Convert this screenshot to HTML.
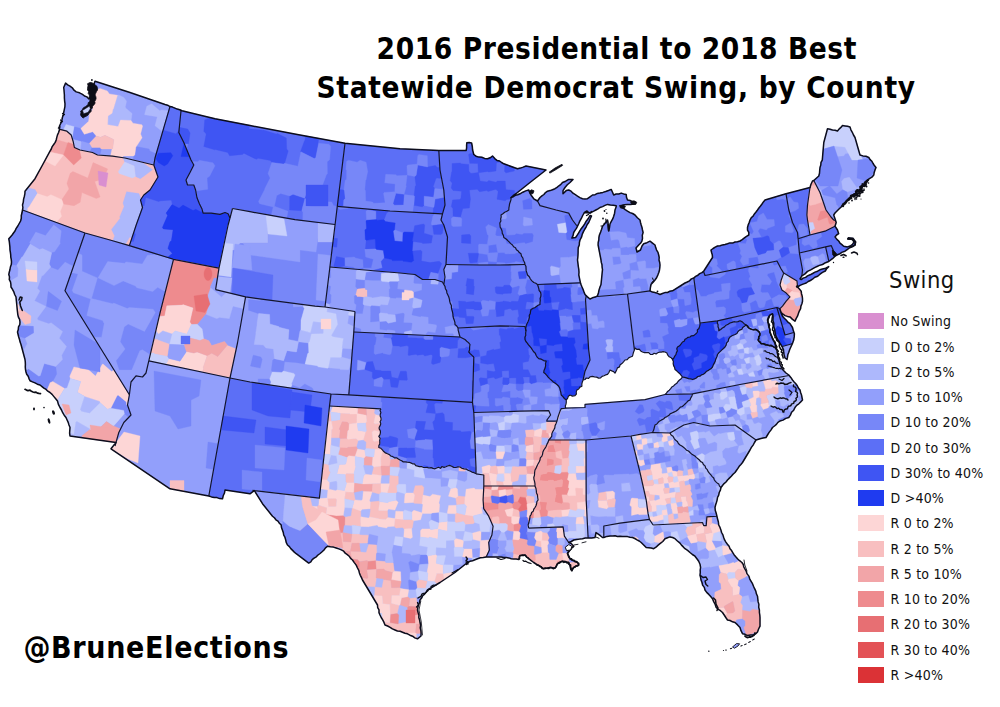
<!DOCTYPE html>
<html><head><meta charset="utf-8"><title>2016 Presidential to 2018 Best Statewide Democrat Swing, by County</title>
<style>
html,body{margin:0;padding:0;background:#fff}
#page{position:relative;width:1000px;height:707px;overflow:hidden;background:#fff;font-family:"DejaVu Sans Condensed","DejaVu Sans","Liberation Sans",sans-serif;color:#000}
.t{position:absolute;white-space:nowrap;font-weight:bold;font-size:29.5px;letter-spacing:0.67px;line-height:1}
.sw{position:absolute;left:857.5px;width:26.7px;height:16px}
.lb{position:absolute;left:890.6px;font-size:14px;line-height:19px;white-space:nowrap;letter-spacing:0.2px;color:#111}
</style></head><body><div id="page">
<svg width="1000" height="707" viewBox="0 0 1000 707" style="position:absolute;left:0;top:0">
<defs><clipPath id="us"><path d="M65.6,83.1 67.7,84.8 70,86.2 72.3,87.8 74,90.2 76.2,91.9 79.5,92.8 82.5,94.4 84.5,96 86.9,96.9 89,99 90.3,96.8 91.2,94.4 92,92 92.5,89.3 93.7,86.8 94,84 95,81.2 130,92.5 165,104.5 167.6,105.2 170,106.6 172.5,107.1 174.9,108.1 177.2,109.1 179.7,109.7 182,110.8 215,118.8 250,125.5 300,135 345,143.3 400,148.8 438.8,150.5 466.2,150.5 466.6,147.9 466.6,145.4 466.8,142.8 469.2,142.5 471.6,143 472.3,146.5 472.6,150 473.8,154.5 476,156.2 478.8,157.1 481.8,157.2 484.6,158.4 487.5,158.8 490.2,157.8 492.5,156 495,158.8 497,160.4 499.6,161 501.6,162.5 503.8,163.8 517.5,168.8 520.4,168.1 523.2,167.1 526,166 546,170 530,182.5 517.5,192.5 515.3,194.1 513.1,195.7 511,197.5 513.3,196.7 515.4,195.4 517.7,194.7 520,193.8 522.8,192.2 525.7,190.9 528.8,190 529.7,192.6 531,195 533.8,198.8 537.5,201 540,197.5 541.9,195.9 543.9,194.5 545.5,192.6 547.5,191.2 550.1,190.6 552.5,189.7 555,188.7 557,187.4 558.9,185.8 560.9,184.3 562.5,182.5 565.7,181.2 568.7,179.4 573,179.4 570,182.5 567.3,184.8 565,187.5 563,190.6 563,193.7 566.2,190.6 568.7,190 571.1,191.2 573,193.2 575.3,194.7 577.5,196.2 579.9,197.6 582.5,198.7 585,199 587.5,198.7 590,196.8 592.5,195 595.1,194.7 597.4,193.4 600,193.1 602.9,192.4 605.7,191.5 608.5,190.5 611.2,189.4 612.5,192.2 613.7,195 616.1,194 618.8,194 621.2,193.1 623.6,193.9 626.2,194.4 626.5,197.3 627.5,200 630.1,200.4 632.4,201.6 635,201.9 635.6,203.7 632.9,204.3 630.2,204.6 627.5,204.4 624.2,204.8 621,206 623,207.9 625.2,209.7 627.5,211.2 630,212.6 632.6,213.5 635,215 637.4,217.7 640,220 640.5,222.5 641.2,225 642,227.5 642.5,230 643.1,232.5 642.3,235.3 642.5,238.3 641.9,241.2 640.5,243.3 638.7,245 636,248 637,252 640.5,250 642,246 643.7,243.7 647,242.7 650,241.2 652.5,243.1 655,245 655.7,247.6 656.6,250.1 658,252.4 658.7,255 659.2,257.5 659,260 659.7,262.5 660,265 659.8,267.5 659.5,270 658.8,272.5 657.8,275.1 656.6,277.7 655,280 653.1,282.3 651,284.5 650.4,287.6 650,290.8 652.4,292.1 655,292.6 657.6,293.3 660,294.5 662.4,293.5 664.9,292.6 667.6,292.5 669.9,291.2 672.5,290.8 685,283 687.3,282 689.5,280.8 691.4,278.9 693.8,278 695.6,276.4 697.9,275.3 699.6,273.6 702,272.6 703.8,271 712.5,257.5 712.3,254.9 711.6,252.5 711,250 713.1,248.5 715.2,247.2 717.5,246 720.1,245.8 722.5,244.9 725,244.4 727.5,243.8 729.9,242.9 732.6,243.1 735,242 737.5,241.8 740,241 742.2,239.6 744.4,237.9 746.5,236.4 748.8,235 748.8,232.4 747.5,230.1 747.5,227.5 748.2,224.9 749.2,222.5 750,220 751.2,217.8 753.1,216.1 754.4,213.9 756,212 757.5,210 758.9,208 760.5,206 762,204 763.4,201.9 765,200 786,193.8 810,187.5 811,184.2 812.5,181 813.8,180.5 816.3,178.2 818.8,176 819.5,173.2 819.7,170.3 820,167.5 820.8,165 821,162.4 822.3,160.1 822.5,157.5 823.8,142.5 827.5,128.8 830,129.2 832.5,130 835.1,130.2 837.5,131 839,129.1 840.9,127.4 842.5,125.5 845,125.9 847.5,126.3 850,127 850.9,129.8 852.3,132.3 853.5,135 855,137.5 860,155 862.9,155.9 866,156.3 868.8,157.5 870.1,159.6 871.9,161.3 873.1,163.5 874.4,165.6 876,167.5 875,169.9 874.2,172.4 873.8,175 871.9,177.2 869.4,178.7 867.1,180.5 865,182.5 863.6,185.2 862,187.7 860,190 857.5,191.7 855.2,193.7 852.5,195 850.5,196.8 848.5,198.5 847,200.8 845,202.5 842.8,204.4 841.2,207 839,209 837,211 835,213 833.7,215 835,218.7 836.2,222.5 835,226.2 837.5,230 838.7,233.7 836.6,235 835,236.9 836.9,239.4 838.7,241 840,243.1 841.9,244.6 843.7,246.2 847.5,246.9 850.2,246 852.5,244.4 854,242 852.5,239.6 848.1,238.9 848.3,237.8 853,238.2 855.6,241.9 855,245 852.7,246.6 850,247.5 847.5,249.3 845,251.2 842.3,252.1 840,253.7 837.4,254.8 835,256.2 832.5,258.7 828.7,261.5 825.5,262.7 822.5,264.5 819.4,265.4 816.5,266.7 813.7,268.2 810.7,269.9 807.5,271.4 805,273.9 801.9,275.8 800,278.8 801.2,279.6 803.1,278.1 805.6,277.4 807.5,275.9 810.1,274.8 812.6,273.5 815,272.1 817.6,271.2 819.9,269.8 822.5,269 825.7,268.2 828.7,266.6 826.7,268.6 825.3,271 822.5,272.4 820,274.2 817.7,276.2 814.8,277.2 812.5,279.2 810.4,280.5 808.2,281.5 806.2,283 803,284.1 800,285.4 797.5,287 799.4,289.1 801.2,291.2 801.5,293.7 802.2,296.1 802.5,298.7 802.5,301.2 801.9,303.7 800.9,306.1 800.6,308.7 799.3,311.1 798.4,313.6 797.5,316.2 796.1,318.6 795,321.2 792.5,319.4 790,316.9 787.5,316.4 785,315.6 783,314.2 781.2,312.5 780,309.5 781.1,312.9 782.5,316.2 784.3,318.2 786.2,320 787.9,322.1 790,323.7 792.5,327.5 793.3,330.6 794.4,333.7 794.2,336.9 793.7,340 792.6,343.1 791.2,346.2 789.8,349.3 788.7,352.5 787.8,354.8 787.5,357.2 787,359.5 785,358 784.2,355.3 783.7,352.5 783.5,349.9 782.5,347.5 781.3,345.3 779.9,343.3 778.7,341.2 776.9,338.2 775.6,335 775.1,332.1 774.6,329.1 773.7,326.2 773.8,323.3 772.9,320.4 773.1,317.5 772.5,313.7 770,315 768.4,317.3 767.5,320 768.2,323.1 768.7,326.2 769.7,329.3 770,332.5 771.4,335.6 772.5,338.7 774,341.1 775,343.7 775.9,346.9 776.9,350 777.3,352.7 777.9,355.3 778.1,358 779.3,361.2 780,364.5 781.2,366.6 782.2,368.9 783.8,370.8 786,373 788.8,375 790.8,377.4 792.5,380 794.1,381.9 795.8,383.8 797.3,385.8 798.4,388.1 800,390 800.6,392.5 801.5,394.9 802,397.5 802.5,400 800.7,401.9 798.8,403.8 796.6,405.4 795,407.5 793.7,410.2 791.6,412.3 790.4,415.1 788.8,417.5 785.8,418.4 783,420.1 780,421 777.9,422.4 776.4,424.4 774.5,426 772.5,427.5 770.9,430.1 769.1,432.4 767.5,435 766,437.5 763,438.1 760,438.8 756,440 754.5,442.5 753.1,445.1 751.4,447.4 750,450 742.5,462.5 740.9,464.4 739.2,466.3 737.9,468.4 736.4,470.5 735,472.5 733,474.3 731.3,476.3 729.4,478.1 727.5,480 726,482 724.1,483.6 722.5,485.5 721,487.5 720.4,490.1 719.2,492.5 718.7,495.1 717.5,497.5 717.1,500.1 716.4,502.5 715.6,505 715,507.5 715.3,510.5 716.2,513.3 716.9,516.2 717.6,519.1 718.4,522 718.7,525 720,527.4 720.9,529.9 721.6,532.5 722.9,534.9 723.7,537.5 724.6,539.9 725.9,542.1 727.4,544.2 729.1,546.3 730,548.7 731.6,550.6 732.9,552.8 734.2,554.9 735.8,556.8 737.5,558.7 739.6,560.7 741.9,562.5 743.3,564.5 743.8,567 745,569.1 746.2,571.2 747.1,573.9 748.9,576.1 749.7,578.8 751.1,581.3 752.5,583.7 753.5,586.2 754.6,588.7 755.8,591.1 756.4,593.8 757.5,596.2 757.8,599 758.1,601.7 758.9,604.4 758.7,607.3 759.4,610 759.4,612.5 759.8,615 760,617.5 760,620 760,623.1 760,626.2 758.6,629 757.5,631.9 755.8,633.7 753.7,635 750.6,635.1 747.5,635.6 745.1,634.3 742.5,633.7 741,630.7 740,627.5 737.6,624.9 735,622.5 732.5,621.8 730.1,620.5 727.5,620 725.8,617.5 724.2,615 722.5,612.5 720.5,610.7 718.2,609.3 716.2,607.5 715.2,604.5 713.7,601.6 712.5,598.7 710.7,596.5 708.8,594.4 706.7,592.4 705,590 704.3,587.4 702.6,585.1 702,582.5 701,580 700.6,577.5 700,575 700.3,572.5 700.2,570 700.6,567.5 700,564.2 698.7,561.2 696.9,558.7 695,556.2 692.4,554.5 690,552.5 687.6,550.4 685,548.7 683.3,546.9 681.5,545.1 680,543.1 677.4,541 675,538.7 672.6,537.5 670,536.9 667.5,537.7 665,538.7 662.8,541.5 660,543.7 657.9,545.4 656,547.2 653.7,548.7 651.2,548.1 648.7,547.7 646.2,547.5 643.7,545 641.2,542.5 639.2,541 637,539.8 634.8,538.5 632.5,537.5 630,537.3 627.5,536.6 625,536.4 622.5,536.6 620,536.2 617.5,536.5 615,535.8 612.5,535.9 610,536 606.8,536.4 603.8,537.5 602.5,537.5 600.4,535.7 598.2,534.1 596,532.5 595.6,535 595,537.5 591.6,538 588.1,538 585.2,538 582.5,538.7 579.6,539.1 576.6,539.4 573.7,540 571.3,541.5 568.7,542.5 571.2,543.5 573.7,546.2 571.7,548 570,550 567.5,553.7 568.9,556.1 570,558.7 572.3,560.3 575,561.3 577.5,562.5 578.7,565 576.1,566 573.7,567.5 571.9,570.6 570.6,568.5 570,566 568.7,562.5 565.6,561.6 562.5,561.2 559.8,562.1 557.5,563.7 556.4,566 555,568.1 552.5,568.1 550,567.5 546.9,568.3 543.7,568.7 541.6,567.5 539.8,565.9 537.5,565 533.7,562.5 531.2,560.6 528.7,558.7 526.7,557 525,555 522.5,555.1 520,555.6 518.7,559.4 516.2,559 513.7,559 511.2,558.7 508.8,557.9 506.3,557.5 503.7,557.4 501.2,556.9 486.2,556.9 483.3,557.5 480.3,557.8 477.5,558.8 475,559.7 472.5,560.7 469.9,561.3 467.5,562.5 455,572.5 440,582.5 427.5,590 426.1,592.1 424.6,594.1 422.7,595.8 421.6,598.1 420,600 419.5,602.5 418.5,604.9 417.9,607.4 417.5,610 418.1,612.5 418.9,614.9 418.8,617.5 419.6,620 420,622.5 420.6,625.2 420.2,627.9 420.9,630.6 421.1,633.3 421,636 417.5,638.8 414.8,637.9 412.6,636.2 409.9,635.2 407.5,633.8 405,633.2 402.5,632.2 400.1,631.2 397.4,631 395,630 392.4,628.9 390.1,627.3 387.6,626 385,625 384,622.4 382.7,619.9 381.2,617.5 380,615 379,612.6 379,609.9 377.7,607.6 377.5,605 370,592.5 362.5,580 361.5,577.6 360.3,575.3 359.4,572.9 358.8,570.3 357.5,568 356.2,565.1 354.3,562.6 352.5,560 350.6,558.4 349.2,556.2 347.3,554.6 345.2,553.2 343.7,551.2 341.3,549.9 338.8,548.9 336.2,548 333.4,547.1 330.4,546.8 327.5,546.2 325.5,547.9 324,550 322.1,551.8 320.1,553.5 318,555 316.3,556.8 314.1,558.1 312.2,559.6 310.8,561.8 308.7,563.1 296.2,553.7 294.3,552.1 292.6,550.4 290.8,548.6 289.4,546.6 287.5,545 286.3,542.6 285.7,540 285,537.4 283.7,535 283.3,532.5 282.4,530 281.5,527.6 281.2,525 279.4,523.3 278,521.2 275.9,519.8 274.4,517.8 272.5,516.2 262.5,503.7 254.4,490.6 252.2,492.2 250,493.8 225,490 224.5,493 223.2,495.8 222.5,498.8 219.7,498.6 217,497.6 214.2,497.4 211.5,496.9 208.8,496 170,488.8 111,448.8 112.6,446.7 114.4,444.6 116,442.5 70,436 69.6,433.2 69.8,430.3 70,427.5 69,425 68.2,422.4 67.1,420 66,417.5 64.2,415.2 62.7,412.7 61.5,410 60,407.5 58.4,404.4 57.5,401 55.7,398.8 53.9,396.6 52.1,394.4 50,392.5 47.8,391.2 46.1,389.4 43.9,388.1 42,386.6 40,385 37.4,384.2 35,382.9 32.5,381.9 30,380.8 29,378.6 28.2,376.3 26.7,374.3 26,372 25.5,369.5 25.3,367 25.4,364.5 25.3,362 25,359.5 21,344.5 20.1,342.1 19.5,339.5 18.7,337 18.1,334.5 17.5,332 18.3,329.5 18.5,326.9 19.8,324.6 20,322 19.6,319.4 18.4,317.1 17.8,314.6 17.5,312 16,297 14.7,294.5 13.8,291.8 12.5,289.4 11,287 10.9,284.4 10.5,281.9 9.3,279.6 9.5,276.9 8.8,274.5 9.3,272 10,269.5 10.4,267 11.3,264.6 11.5,262 11.3,259.6 10.8,257.2 10.7,254.8 10.4,252.4 10,250 9.9,247.2 9.6,244.3 9.3,241.5 8.8,238.8 10.4,236.9 12.1,235 13.5,233 15,231 16.2,228.4 17.8,226 19.2,223.5 20.6,221 21.3,218.3 21.3,215.5 22,212.8 22.5,210 22.9,207.5 22.5,205 23.3,202.1 23.6,199.1 24.4,196.2 24.9,193.7 25,191.2 35,178.7 42.5,165 50,151.2 51.3,149 52.2,146.6 53.7,144.5 55.2,142.4 56.2,140 56.8,137.4 57.5,134.9 58.6,132.5 59.4,130 59.4,126.2 60.8,123.2 61.9,120 62.4,117.5 63.2,115 63.7,112.5 64.3,109.6 64.9,106.7 65,103.7 64.6,100.8 64.4,97.9 64.4,95 64.2,92.5 64,90 63.7,87.5ZM616.2,205.8 613.3,205.3 610.4,205.1 607.5,204.4 605,205.4 602.6,206.6 600,207.5 598,208.9 595.9,210 593.7,211.2 590,213.1 587.2,212.8 584.4,212.5 582.7,215.5 581.2,218.7 579.8,221.1 578.7,223.7 577.5,226.2 576.4,228.4 575,230.4 573.7,232.5 573.1,235.4 571.9,238.1 575.6,237.5 577.1,235.3 578.5,233.2 579.8,230.9 581.2,228.7 583.1,226.3 584.7,223.8 586.2,221.2 588.3,218.5 590,215.5 591.5,216 590.1,219.2 588.7,222.5 587.2,224.5 586.2,226.8 584.9,229 583.7,231.2 582.3,234.1 581.5,237.2 580,240 579.4,242.5 579.3,245 578.3,247.4 578.1,250 578.1,252.5 578,255 577.8,257.5 577.5,260 577.9,263.2 578.3,266.3 578.8,269.5 579,272.2 578.8,275 579.3,277.4 579.8,279.8 580.3,282.2 581,284.5 582,287 583.1,289.5 584,292 585,294.5 587.4,296.9 590,299 592.4,297.8 595.1,297.1 597.5,295.8 598.4,293 599,290.1 599.9,287.2 601,284.5 602.5,269.5 602.1,267.1 602,264.7 601.3,262.4 601,260 598.1,245 598.2,242.5 598.8,240 598.9,237.5 599.4,235 600.6,232.1 601.6,229.2 602.5,226.2 604.3,224.2 605.9,222.1 607.5,220 608,222.5 608.1,225 608.4,228 608.7,231 609.5,227.5 610,224 611.3,221.4 612.7,218.9 613.7,216.2 614.6,213.2 615,210 616.2,206.8Z"/></clipPath></defs>
<g stroke-width="0.35" stroke-linejoin="round">
<path d="M170,106.6 167.6,105.2 165,104.5 130,92.5 95,81.2 94,84 93.7,86.8 92.5,89.3 92,92 91.2,94.4 90.3,96.8 89,99 86.9,96.9 84.5,96 82.5,94.4 79.5,92.8 76.2,91.9 74,90.2 72.3,87.8 70,86.2 67.7,84.8 65.6,83.1 63.7,87.5 64,90 64.2,92.5 64.4,95 64.4,97.9 64.6,100.8 65,103.7 64.9,106.7 64.3,109.6 63.7,112.5 63.2,115 62.4,117.5 61.9,120 60.8,123.2 59.4,126.2 59.4,129.3 60,129.4 66.9,131.2 71.2,135 73.1,141.2 74.4,147.5 80,150 92.5,152.5 97.5,155 112.5,156.2 125,158 153.8,165 155,158 165,123.7Z" fill="#929FFB" stroke="#929FFB"/>
<path d="M63.2,130.2 66.9,131.2 71.2,135 72.4,139 74.5,126.8 66.1,124.4Z" fill="#C8D0FC" stroke="#C8D0FC"/>
<path d="M96.3,136 92.7,131.7 84.3,134.2 80.9,128.5 74.4,126.8 72.4,138.9 72.5,139.3 81.2,141.7 82.1,141.1 89.5,143.2ZM101.4,149 100,147.4 92.1,147.4 89.9,152 92.5,152.5 97.5,155 99.9,155.2ZM135.8,146.7 134.7,154.9 133.6,155.9 133.3,160 145.6,163 145.9,162.6 154,163.8 155,158 156.2,153.8 149.8,151 149.1,149 136.3,146.5Z" fill="#7787F8" stroke="#7787F8"/>
<path d="M118.8,94.9 117.5,95.2 113.4,108.9 112.9,109.2 112.1,113.1 108,115.8 107.6,124.8 118.2,126.7 120.5,120.1 131.1,120.5 132.1,113.4 125.9,108.3 125.3,106.9 126.6,101.3 123.9,97.5ZM157,116.7 157.2,117.2 155,125.8 162.6,131.8 165,123.7 168.8,110.7 161.6,109.9 159.8,110.8 151.6,103.7 146.8,106.2 144.6,114.3 144.8,114.7ZM80.3,150.1 80.4,150.1 81.2,141.6 72.5,139.3 73.1,141.2 74.4,147.5 76.4,148.4Z" fill="#ADB8FC" stroke="#ADB8FC"/>
<path d="M107.3,90.9 100.1,88.4 94.8,90.5 93.8,97.2 90.8,100.2 92.6,109.8 89.6,112 88.6,121.3 80.8,128.5 84.3,134.3 92.7,131.8 96.3,136 100.6,137.3 104.9,135.3 113.7,139.6 112.7,148.3 112,148.9 110.5,156 112.5,156.2 122.5,157.6 123.2,156 133.6,155.9 134.8,154.9 135.9,146.8 136.3,146.6 142.1,137.8 140.6,133.9 142.6,126 141.8,124.7 132.9,123.2 131.1,120.5 120.5,120.1 118.1,126.6 107.7,124.7 108,115.9 112.1,113.2 113,109.3 113.4,108.9 117.5,95.2 109.4,93.9Z" fill="#FDD6D6" stroke="#FDD6D6"/>
<path d="M101.3,149 112,149 112.8,148.4 113.8,139.6 104.9,135.3 100.6,137.2 96.3,136 89.5,143.2 92.1,147.5 100,147.4Z" fill="#F8BFC0" stroke="#F8BFC0"/>
<path d="M59.4,129.3 59.4,130 58.6,132.5 57.5,134.9 56.8,137.4 56.2,140 55.2,142.4 53.7,144.5 52.2,146.6 51.3,149 50,151.2 42.5,165 35,178.7 25,191.2 24.9,193.7 24.4,196.2 23.6,199.1 23.3,202.1 22.5,205 22.9,207.5 22.5,210 85,233 110,240 129.4,245.6 136.2,225 142.5,207.5 140.5,200 143.8,195 150,190 158,177 153.8,165 125,158 112.5,156.2 97.5,155 92.5,152.5 80,150 74.4,147.5 73.1,141.2 71.2,135 66.9,131.2 60,129.4Z" fill="#F8BFC0" stroke="#F8BFC0"/>
<path d="M124.7,162.2 134,166 135.4,176.4 140.4,178.7 152.5,169.8 152.4,169.5 142.1,162.2 125,158 123.2,157.7ZM27.7,187.8 25,191.2 24.9,193.7 24.4,196.2 23.6,199.1 23.3,202.1 22.5,205 22.9,207.5 22.5,210 27.7,211.9 27.9,207.9 28.8,207.4 37.4,193.6 35,189.5ZM114.6,235.7 112.9,240.8 125.4,244.4 129.8,236.9 131.9,238.2 136.2,225 142.5,207.5 140.5,200 141.1,199.1 138.9,193.6 126.6,191.7 123,203.1 124.1,206.4 119.7,216.9 120.2,218.2 111.5,229.4Z" fill="#ADB8FC" stroke="#ADB8FC"/>
<path d="M56.3,139.6 56.2,140 55.2,142.4 53.7,144.5 52.2,146.6 51.3,149 50,151.2 49.6,151.9 63.5,154.9 63.7,154.8 67.8,142.9ZM107.6,169.2 107.4,168.8 93.1,162.6 87.8,178 72.9,171.5 70.2,173.3 66.9,183.4 69,189.1 61.8,199.7 63.3,204 74.1,205.7 80.2,202.2 81.9,192.5 96.3,198.6 100.1,197 94.7,181.4 103.3,179Z" fill="#F2A5A8" stroke="#F2A5A8"/>
<path d="M49.6,151.9 46,158.5 46.2,161.4 55,166 63.5,154.9ZM28.8,207.4 27.8,207.8 27.6,211.9 56.2,222.4 61.6,216.3 60.2,211.6 63.3,204 61.9,199.7 50.9,194.7 47.2,196.8 37.4,193.6Z" fill="#FDD6D6" stroke="#FDD6D6"/>
<path d="M81.3,158.1 79.4,149.7 74.4,147.5 73.8,144.4 68.4,142.5 67.7,142.9 63.6,154.8 73.7,165Z" fill="#EE8B8E" stroke="#EE8B8E"/>
<path d="M118.4,171.6 119.1,173.4 132.3,178 135.4,176.4 134.1,166 124.7,162.1Z" fill="#C8D0FC" stroke="#C8D0FC"/>
<path d="M22.5,210 22,212.8 21.3,215.5 21.3,218.3 20.6,221 19.2,223.5 17.8,226 16.2,228.4 15,231 13.5,233 12.1,235 10.4,236.9 8.8,238.8 9.3,241.5 9.6,244.3 9.9,247.2 10,250 10.4,252.4 10.7,254.8 10.8,257.2 11.3,259.6 11.5,262 11.3,264.6 10.4,267 10,269.5 9.3,272 8.8,274.5 9.5,276.9 9.3,279.6 10.5,281.9 10.9,284.4 11,287 12.5,289.4 13.8,291.8 14.7,294.5 16,297 17.5,312 17.8,314.6 18.4,317.1 19.6,319.4 20,322 19.8,324.6 18.5,326.9 18.3,329.5 17.5,332 18.1,334.5 18.7,337 19.5,339.5 20.1,342.1 21,344.5 25,359.5 25.3,362 25.4,364.5 25.3,367 25.5,369.5 26,372 26.7,374.3 28.2,376.3 29,378.6 30,380.8 32.5,381.9 35,382.9 37.4,384.2 40,385 42,386.6 43.9,388.1 46.1,389.4 47.8,391.2 50,392.5 52.1,394.4 53.9,396.6 55.7,398.8 57.5,401 58.4,404.4 60,407.5 61.5,410 62.7,412.7 64.2,415.2 66,417.5 67.1,420 68.2,422.4 69,425 70,427.5 69.8,430.3 69.6,433.2 70,436 116,442.5 118.8,432.5 123.8,422.5 131,415 127.5,405 129.4,394.8 65,290.8 85,233Z" fill="#929FFB" stroke="#929FFB"/>
<path d="M13.1,233.6 12.1,235 10.4,236.9 8.8,238.8 9.3,241.5 9.6,244.3 9.9,247.2 10,250 10.4,252.4 10.7,254.8 10.8,257.2 11.3,259.6 11.5,262 11.3,264.2 16.8,265.4 21.9,256.9 22.7,256.7 30.2,244.1 29.3,242.4 35.6,231.7 45.5,235.2 53.7,224.4 61.6,230.7 60.2,242.2 60.6,243.4 54.7,252 51.7,252.8 49.2,264 50.7,267 57.9,269.8 65.1,261.8 73.5,266.2 85,233 22.5,210 22,212.8 21.3,215.5 21.3,218.3 20.6,221 19.2,223.5 17.8,226 16.2,228.4 15,231 13.9,232.4ZM18.2,334.9 18.5,336 25.2,338.3 34,332.9 33.8,325.8 20.3,325.2 17.7,332.7 18,334.1ZM33.7,382.4 35,382.9 37.4,384.2 40,385 42,386.6 43.9,388.1 46.1,389.4 47,390.4 50.1,382.7 52.7,381.5 56.7,374 55.7,366.5 44.1,363.4 40.1,375.7 38.7,376.1 28.5,368.6 25.7,370.6 25.8,371.1 26.5,373.6 26.7,374.3 28.2,376.3 29,378.6 30,380.8 31.3,381.4ZM68.6,277.4 68.9,279.5 70,276.5ZM61.5,301.3 48.5,291.6 48.2,291.8 46.4,306.3 57.4,310.5ZM126.7,404.7 126.5,401.8 118.3,395.1 117.2,395.3 110.8,408.2 123.6,410.4 124.3,413.7 128.8,417.3 131,415 127.5,405 127.5,404.9Z" fill="#7787F8" stroke="#7787F8"/>
<path d="M16.7,265.3 18.3,268.4 17.9,276.4 11.2,280.6 11,287 12.5,289.4 13.8,291.8 14.7,294.5 16,297 17.5,312 17.8,314.6 18.4,317.1 19.6,319.4 20,322 19.8,323.9 20.3,325.3 33.8,325.9 34,332.9 25.2,338.3 27.3,343.8 22.9,351.5 25,359.5 25.3,362 25.4,364.5 25.3,367 25.4,367.7 25.7,370.4 25.7,370.7 28.5,368.7 38.6,376.1 40.2,375.7 44.2,363.5 55.7,366.5 62.5,359.6 61.7,355.3 66.5,346.5 59.3,338.3 62.6,331.5 51.1,322.8 48.8,323.8 37.8,319.9 37.3,318.3 46,306.4 34.5,300.8 39.9,291.1 37.3,288.2 41.9,275.7 43.1,275.6 50.8,267 49.2,264 51.7,252.8 42.6,248.6 39.5,249.6 30.2,244.1 22.7,256.7 21.9,256.9ZM80.2,409.5 81.4,411.7 89.7,413.3 100.3,402.8 99.9,401.2 84.5,396.3ZM75.6,422.1 73.9,434 73.3,434.1 69.7,432.4 69.6,433.2 70,436 78.4,437.2 78.5,436.5 81.6,436.1 89.8,429.7 89.5,428.5 76.9,421.2Z" fill="#ADB8FC" stroke="#ADB8FC"/>
<path d="M73.9,366.9 69.8,376.2 70.4,378.5 80.7,381.5 77.3,392.3 84.5,396.3 99.9,401.3 100.2,402.8 107.4,409.2 110.8,408.2 117.2,395.4 118.3,395.2 126.4,401.9 126.6,404.8 127.5,405 129.4,394.8 114,369.9 111.6,371.6 103,364 102.3,364.2 95.5,376.1 86.3,367.7 83.3,368.9ZM57.3,400.4 64.6,388.5 52.7,381.4 50.1,382.7 47,390.3 47.8,391.2 50,392.5 52.1,394.4 53.9,396.6 55.7,398.8 57.1,400.4Z" fill="#FDD6D6" stroke="#FDD6D6"/>
<path d="M64.6,388.5 57.2,400.4 57,400.4 57.5,401 58.4,404.4 60,407.5 61.5,410 62.7,412.7 64.2,415.2 66,417.5 67.1,420 68.2,422.4 69,425 70,427.5 69.8,430.3 69.7,432.5 73.3,434.2 73.9,434 75.7,422.1 76.9,421.3 89.5,428.6 89.8,429.7 95.2,432.6 106.5,421.4 113,426 113.7,425.9 124.4,413.7 123.7,410.4 110.8,408.2 107.4,409.1 100.2,402.8 89.6,413.3 81.5,411.6 80.2,409.5 84.5,396.3 77.4,392.2 80.8,381.5 70.4,378.5 67.1,388Z" fill="#C8D0FC" stroke="#C8D0FC"/>
<path d="M89.8,429.6 81.6,436.1 83.3,437.9 116,442.5 118.8,432.5 120.5,429.1 113.7,425.9 113.1,426 106.5,421.4 95.2,432.5Z" fill="#F2A5A8" stroke="#F2A5A8"/>
<path d="M129.4,245.6 110,240 85,233 65,290.8 129.4,394.8 131,382 136,375.8 142.5,377 146,373 148.8,360.8 160,313 173.5,259.3Z" fill="#7787F8" stroke="#7787F8"/>
<path d="M78,273.9 72.2,290.6 73.5,292.8 90.7,299.1 86.8,315.6 102.7,320.6 104.2,323.7 101.6,337.2 93.7,337.2 128.2,392.9 129.7,392.3 131,382 136,375.8 142.5,377 146,373 148.8,360.8 150.2,354.8 142.4,349.8 139.8,350.8 131.8,370.1 119,370.1 116,360.7 125.1,349 120.2,341.8 124.2,326.9 128.1,324.1 144.5,331.4 155.3,312.5 153.1,309.2 129.2,307.5 127.4,308.6 113.7,303.1 112.6,303.7 91.5,298.5 97.4,277.9 82.1,271.3 82.1,255.1 78.1,253 71.3,272.5ZM123.2,280.9 135.5,286 136.8,287.7 152.7,291.6 157.7,287.3 165.4,291.7 173.5,259.3 157.9,254.4 147.5,255.2 142.3,264 126,261.9 124.5,263.3 107.7,261.6 98,277.8 114,285.6Z" fill="#929FFB" stroke="#929FFB"/>
<path d="M181.1,110.4 179.7,109.7 177.2,109.1 174.9,108.1 172.5,107.1 170,106.6 170,106.6 165,123.7 155,158 153.8,165 158,177 150,190 143.8,195 140.5,200 142.5,207.5 136.2,225 129.4,245.6 173.5,259.3 219,268.1 228.1,225 230,218 228.1,213.7 225,212.5 220,214.4 211.2,213.1 203.1,213.1 201.9,208.7 199.4,203.7 196.9,197.5 195.6,190 193.8,185 187.5,185 186,180 190,172.5 193.8,165 191,160 183.8,142.5 178.8,132.5 181,111Z" fill="#3F55F3" stroke="#3F55F3"/>
<path d="M144.6,205.5 144.1,205.9 142.1,206.2 142.5,207.5 136.2,225 134.1,231.4 135.8,234.6 133.6,242 130.8,241.4 129.4,245.6 167.5,257.4 172.4,253.4 168,248.4 170,241.7 171.5,240.8 173.1,229.7 163.5,228.8 162.5,227.6 167.7,215.4 166.2,213.1 172.1,204.7 171.1,200.4 159.7,201.3 159,202 146,197.8ZM164.6,130.3 176,133.5 177.7,131.6 178.9,131.5 181,111 181.1,110.4 179.7,109.7 177.2,109.1 175.9,108.5 173.9,107.7 172.5,107.1 170,106.6 170,106.6 165,123.7 163.7,128.1Z" fill="#5C6FF6" stroke="#5C6FF6"/>
<path d="M189.6,156.7 184.5,144.2 183.7,144.4 181,156.6ZM158.3,162.4 164.2,166 167.5,164 172.8,155.7 170.8,152.7 158.1,153.2 156,158.8ZM166.1,213.1 167.6,215.4 162.4,227.6 163.4,228.9 173.1,229.7 171.4,240.7 170,241.7 167.9,248.4 172.4,253.4 167.4,257.4 173.5,259.3 219,268.1 228.1,225 230,218 228.1,213.7 225,212.5 220,214.4 211.2,213.1 203.1,213.1 202.5,210.8 200.9,212 195.8,209.3 193.1,210.5 183,205.1 179.1,208.2 172,204.6Z" fill="#1F3BF0" stroke="#1F3BF0"/>
<path d="M345,143.3 300,135 250,125.5 215,118.8 182,110.8 181.1,110.4 181,111 178.8,132.5 183.8,142.5 191,160 193.8,165 190,172.5 186,180 187.5,185 193.8,185 195.6,190 196.9,197.5 199.4,203.7 201.9,208.7 203.1,213.1 211.2,213.1 220,214.4 225,212.5 228.1,213.7 230,218 232.5,208.5 250,211.7 295,219.7 335.1,224.5 337.3,206.3Z" fill="#5C6FF6" stroke="#5C6FF6"/>
<path d="M208.5,118.3 204.7,119.9 203.8,131.2 206.2,133.9 203.8,146.5 214.6,149.8 215.2,149.5 227.7,152.5 229.6,155.8 242.5,154.4 243.9,153.2 256.3,159.3 258.2,158.3 270.4,160.4 271.9,162.4 283.5,164.1 284.6,163.4 288.2,151 286.7,149 286.3,138 277.5,133.6 276.4,134 263.3,130.1 263,130.3 249,128.8 249.5,125.4 215,118.8 208.9,117.3ZM187.7,144.2 188.5,143.7 190.1,133 187.7,129.1 179.3,127.3 178.8,132.5 183.8,142.5 184.4,144ZM300.6,151.4 300.9,151.9 314.2,158.6 315.8,157.9 318.7,143.4 318.1,142.8 318.8,138.5 305.5,136 305,140.3 304.5,140.7ZM342.8,161.7 343.3,157.2 342.1,160.4ZM305,198.7 318.8,201.7 319.1,201.4 320.7,186.9 309.4,185 304.7,198.1 293,194.2 289.7,196 289.6,210 301.9,210.7Z" fill="#3F55F3" stroke="#3F55F3"/>
<path d="M187.8,144.1 184.4,144 186.7,149.5ZM207.8,189.3 207,178 209.6,176.3 215,165.8 212.9,162.7 199.3,160.3 197.8,161.7 191.9,161.6 193.8,165 190,172.5 186,180 187.5,185 193.8,185 195.6,190 195.8,191ZM283.5,164.1 271.8,162.4 268,173.6 270.1,178.1 264.6,189.1 264.7,189.5 258.5,201.6 259.6,203.7 273.2,207 271.1,215.5 286.7,218.2 288,211.3 274.4,206.2 276.7,195.5 280.7,193.5 289.7,196 293,194.3 304.7,198.2 309.5,185 320.6,186.9 322.2,186 326.4,174.7 327.4,173.9 327.2,161.8 329.6,159.7 330.7,146.2 328.9,144.3 318.6,143.3 315.7,157.8 314.2,158.5 300.9,151.8 297.9,166.2 284.6,163.3ZM333.5,205.5 331.7,202 319,201.4 318.7,201.7 304.9,198.6 301.8,210.6 303.1,212.4 302.8,220.6 335.1,224.5 337.3,206.6Z" fill="#7787F8" stroke="#7787F8"/>
<path d="M232.5,208.5 230,218 228.1,225 219,268.1 215.6,289.7 245.6,296.9 315,306.2 325,307 329.9,267 335.1,224.5 295,219.7 250,211.7Z" fill="#7787F8" stroke="#7787F8"/>
<path d="M219,268.1 173.5,259.3 160,313 148.8,360.8 230,378 237.5,343 245.6,296.9 215.6,289.7Z" fill="#ADB8FC" stroke="#ADB8FC"/>
<path d="M159.6,314.5 159.2,316.4 164.8,316.1 166.9,305.9 182.5,305.1 182.9,304.7 192.9,308.1 189.7,322 191.4,324.5 197.8,324.3 205.7,314.4 209.1,303.6 206,300.1 210.5,287.3 210.3,286.9 214.2,277.9 217.3,278.6 219,268.1 173.5,259.3 166,289.3Z" fill="#EE8B8E" stroke="#EE8B8E"/>
<path d="M182.5,305.1 166.8,305.8 164.7,316 159.2,316.4 155.9,330.5 158.6,333.8 162.8,330.6 172.4,333.7 175.2,331 186.8,334.2 191.5,324.5 189.8,322 193,308 182.9,304.6ZM193.7,353.1 186.4,351.5 180,361.2 168.9,358.4 165.8,364.4 202.6,372.2 203.6,368.3 203.2,367.6 207.2,355.6 197.1,351.9Z" fill="#FDD6D6" stroke="#FDD6D6"/>
<path d="M153.6,353.2 154.7,354.1 167.8,356.5 169.7,344.3 157.8,339.9 157.5,339.4 153.9,339.1 150.6,353ZM211.7,353.1 207.2,355.6 203.1,367.6 203.5,368.3 202.5,372.2 230,378 236.3,348.5 227.3,345 217.8,356.4Z" fill="#F8BFC0" stroke="#F8BFC0"/>
<path d="M191.4,324.5 186.8,334.1 175.2,331 172.4,333.6 169.6,344.3 184.4,345.1 187.6,337.4 199.9,340.6 204.1,338.8 202.7,329.1 197.8,324.3ZM168.9,358.5 167.8,356.5 154.7,354.1 153.7,353.1 150.6,353 148.8,360.8 165.8,364.4Z" fill="#C8D0FC" stroke="#C8D0FC"/>
<path d="M221.5,296.8 226,292.6 227.3,292.5 215.6,289.7 217.4,278.6 214.2,277.9 210.3,286.9 210.5,287.3ZM205.6,314.4 197.7,324.3 202.6,329.1 204,338.8 208.8,340.8 211.7,345.7 224.5,341.4 227.3,345 236.3,348.6 237.5,343 243.5,309 233.1,306.6 229.5,318.9 219.4,317.7 216.9,318.9ZM184.4,345.1 169.6,344.3 167.7,356.5 168.9,358.5 180,361.2 186.5,351.5Z" fill="#929FFB" stroke="#929FFB"/>
<path d="M186.4,351.5 193.8,353.1 197.1,352 207.2,355.7 211.7,353.2 217.8,356.5 227.4,345 224.5,341.4 211.7,345.6 208.9,340.7 204,338.8 199.9,340.5 187.6,337.3 184.3,345.1Z" fill="#F2A5A8" stroke="#F2A5A8"/>
<path d="M116,442.5 114.4,444.6 112.6,446.7 111,448.8 170,488.8 208.8,496 230,378 148.8,360.8 146,373 142.5,377 136,375.8 131,382 129.4,394.8 127.5,405 131,415 123.8,422.5 118.8,432.5Z" fill="#929FFB" stroke="#929FFB"/>
<path d="M230,378 250,382 331,394 348.8,394.8 353.8,332 355,311.5 325,307 315,306.2 245.6,296.9 237.5,343Z" fill="#929FFB" stroke="#929FFB"/>
<path d="M260.3,300.9 248.8,299.4 248.5,299.6 248.6,310.2 258.7,313.7 259,313.4 269.6,314.5 269.8,323.9 278.8,326.6 279.1,327.3 288.9,329.8 288.2,339.5 298.2,341.5 300.1,330.8 301,330.1 301.1,320.3 304.4,308.3 303.2,306.8 293,307.2 292.9,307.1 293.1,303.3 260.8,298.9ZM260.8,357.1 253.4,355.2 253.1,355.4 250.5,366 260.2,368.1 262.2,359.2ZM271.4,370.3 272.3,372 281.9,372.5 283.4,371.1 284.5,361.8 295.5,362.4 305,364 307.8,353.6 308.9,352.9 308.5,342.8 298.4,341.7 296.6,351.7 296.3,351.9 287.4,350.7 286.8,351.1 283.6,360.6 274.4,358.7 272.6,360.4ZM269.7,379 258.1,378.9 258.2,383.2 270.2,385 271.1,382ZM312.3,387.9 304.8,384 299.8,387.9 291.9,384.9 290.6,388 312.9,391.3 313.3,389.9Z" fill="#7787F8" stroke="#7787F8"/>
<path d="M255.9,333.7 254.1,344.5 263.3,345 265.9,347.9 273.4,348.9 274.4,358.7 283.6,360.7 286.8,351.2 287.4,350.7 296.3,352 296.6,351.7 298.5,341.8 308.4,342.9 309.6,341.8 311.5,334.1 322.4,333.9 323.5,333 323.5,323.5 323,322.5 313,321.5 310.4,332.5 300.9,330 300,330.8 298.1,341.4 288.3,339.4 289,329.7 279.1,327.2 278.8,326.6 269.9,323.9 269.6,314.5 259,313.4 258.6,313.6 257,323.5 257.2,323.7 255.7,333.4ZM326.8,312.2 335.8,313.9 337.7,324.6 337.2,324.8 331.3,335.2 332.5,336.9 343.1,338.5 341.8,347.4 342.2,348.2 352.4,349 353.3,338.2 352.9,337.7 353.5,335.5 353.7,333 353.9,330.5 354.1,326.8 347.5,323.6 348.8,315.3 348.3,314.3 349.5,310.7 327.1,307.3ZM348.6,369.8 351.5,361.5 351.5,360.4 350.8,359.5 341.3,357 340.6,357.5 330.4,357.1 328.3,367.7 339.7,368.7 340.4,369.6ZM348.6,382.4 349.8,382.6 350.3,376.1 348.4,382Z" fill="#ADB8FC" stroke="#ADB8FC"/>
<path d="M310.4,332.6 313.1,321.5 322.9,322.6 323.4,323.5 323.4,332.9 322.4,333.8 311.4,334.1 309.6,341.7 308.4,342.8 308.8,352.8 307.7,353.6 305.1,363.9 317.3,365.7 318,366.8 327.6,368.3 328.3,367.7 330.5,357.2 340.6,357.6 341.4,357 342.3,348.2 341.9,347.4 343.2,338.5 332.6,336.8 331.4,335.2 337.3,324.9 337.7,324.6 335.9,313.8 326.8,312.1 327.2,307.3 325,307 315,306.2 303.5,304.7 303.2,306.8 304.4,308.3 301,320.2 300.9,330.1ZM269.7,379 271.1,382 270.2,385 290.6,388 292,385 291.4,383.8 295,374.9 293.9,373.4 283.4,371.1 281.8,372.5 272.3,371.9ZM348.8,315.3 354.7,316 355,311.5 349.5,310.7 348.2,314.3Z" fill="#C8D0FC" stroke="#C8D0FC"/>
<path d="M208.8,496 211.5,496.9 214.2,497.4 217,497.6 219.7,498.6 222.5,498.8 223.2,495.8 224.5,493 225,490 250,493.8 252.2,492.2 254.4,490.6 319.4,498.1 329.5,406 331,394 250,382 230,378Z" fill="#5C6FF6" stroke="#5C6FF6"/>
<path d="M438.8,150.5 400,148.8 345,143.3 337.3,206.3 390,211 442.5,213.8 445,205 443.8,190 440,170Z" fill="#5C6FF6" stroke="#5C6FF6"/>
<path d="M416,185.4 415.2,186.1 414.1,195.8 414.5,196.3 413.8,205.3 422.2,206.8 424.1,205.4 424.3,196.2 433.6,197.3 434.8,188.5 433.2,186.5 436,178.4 437,177.9 441.6,178.5 440,170 439.8,167.5 437.4,167.5 435.3,165.6 427.7,167 417.7,164.9 416.1,175.3 414.8,176.3ZM339.3,189.5 337.3,206.3 343.4,206.8 343.8,200 345.3,198.4 344.5,190.6 343.9,190ZM404.1,194.2 395.9,193.1 392.9,203.5 394.4,205.3 403.3,205.2 403.7,204.9 404.4,194.6ZM435,199 433.9,206.8 433.4,207.3 433.2,213.3 442.5,213.8 445,205 444.4,197.2Z" fill="#3F55F3" stroke="#3F55F3"/>
<path d="M346.6,179.2 345.2,180.2 343.9,190 344.4,190.6 345.2,198.4 343.8,200 343.3,206.8 390,211 412.7,212.2 413.5,205.6 413.9,205.2 414.5,196.3 414.1,195.8 404.3,194.6 403.6,204.8 403.3,205.1 394.4,205.2 393,203.4 395.9,193.2 404.1,194.3 406.3,185.9 405.9,185.4 407.1,175.3 396.8,175.8 396.1,174.8 385.7,174.3 384.7,182.8 395.1,183.9 394.8,191.8 384.3,192.4 383.5,193.3 385.1,202.3 384.6,202.8 373.7,203.3 372.5,202 365.7,201.1 365.4,190.5 364.8,189.9 365.5,180.5 366,180.1 367.8,170.9 367.5,170.6 366.1,162.2 360.1,160.3 357.1,162.2 348.3,160.2 346.5,161.6 345.9,169.4 346.6,170.2ZM407.8,165.1 406.9,165.9 407.4,175.1 414.8,176.4 416.2,175.3 417.8,164.9 427.6,167 427.3,155.7 418.9,154.5 417.8,155.4 417.1,164.1ZM424.2,196.2 424.1,205.4 433.5,207.4 434,206.8 435.1,199.1 444.4,197.2 444.1,193.5 443.7,189.7 443.7,189.4 434.8,188.5 433.6,197.2Z" fill="#7787F8" stroke="#7787F8"/>
<path d="M337.3,206.3 335.1,224.5 329.9,267 400,273 415,274.5 422.5,279.5 435,279.5 442.5,282 443.8,284.5 445,277 443.8,269.5 446,264.5 447.5,237 443.8,225 441,220 442.5,213.8 390,211Z" fill="#5C6FF6" stroke="#5C6FF6"/>
<path d="M339.7,209.4 347.8,208.4 348,207.3 337.3,206.3 337.1,208 338.4,208.1ZM376.4,219.7 376.3,210.8 368.3,209.5 366,211.3 366.6,220.3ZM365.4,248.9 364.8,249.5 365.7,257.1 373.4,259.2 371.3,267.9 363.2,267.9 363.4,269.9 373.5,270.7 373.5,270.4 382.6,267.9 381.3,261.5 384.5,257.8 383.3,250.2 376.6,249.4 375.8,248.4ZM344.8,265.7 353.4,267 355.2,269 363.2,267.8 362.8,259.7 355.4,258 354.5,257 344.8,257.8 344.5,258.2ZM434.4,214.5 432.9,215.9 431.2,224.3 432.6,225.5 442.4,224.3 443.6,225.9 444.1,225.9 443.8,225 441,220 442.5,213.8 434.1,213.4ZM393.1,231 394.6,241 402.4,241.8 402.8,241.3 403.1,232.9 394.5,229.8ZM438.4,273.8 437.9,273.3 430.6,271.8 428.1,279.5 435,279.5 438.1,280.5Z" fill="#7787F8" stroke="#7787F8"/>
<path d="M368.2,209.6 376.2,210.9 376.3,219.7 377,220.3 384,219.8 386.6,212.9 388.2,211.9 388,210.8 368.3,209.1ZM336.4,247.3 336.8,246.9 337.5,238.6 333.4,238.1 332.4,246.5ZM365.4,248.9 375.8,248.5 375.3,239.4 374.9,239.1 366.2,240.2ZM335.3,267.5 337.5,267.7 344.7,265.8 344.5,258.2 336.3,256.6 333.8,265.8ZM373.5,270.7 400,273 415,274.5 422.5,279.5 428.1,279.5 430.6,271.8 437.9,273.3 441.7,263.6 439.2,261.3 430.1,262.6 421.4,260.9 422,251.7 420.9,250.3 412.4,251.1 413.6,260.7 411.3,262.3 403.2,261.3 402.5,260.3 392.5,260.7 391.6,259.4 384.5,257.8 381.2,261.4 382.5,267.9 373.5,270.3ZM442.5,224.2 432.6,225.5 433.9,234.3 440.8,234.5 442.4,233.4 443.7,225.8ZM413.4,232.2 413.6,232.7 412.3,240.7 413,241.6 422.1,242.7 422.7,243.5 431.4,243 432.5,235.7 424,233.2 424.7,224.9 423.4,224 414.7,225.7Z" fill="#3F55F3" stroke="#3F55F3"/>
<path d="M366,221 366.5,228.5 364.9,229.9 365.3,239.4 366.2,240.3 374.9,239.1 375.2,239.4 375.7,248.5 376.6,249.4 383.3,250.3 384.5,257.9 391.6,259.5 392.5,260.8 402.5,260.4 403.2,261.3 411.3,262.3 413.7,260.7 412.5,251.1 412.2,251 413,241.5 412.4,240.7 413.7,232.6 413.4,232.2 404.4,231.9 403,232.9 402.7,241.3 402.4,241.8 394.6,240.9 393.1,231 394.5,229.9 395.2,222.9 385.4,221.5 384,219.8 377,220.2 376.4,219.6 366.6,220.2Z" fill="#1F3BF0" stroke="#1F3BF0"/>
<path d="M325,307 355,311.5 353.8,332 460,337 459.4,334.8 458.8,332.5 458.2,330.3 458,328 456.8,326 455,324.5 454.9,322.4 454.3,320.3 453.5,318.3 453,316.2 452.9,314.1 452.5,312 451.9,309.9 451.4,307.7 451.4,305.5 450.3,303.4 449.7,301.3 449.4,299.1 448.8,297 447.9,295 446.9,292.9 446.6,290.6 445.4,288.7 445,286.4 443.8,284.5 442.5,282 435,279.5 422.5,279.5 415,274.5 400,273 329.9,267Z" fill="#929FFB" stroke="#929FFB"/>
<path d="M381.1,280.3 381.3,273.5 389.6,272.5 389.6,272.1 373.3,270.7 365.8,272.2 364.7,279.8 372.1,280.3ZM330.8,277.4 330.4,269.8 329.6,269.6 328.6,277.8ZM356.1,279.1 355.7,286.7 357.5,289.1 364.7,288.4 364.6,279.8ZM389.4,297.2 389.9,297.8 395.6,298.2 396.4,297.6 403.6,297.7 404.7,289.9 397.2,289 398.2,281.2 389.7,281.3 389.1,282.1 390.3,288.3 389.2,289.5ZM331.1,294.9 329.6,293.6 330.7,286.4 327.6,285.5 325.5,303.3 329.3,304.3 330.9,302.6ZM355.8,295.1 354.3,296.1 354.5,303.2 356.4,304.8 355.3,313.3 362.4,313.6 363.9,304.9 363,304.1 363.8,297ZM370.5,322 379.7,321.1 379.3,313.9 380.2,312.8 379.6,306.1 371.7,305.2 370.6,306.1 370.7,313.8ZM387.6,329.5 394.4,330.3 395.6,331.7 395.3,334 404.3,334.4 404.3,332.1 411.1,330.6 412.1,323.6 411.6,323 403.5,322.8 404.3,314.1 403.3,313.1 395.6,314.4 395.1,315 395.8,321.6 388.2,323.1 386.2,321 380,321.4 380,329.3 386.5,330.3ZM354.8,327.3 354,327.8 353.8,332 360.7,332.3 360.8,329.1ZM407.1,274.5 411.7,274.2 406.3,273.6ZM422.1,300.2 420.8,307.1 413.6,308.3 411.9,314.6 412.1,314.9 420.4,316.7 421.2,316.1 428.5,317 428.6,323.5 436.1,324.5 437.1,325.9 435.3,332.9 427.9,331.8 426.2,333.7 426.4,335.4 453.6,336.7 453.4,334.4 452.9,333.8 445.5,333.8 444.6,326.9 453.7,325 454.8,326.6 457.3,326.9 456.8,326 455,324.5 454.9,322.4 454.6,321.5 454.1,319.7 453.5,318.3 453,316.2 452.9,314.1 452.8,313.4 452.2,311.2 451.9,309.9 451.4,307.7 451.4,305.5 450.3,303.4 449.7,301.3 449.4,299.1 448.8,297 447.9,295 446.9,292.9 446.6,290.6 445.4,288.7 445,286.4 443.8,284.5 442.5,282 438.5,280.7 437.9,284.1 431.1,283.9 430.9,283.7 431.5,279.5 422.5,279.5 415,274.5 414.4,274.4 413.8,282.6 414.3,283.2 422.1,283.7 421.9,290.3 413.4,292.5 413.5,297.4Z" fill="#7787F8" stroke="#7787F8"/>
<path d="M356.1,279.1 364.6,279.9 364.7,279.7 365.8,272.2 373.5,270.8 363.1,269.8 357,269.3 356.9,270.5 356.1,271.3ZM363,304.1 363.9,304.9 370.6,306.2 371.7,305.3 379.5,306.1 381.1,304.6 387.7,304.9 389.9,297.8 389.4,297.2 380.2,296.4 380,296.7 372.3,298 371.7,297.4 364.7,296.2 363.7,297.1ZM325.5,303.2 325,307 329.9,307.7 329.3,304.2ZM430.8,283.7 431,283.9 438,284.2 438.6,280.7 435,279.5 431.5,279.5ZM413.6,297.4 412.4,306.9 413.6,308.3 420.8,307.2 422.2,300.2ZM395.1,315 388.1,314.3 387.4,313.5 380.2,312.8 379.2,313.9 379.7,321.1 380,321.5 386.2,321.1 388.2,323.2 395.9,321.6ZM412,331.5 411,330.5 404.3,332 404.2,334.4 411.9,334.7Z" fill="#ADB8FC" stroke="#ADB8FC"/>
<path d="M363.7,297.1 364.8,296.2 365.2,288.9 364.7,288.3 357.5,289.1 355.8,295.1Z" fill="#F8BFC0" stroke="#F8BFC0"/>
<path d="M399.1,280.4 397.7,272.9 390.7,273.3 389.6,272.4 381.3,273.5 381.1,280.3 381.8,281.3 389.1,282.1 389.7,281.3 398.2,281.3Z" fill="#C8D0FC" stroke="#C8D0FC"/>
<path d="M413.6,297.4 413.5,292.5 412.3,290.9 404.6,289.9 403.6,297.6 405,299.4Z" fill="#FDD6D6" stroke="#FDD6D6"/>
<path d="M348.8,394.8 472.5,402.3 473.8,357 472,355.4 470.4,353.8 468.8,352 469.6,349.6 469.6,347 470,344.5 468.5,342.6 466.7,341.2 465,339.5 462.5,338.2 460,337 353.8,332Z" fill="#5C6FF6" stroke="#5C6FF6"/>
<path d="M357.1,369.7 357.6,370.2 364.9,369.3 366.5,362.7 357.7,360Z" fill="#929FFB" stroke="#929FFB"/>
<path d="M399.2,346 400.1,346.7 407,345.5 408.7,346.8 408.1,354.8 408.6,355.4 416.2,354.3 417.1,355.2 423.1,354.4 424.9,356.1 431.2,354.4 432.6,355.7 431.4,363.3 433,364.4 439.8,362.5 440.2,362.2 441,357.2 440.1,356 440,348.4 441.3,347.4 449.9,349.2 450.5,348.6 457.3,347.9 457.6,340.6 459.4,338.8 458.9,336.9 432.9,335.7 433,339 432.7,339.4 425.1,339.4 423.6,338.2 417.2,338.2 416.9,337.9 407.8,337.7 407.6,337.4 407.8,334.5 391.9,333.8 392.7,336.7 390.9,338.5 392.3,345.7ZM372.3,377.6 374.2,379.7 381.6,377.1 383.3,379.2 389.9,379.1 391.1,387 397.3,387.4 397.6,387.2 399.2,380 406.9,380.3 407.4,379.8 406.5,371.7 405.9,371.2 400.5,371.2 398.1,378.5 391.6,377.3 390.7,371 381.4,371.1 380.8,370.4 375.2,370.1 372.7,361.4 367.2,361.9 366.4,362.7 364.8,369.3 365,369.5 372.4,372ZM466.6,346.9 464.6,348.5 458.5,348.8 457.8,357.3 458.1,357.7 465.9,357.8 473.1,356.4 472,355.4 470.4,353.8 468.8,352 469.6,349.6 469.6,347.7ZM473.5,367.8 473.5,365.7 473.2,366.1ZM472.2,380.4 472.4,390.1 472.9,390.1 473.1,380.3 472.5,380.2Z" fill="#3F55F3" stroke="#3F55F3"/>
<path d="M375.1,336.3 376.6,337.7 375.5,344.6 374.5,345.3 374,353.2 375.1,354.4 382.6,352.7 383.3,353.4 389.6,354.8 391,353.8 392.4,345.8 391,338.5 383.8,337.7 383.4,337.3 384.1,333.4 375.2,333ZM433,335.7 424.5,335.3 423.6,338.2 425.1,339.5 432.7,339.4 433,339.1ZM449.2,355.2 449.9,349.2 441.3,347.3 439.9,348.4 440,356.1 441,357.2 448.3,356.2ZM472.5,380.2 473.1,380.4 473.3,375.1ZM374.1,379.7 374,385.9 381.9,387.1 383.4,379.1 381.6,377.1Z" fill="#7787F8" stroke="#7787F8"/>
<path d="M348.8,394.8 331,394 329.5,406 381,408.8 380,410.6 380.9,412.5 380.3,414.3 380.2,416.1 381,418 381.1,419.9 380.1,421.7 380.8,423.6 380.3,425.4 379.2,427.2 379.2,429 380.4,430.9 380.4,432.8 380,434.6 378.8,436.4 380.2,438.3 379.7,440.2 379.8,442 379.7,443.9 378.9,445.6 378.8,447.5 380.9,448.3 382.4,449.9 383.8,451.6 385.5,452.9 387.5,453.8 389.4,454.6 390.8,456 392.8,456.6 394.4,457.9 396.6,457.8 398.3,458.9 400,460 401.7,460.7 403.3,461.9 405.3,461.8 407.2,462.1 409.1,462.3 410.8,462.9 412.5,463.8 414.4,463.8 415.8,465.7 417.7,466.1 419.4,466.6 421.4,466.5 423.1,467.3 425,467.5 427.1,467.4 429,468 431.1,467.6 433,468.4 435,468.8 436.7,468 438.4,467.3 440.5,468.3 442,466.5 444.1,467.4 445.8,466.8 447.5,466 449.6,465.4 451.7,466.3 453.7,467.4 455.8,467.5 457.9,466.9 460,467 461.8,468.2 463.9,468.9 466.1,469.1 468,470.3 470,471 471.9,472.1 474.1,472.7 476,473.8 476,467.5 473.8,412.5 472.5,402.3Z" fill="#5C6FF6" stroke="#5C6FF6"/>
<path d="M380.5,411.1 381.2,410.4 382,402.8 380.8,401.6 381.2,396.8 348.8,394.8 331,394 329.5,406 381,408.8 380,410.6 380.6,411.8ZM380.6,413.3 380.3,414.3 380.2,416.1 380.8,417.6ZM381.4,420.4 381,420 380.1,421.7 380.6,422.9ZM414.9,439.2 417.7,430.1 415.4,428.1 407.2,429.6 408.3,437.7ZM469.7,440.6 470.5,448.8 475.3,449.4 474.6,432 471.3,432.5 469.9,440.4ZM378.9,445.8 378.9,445.8 379.6,445.9 380,445.5 380.7,438 379.1,436 378.8,436.4 380.2,438.3 379.7,440.2 379.8,442 379.7,443.9 379.3,444.6ZM433.1,449.4 432.7,439.3 425.2,439 424.9,439.3 415.8,440.2 415.3,447.1 423.7,448.8 424,449.2ZM396.5,457.3 396.5,457.8 396.6,457.8 398.3,458.9 400,460 401.7,460.7 403.3,461.9 405.3,461.8 406,461.9 406.7,458 398.4,455.5 398.7,448.1 396.8,446.4 389.6,447.6 388.2,454.1 389.4,454.6 390.8,456 391.3,456.2ZM462.7,468.6 463.9,468.9 466.1,469.1 468,470.3 468.9,470.6 468.6,468Z" fill="#7787F8" stroke="#7787F8"/>
<path d="M426.1,402.6 428,404.6 425.9,412.6 435.5,413.6 434.1,404.5 435.8,402.9 442.1,403.3 442.9,400.5 426.7,399.5ZM434.4,430.3 424,429.7 425.6,421.6 416.2,421.1 415.4,428.1 417.7,430.1 414.8,439.1 415.8,440.2 424.9,439.4 425.3,439.1 432.7,439.5 433.1,449.3 432.9,457.7 433.7,458.4 434.2,466.8 441.2,467.5 442,466.5 444.1,467.4 444.7,467.1 446.8,466.3 447.5,466 449.6,465.4 451.7,466.3 453.7,467.4 455.8,467.5 457.9,466.9 460,467 461.8,468.2 462.9,468.6 468.5,468 468.8,470.6 470,471 471.9,472.1 474.1,472.7 476,473.8 476,467.8 470.5,466.2 469.4,459.8 470.5,458.5 475.6,457.8 475.3,449.4 470.5,448.7 469.7,440.7 470,440.4 471.3,432.5 470.2,431.3 461.5,432.1 460.4,430.7 452.4,430.6 452.6,422.6 444.8,421.7 444.1,414.3 442.4,412.7 435.8,413.8 434.7,420.1 432.7,422.1ZM380.2,429.7 379.2,428.3 379.2,429 380.1,430.4ZM380.7,438 379.9,445.6 388.6,446.7 389.6,447.7 396.9,446.4 397.9,439.1 397.3,438.1 389.9,435.9 388.3,437.4ZM398.3,455.6 406.7,458 407.2,457.6 415.2,457.6 415.7,457 414.4,447.9 407.2,448.3 406.7,447.9 398.6,448.1ZM396.6,457.2 391.1,456.1 391.8,456.3 392.8,456.6 394.4,457.9 396.6,457.8ZM433.1,467.8 424,465.3 422.5,466.5 422.5,467.1 423.1,467.3 425,467.5 427.1,467.4 429,468 431.1,467.6 433,468.4 433,468.4Z" fill="#3F55F3" stroke="#3F55F3"/>
<path d="M254.4,490.6 262.5,503.7 272.5,516.2 274.4,517.8 275.9,519.8 278,521.2 279.4,523.3 281.2,525 281.5,527.6 282.4,530 283.3,532.5 283.7,535 285,537.4 285.7,540 286.3,542.6 287.5,545 289.4,546.6 290.8,548.6 292.6,550.4 294.3,552.1 296.2,553.7 308.7,563.1 310.8,561.8 312.2,559.6 314.1,558.1 316.3,556.8 318,555 320.1,553.5 322.1,551.8 324,550 325.5,547.9 327.5,546.2 330.4,546.8 333.4,547.1 336.2,548 338.8,548.9 341.3,549.9 343.7,551.2 345.2,553.2 347.3,554.6 349.2,556.2 350.6,558.4 352.5,560 354.3,562.6 356.2,565.1 357.5,568 358.8,570.3 359.4,572.9 360.3,575.3 361.5,577.6 362.5,580 370,592.5 377.5,605 377.7,607.6 379,609.9 379,612.6 380,615 381.2,617.5 382.7,619.9 384,622.4 385,625 387.6,626 390.1,627.3 392.4,628.9 395,630 397.4,631 400.1,631.2 402.5,632.2 405,633.2 407.5,633.8 409.9,635.2 412.6,636.2 414.8,637.9 417.5,638.8 421,636 421.1,633.3 420.9,630.6 420.2,627.9 420.6,625.2 420,622.5 419.6,620 418.8,617.5 418.9,614.9 418.1,612.5 417.5,610 417.9,607.4 418.5,604.9 419.5,602.5 420,600 421.6,598.1 422.7,595.8 424.6,594.1 426.1,592.1 427.5,590 440,582.5 455,572.5 467.5,562.5 469.9,561.3 472.5,560.7 475,559.7 477.5,558.8 480.3,557.8 483.3,557.5 486.2,556.9 489.4,550 488.7,542.5 491.9,535 493.1,526.2 488.7,516.2 483.7,508.7 483.1,500 483.8,486 483.8,475 476,473.8 474.1,472.7 471.9,472.1 470,471 468,470.3 466.1,469.1 463.9,468.9 461.8,468.2 460,467 457.9,466.9 455.8,467.5 453.7,467.4 451.7,466.3 449.6,465.4 447.5,466 445.8,466.8 444.1,467.4 442,466.5 440.5,468.3 438.4,467.3 436.7,468 435,468.8 433,468.4 431.1,467.6 429,468 427.1,467.4 425,467.5 423.1,467.3 421.4,466.5 419.4,466.6 417.7,466.1 415.8,465.7 414.4,463.8 412.5,463.8 410.8,462.9 409.1,462.3 407.2,462.1 405.3,461.8 403.3,461.9 401.7,460.7 400,460 398.3,458.9 396.6,457.8 394.4,457.9 392.8,456.6 390.8,456 389.4,454.6 387.5,453.8 385.5,452.9 383.8,451.6 382.4,449.9 380.9,448.3 378.8,447.5 378.9,445.6 379.7,443.9 379.8,442 379.7,440.2 380.2,438.3 378.8,436.4 380,434.6 380.4,432.8 380.4,430.9 379.2,429 379.2,427.2 380.3,425.4 380.8,423.6 380.1,421.7 381.1,419.9 381,418 380.2,416.1 380.3,414.3 380.9,412.5 380,410.6 381,408.8 329.5,406 319.4,498.1Z" fill="#ADB8FC" stroke="#ADB8FC"/>
<path d="M399.2,467.4 399.7,468 406.4,468.6 406.9,468.3 407.4,462.2 407.2,462.1 405.3,461.8 403.3,461.9 401.7,460.7 400,460 399.2,459.5ZM258.6,493.7 259.2,491.1 254.4,490.6 257.1,494.9 257.3,494.9ZM267,496.7 266.9,502.2 265.7,503.2 266.6,508.9 272.5,516.2 274.4,517.8 275.9,519.8 278,521.2 278.3,521.7 282.6,522.4 285,514.3 292.7,515.3 293.6,514.4 291.6,505.6 285.2,504.7 284.6,503.8 274.6,504.4 274.4,504.1 276.5,496.1 274.7,494.1 274.9,493 267.7,492.1 268.3,495.1ZM293.3,495.1 284.6,494.1 284.9,496.2 293.2,495.4ZM302,497.9 302.5,498.3 309.2,498.9 310.5,497.6 310.5,497.1 302.2,496.1ZM376.8,544.8 378,536.3 369.6,534.2 368.4,535.3 367.4,543 368.7,544.6 376.5,545.1ZM393.8,562.3 393.1,563 394.3,571.3 400.5,571.8 400.9,580.9 401.1,581.1 400,587.6 400.6,588.6 408.6,589.7 409,589.4 408.4,580.6 409.4,579.7 409.9,572.9 410.8,572.1 408.7,562.4 410.3,561.1 419.1,564.3 419.3,564.2 420.5,555.1 419.5,554.3 411.4,555.7 410,553.9 401.7,553.2 402.1,546.2 393.7,544.6 391.9,552.8 392.2,553.1ZM376,553.6 375.6,560.7 384.8,561.6 385.5,553.9 376.7,552.8ZM450.3,465.7 449.6,465.4 447.5,466 445.8,466.8 444.1,467.4 442,466.5 441.1,467.6 441,471 433.7,470.5 432.6,468.4 423.7,468.2 422.9,468.9 424.9,477.7 431.6,477.9 440.8,478.7 441,486.4 447.9,485.9 449.3,479.3 448.7,478.5 441.9,477.5 441.7,471.6 450.1,469.8 458.2,471.5 457.4,479.4 464.7,481.6 466.7,480.1 467.2,473 465,471.1 459,470.9 459.1,467 457.9,466.9 455.8,467.5 453.7,467.4 453,467ZM431.2,520 438.6,523.1 439.4,522.3 438.9,512.3 432,512.9 431.5,513.3ZM490.3,533.3 489.3,531.7 481.1,531.6 480.7,540.7 488.6,540ZM472.3,557.8 462.5,556.7 462.8,564.7 453.2,565.2 452.9,571.8 454.1,573.1 454.4,572.9 460.1,568.4 462.8,566.2 463.2,565.2 463.9,565.3 467.5,562.5 469.9,561.3 472,560.8 472.4,557.9 479.9,557.6 480.3,548.6 480,548.3 471.9,549.3ZM417,596.8 416.2,597.8 417.7,606.4 418.1,606.4 418.5,604.9 419.5,602.5 420,600 421.6,598.1 422.2,597Z" fill="#929FFB" stroke="#929FFB"/>
<path d="M258.6,493.7 257.2,494.8 257.4,495.5 262.5,503.7 262.5,503.7 265.7,503.3 266.9,502.2 267.1,496.7 268.4,495.1 267.7,492.1 259.1,491.1ZM276.4,496.2 274.3,504.1 274.6,504.4 284.5,503.8 285.2,504.8 291.6,505.6 293.8,504.1 295.2,497.8 302.1,497.9 302.3,496.1 293.2,495.1 293.1,495.4 284.9,496.1 284.7,494.1 274.8,493 274.6,494.2ZM282.7,522.6 283,530.4 282.6,530.7 283.3,532.5 283.7,535 285,537.4 285.7,540 286.3,542.6 287.5,545 289.4,546.6 290.8,548.6 292.6,550.4 294.3,552.1 295,552.7 304,559.6 308.7,563.1 310.8,561.8 312.2,559.6 314.1,558.1 315.4,557.4 316.6,551.1 315.9,550.3 307.8,548.4 307.4,547.9 300.1,548.6 299.4,539.5 299.5,539.3 299.3,530.8 292.2,530.3 291.7,523 292.8,521.4 301.9,523.5 300.3,514.7 298.9,513.5 293.6,514.4 292.7,515.3 285,514.3 282.5,522.3ZM317.8,497.9 310.4,497.1 310.5,497.6ZM428.6,563.6 427.9,555.7 426.7,554.9 420.4,555.1 419.2,564.2ZM410.3,561.1 408.6,562.4 410.7,572.1 418.2,571 419.2,564.3ZM415.9,589.5 417.4,587.9 416.6,581.9 409.4,579.7 408.3,580.6 409,589.4Z" fill="#7787F8" stroke="#7787F8"/>
<path d="M331.4,430.1 331.1,437.6 331.2,437.8 339.4,437.8 340.2,430.4 339.3,429.1 342.3,421.8 347.1,422.1 349.2,424.3 356.9,423.1 357,413.8 349.9,414 349.4,413.5 340.3,413.1 340.2,413.2 339.8,419.7 331.6,421 330.7,412.2 328.8,412 327.8,421.6 331.3,421.3 332.6,428.4ZM340.3,438.4 339.6,447.4 340,447.9 347.3,448.1 348,447.3 356.4,446.9 358.1,440.4 356,438.4 348,439.1 347.1,438.3ZM330.6,472.2 329.3,470.7 328.9,465.3 328.1,464.5 323.2,463.2 321.4,479.9 327.4,480.1ZM346.5,483 354.1,482.8 354.4,474.1 353.9,473.4 346.6,473.3 345.1,474.6 345.6,481.8ZM344.8,498.9 354.1,501 355.2,499.9 353.8,492.3 353.6,492.2 345.5,491.7 344.4,498.4ZM335.8,506.8 336.2,506.4 336.9,499.8 335.7,498.1 327.5,498.5 328.3,506.8ZM310.4,506.3 309.2,498.8 302.5,498.3 301.6,506.7 308.7,507.9ZM316.4,516.2 309.3,515.4 308.9,514.8 300.3,514.6 301.8,523.5 302,523.7 307,523.2 307.7,523.9 309.9,532.5 315.7,531.9 317.7,533.5 323.7,533.3 324.4,532.5 325.7,524.5 326.3,524 325.7,515.2 326.2,514.7 327.1,507.8 318.8,505 317,506.7 317.9,514.8ZM352.4,525.3 360.9,526.4 360.6,517.1 360.9,516.8 360.7,510.8 352.3,508 351.1,516.1 344.9,517.2 344.6,525.1 352.1,525.5ZM350.2,551.4 351.8,559.2 357.7,559.8 359.3,561.8 367,560.4 368.2,561.5 375.6,560.8 376.1,568.9 367.3,569.4 366.6,570.1 367.9,577.6 367.1,578.6 361.4,577.5 361.5,577.6 362.5,580 365.8,585.5 366.1,585.5 366.5,586.3 375,586.8 376.4,577.9 376.2,577.6 376.5,569.3 383.9,568.9 385,570.5 392.8,572.5 394.3,571.3 393.2,563 385.7,563 384.8,561.6 375.7,560.7 376,553.7 376.7,552.8 376.5,545 368.7,544.5 366.2,552.6 360.9,552.1 360.3,551.5 350.4,551.1 351.9,543.2 367.5,543 368.4,535.2 360.1,534.9 359.3,534 352.5,533.7 351.9,534.3 350.8,541.9 343.4,541.4 342.7,532.5 334.5,533.2 334.3,533.5 333.4,539.7 335.3,542.2 341.4,543.2 342.5,550.6 343.7,551.2 343.9,551.4ZM324.8,548.8 325.3,548.2 324.5,542.7 316.9,541.7 316.7,541.4 308.7,541.1 307.8,539.6 299.5,539.3 299.3,539.4 300,548.7 300.1,548.8 307.4,548 307.7,548.4 315.9,550.4 316.5,551.1 323.6,550.4 323.7,550.2ZM365.7,431.5 363.2,439.8 366.3,442.1 366,448.7 374.4,449.2 374.5,449.4 381.8,449.2 380.9,448.3 378.8,447.5 378.9,445.6 379.7,443.9 379.7,443.4 379.8,440.9 379.7,440.5 374.4,441.3 373.2,440.5 372.2,432.1 374.2,430.7 380.4,432.1 380.4,430.9 379.2,429 379.2,427.2 380.3,425.4 380.8,423.6 380.6,422.9 374.9,423.8 374,422.8 375.5,414.7 374,413 375,408.5 366.1,408 366.6,414.7 366,415.3 366.6,421.5 365.5,423 366.3,431ZM381,466.1 389.7,466.2 390.9,459.8 389.6,458.2 389.7,454.9 389.4,454.6 387.5,453.8 385.5,452.9 383.8,451.6 382.8,450.5 380.6,458 380.9,466 373.9,467 372.1,474.2 381.3,475.7 381.9,475.2ZM372.2,483.7 371.9,491.9 372,492.1 379.4,494 381.2,492.7 381,483.7 380.4,483.2 372.4,483.4ZM370.6,509.4 369.6,517 378.7,518.8 378.9,519.1 385.8,519.5 387.8,517.5 387.4,510.3 379,510.5 378.7,510.2 379.7,501.6 379.4,501.1 370.4,502 369.9,508.7ZM358.8,569.3 358.3,569.3 358.7,570.1ZM382,587.7 375.1,587 374.6,595.6 382.1,596.1 382.8,603.8 389.6,604.6 390.1,613.9 390.7,614.4 397.2,613.6 399.1,605.3 391.6,603.2 391.8,595.7 399.6,595.5 400.7,588.5 400,587.6 391.8,587.7 391.5,587.3 390.9,580.4 383.6,579.6ZM458.9,470.9 465,471.2 465.9,469 463.9,468.9 461.8,468.2 460,467 459,467ZM387.2,493.1 395.9,493.2 397.3,491.6 396.8,485.8 398.3,484.3 398.3,476.6 397.6,475.8 389.9,475.1 389.4,483.8 389.6,483.9ZM423.8,487.4 422.1,485.4 415.2,485.8 413.3,493 414.5,494.9 413.3,502.4 414.1,503.2 422,503.8ZM464.6,504.4 465.1,496.7 457.9,496.1 455.8,498 456.8,505ZM473,515.8 464.9,514.6 464.7,514.8 456.8,512.6 455.3,513.7 455.1,522 456.2,523 463.4,521.7 465.2,524.2 473.1,523.7 474.7,522.4ZM413.5,520.8 411.9,519.4 403.7,519.6 403.6,519.4 394.9,518.7 394,526.2 396.1,528.1 402.6,527.4 404.3,529.2 411.6,528.4 412.4,527.7ZM443.4,573.6 436.8,573.3 434.2,581.7 436.2,583.5 439.5,582.8 440,582.5 444.2,579.7ZM425.8,588.6 427.5,581.2 427.3,580.8 419.1,579.4 416.6,581.9 417.4,587.9ZM417.7,606.3 416.2,597.7 409.8,598.6 408.9,606.4 417.2,606.8ZM416.1,614.6 415.8,614.9 407.7,614.1 406.6,615.4 407.2,622.1 398.2,623.8 390.2,622.6 389.9,622.8 383.8,621.9 384,622.4 385,625 387.6,626 390.1,627.3 392.4,628.9 395,630 397.4,631 400.1,631.2 402.5,632.2 405,633.2 407.5,633.8 407.6,633.8 407.6,633 415.6,632.9 416.4,624.1 420.3,624 420,622.5 419.6,620 418.8,617.5 418.9,614.9 418.9,614.9Z" fill="#F8BFC0" stroke="#F8BFC0"/>
<path d="M357.2,413.7 366,415.4 366.6,414.7 366.1,408 357.8,407.5ZM347.1,438.3 347.9,430.9 349,429.7 349.2,424.2 347.2,422 342.2,421.8 339.2,429.1 340.2,430.4 339.4,437.8 340.3,438.5ZM338,454.6 347,457.7 348.9,455.9 355.1,456.4 357.7,449 356.4,446.8 348,447.2 347.3,448 340,447.8ZM354.1,482.8 353.6,492.2 353.8,492.4 362.5,490.5 363.4,491.4 371.9,491.9 372.2,483.7 362.4,483.8 362.3,483.6ZM301.1,507 298.9,513.5 300.3,514.7 308.9,514.9 308.7,507.8 301.7,506.7ZM309.9,532.5 307.8,523.8 307,523.2 302,523.7 299.4,530.8 308.9,533.5ZM342.8,532.4 343.3,541.5 350.9,542 351.9,534.3ZM360.4,551.5 359.3,543.1 351.9,543.2 350.4,551.2ZM351.8,559.1 350.3,551.3 343.8,551.4 345.2,553.2 347.3,554.6 349.2,556.2 350.6,558.4 351.7,559.3ZM363.8,458.2 363.8,465 372.3,465.3 373,456.9 365.8,456ZM390.8,459.8 389.7,466.2 380.9,466 381.8,475.2 390,475.1 390.3,467 399.2,467.4 399.3,459.5 398.3,458.9 397.8,458.6ZM367,560.4 359.3,561.8 359.2,569 358.7,569.4 358.7,570 358.8,570.3 359.4,572.9 359.7,573.6 361.1,576.9 361.5,577.6 367.2,578.6 368,577.6 366.7,570.1 367.4,569.5 368.2,561.5ZM400,587.6 401.2,581.1 400.9,580.8 391.8,579.5 392.8,572.5 385,570.5 384,568.9 376.5,569.3 376.1,577.7 376.4,577.9 382.9,578.8 383.7,579.6 390.8,580.5 391.5,587.4 391.8,587.8ZM407.6,596.6 401.5,597.7 400,604.8 407.7,607.4 408.9,606.3 409.9,598.6ZM416.4,624.1 415.5,632.9 416.3,633.7 421.1,633.2 420.9,630.6 420.2,627.9 420.6,625.2 420.3,624Z" fill="#F2A5A8" stroke="#F2A5A8"/>
<path d="M357,413.9 356.8,423.1 349.2,424.2 348.9,429.7 347.8,430.9 347,438.3 348,439.2 356,438.4 358.1,440.4 363.3,439.8 365.7,431.5 358.1,430.5 357.4,423.6 365.5,423.1 366.7,421.6 366,415.3 357.3,413.6 357.8,407.5 332.8,406.2 330.9,412 340.2,413.3 340.3,413.1 349.4,413.6 349.9,414.1ZM330.5,454.5 331.4,430.1 332.6,428.4 331.4,421.3 327.8,421.5 324.2,454.1ZM345.9,463.5 345.1,464.3 339.3,464.6 336.9,473.9 345.1,474.7 346.6,473.3 353.9,473.5 356,466.6 355.5,466 355.2,456.5 363.9,458.3 365.8,456 364.8,450.3 357.6,449 355.1,456.4 348.8,455.8 347,457.6ZM326.1,514.7 336.2,516.2 343.3,515.8 344.5,507.8 344.9,507.6 344.9,498.8 344.5,498.4 345.5,491.8 353.7,492.2 354.2,482.8 346.5,482.9 344.4,490.4 337.4,489.6 335.8,490.7 329.1,489.2 329.4,482.2 327.4,480.1 321.4,479.8 320.4,488.8 327.9,490 327.1,498.1 319.3,498.6 318.8,505.1 327.1,507.8ZM336.9,499.8 336.2,506.3 335.8,506.7 328.4,506.8 327.6,498.6 335.6,498.2ZM362.3,509.3 370,508.7 370.4,502 369.4,500.7 372.1,492.1 371.9,491.8 363.3,491.4 362.6,499.6 361.3,500.4 355.1,499.9 354.1,500.9 352.3,508 360.6,510.9ZM310.4,506.2 308.7,507.8 308.9,514.9 309.3,515.5 316.4,516.3 318,514.8 317,506.6ZM308.7,541.1 316.6,541.5 316.8,541.7 324.5,542.8 325.7,540.9 333.4,539.7 334.3,533.5 324.4,532.5 323.6,533.2 317.7,533.4 315.8,531.8 309.9,532.5 308.9,533.4 307.8,539.6ZM375.5,414.7 373.9,422.8 374.9,423.8 380.6,423 380.1,421.7 381.1,419.9 381,418 380.2,416.1 380.2,415.7ZM380.4,432.3 380.4,432 374.2,430.6 372.1,432.1 373.1,440.6 374.4,441.4 379.7,440.6 379.7,440.2 380.2,438.3 378.8,436.4 380,434.6 380.1,434ZM372.9,456.9 372.2,465.3 373.9,467.1 380.9,466 380.7,458 382.9,450.5 382.5,450 382.3,449.8 381.7,449.2 374.5,449.3 373.9,456.4ZM362.2,483.7 362.4,483.9 372.2,483.8 372.5,483.5 380.5,483.2 381.3,475.6 372.2,474.2 371.3,475 365.3,474.2 363.5,475.7ZM389.5,483.7 380.9,483.7 381.1,492.7 387.3,493.1 389.6,483.9ZM414.6,494.9 413.3,493 405.9,492.9 405,493.6 404.3,502.7 404.7,503 413.4,502.4ZM379,510.6 387.4,510.4 388.6,509.1 394.9,510 398.2,502.2 395.9,500.3 388.7,501.6 387.8,502.7 379.7,501.6 378.6,510.2ZM403.3,511.6 395.8,511.2 395,518.6 387.8,517.5 385.7,519.4 379,519.1 378.7,518.7 369.7,517 368.4,518.1 360.9,516.8 360.6,517.1 360.9,526.4 368.9,526.7 369,526.6 377.3,525.1 378.2,526.4 386.6,528.1 387.7,526.7 394.1,526.2 395,518.7 403.6,519.4ZM431.5,513.4 432,512.9 438.9,512.3 439.1,512.2 439.6,504.5 438.8,503 440.6,495.7 432.5,494.2 430,496.5 423,495.1 422,503.8 422.9,504.7 421.9,512.8 413.9,510.3 411.8,512.3 411.9,519.4 413.5,520.8 420.6,519.8 422.4,513.6ZM404.3,529.1 403.8,536.9 410.7,538.5 412.4,537.3 411.6,528.4ZM400.6,571.8 394.3,571.2 392.8,572.5 391.7,579.6 400.9,580.9ZM366.6,586.2 366.1,585.5 365.8,585.4 366.5,586.7ZM401.5,597.7 407.6,596.7 408.7,589.7 400.6,588.5 399.5,595.5 391.8,595.6 391.5,603.2 399.1,605.3 400,604.8ZM381.2,613.1 382,613.7 382,618.8 382.7,619.9 383.9,622 390,622.8 390.2,622.6 390.8,614.4 390.1,613.9 389.7,604.6 382.8,603.8 382.1,596 374.6,595.5 374.1,595.9 374.2,599.5 377.5,605 377.7,607.6 379,609.9 379,612.6 379.3,613.3ZM416.3,633.6 415.6,632.9 407.5,633 407.5,633.8 409.9,635.2 412.6,636.2 414.8,637.9 416.4,638.4ZM455.8,498 458,496.2 457.4,488.9 455.7,487.5 450.9,488.6 448.5,496.2ZM466.1,489.2 465.4,496.3 465,496.7 464.6,504.3 466.4,506.2 464.9,514.7 473.1,515.9 482.6,513.6 481.3,507 483.6,506.8 483.1,500 483.2,497.2 483.5,489.5 475.2,489.3 474.2,488.1ZM447.2,513.3 447.3,513.5 455.3,513.8 456.8,512.7 456.6,505.3 448.7,505.4ZM438.6,523 437.8,528.5 431,529.6 430.2,528.9 422,528.9 420.5,530.7 420.6,537.2 428.5,538 429.5,537.3 437.6,539.2 437.8,539 438.6,529.3 447,531.2 447.6,530.8 447.7,521.8 447.2,521.3 439.3,522.2ZM472.9,539.2 480.2,541.1 480,548.3 480.2,548.6 479.8,557.6 480.1,557.9 480.3,557.8 483.3,557.5 486.2,556.9 488,553 488.3,549.7 489.1,546.9 488.7,542.5 489.3,541 488.6,540 480.8,540.6 481.1,531.6 480.3,530.9 472.1,533.2ZM455.6,538.4 454.2,540 454.9,547.4 462.7,547.4 463.5,541.1 463,540.3ZM462.5,556.8 472.4,557.9 471.9,549.3 471.6,549.1 463.8,549 462.2,556.3ZM427.1,572.6 427.8,573.3 427.2,580.8 427.5,581.2 434.3,581.7 436.8,573.3 443.2,573.5 443.3,565 436.3,563.2 437.1,555.9 435.7,554.4 427.8,555.7 428.6,563.6ZM452.9,571.8 443.3,573.6 444.2,579.7 454.1,573.1ZM436.2,583.4 436.1,584.9 439.7,582.7ZM426.5,589.8 425.7,592.7 426.1,592.1 427.5,590Z" fill="#FDD6D6" stroke="#FDD6D6"/>
<path d="M330.6,412.2 331.5,421 339.9,419.7 340.2,413.2 330.9,412ZM358.1,430.5 365.7,431.5 366.4,431.1 365.5,423 357.4,423.5ZM328.1,464.5 330.9,455 336.5,455.8 337.5,463.2 328.8,465.3 329.3,470.7 330.6,472.3 327.3,480.1 329.4,482.2 336.3,480.8 337.2,482 337.4,489.7 344.4,490.4 346.6,483 345.6,481.8 345.2,474.6 336.9,473.9 339.3,464.6 345.1,464.3 345.9,463.6 347.1,457.6 338.1,454.5 340,447.8 339.7,447.4 330.8,445.3 330.4,454.5 324.2,454.1 323.2,463.3ZM374.5,449.3 374.4,449.1 366,448.6 364.7,450.3 365.8,456 373,457 373.9,456.4ZM362.3,483.7 363.5,475.8 365.3,474.2 363.1,465.8 363.8,465 363.9,458.2 355.1,456.4 355.4,466 355.9,466.6 353.9,473.4 354.3,474.2 354.1,482.8ZM379.7,501.6 387.8,502.7 388.7,501.7 395.9,500.3 396,493.1 387.2,493.1 381.1,492.6 379.4,493.9 379.3,501.2ZM354.1,500.9 344.8,498.8 344.9,507.6 352.3,508ZM352.5,533.7 359.3,534 361,526.4 352.4,525.2 352.1,525.5ZM380.7,616.4 381.2,617.5 382.1,618.9 382,613.7 381.2,613.1 379.3,613.3 379.6,614ZM406.9,468.3 414.4,470 414.3,476.5 424.4,478.2 425,477.7 423,469 423.8,468.2 423.9,467.4 423.1,467.3 421.4,466.5 419.4,466.6 418.9,466.4 416.4,465.8 415.8,465.7 414.4,463.8 412.5,463.8 410.8,462.9 409.1,462.3 407.4,462.1ZM397.6,475.9 399.8,467.9 399.2,467.4 390.2,466.9 389.9,475.1ZM405,493.7 406,493 405.8,484.8 405.3,484.3 398.3,484.3 396.7,485.8 397.2,491.6ZM411.9,519.4 411.9,512.2 404.7,509.9 403.3,511.6 403.5,519.4 403.7,519.6ZM429,522 430.2,529 430.9,529.7 437.9,528.5 438.6,523 431.2,519.9ZM393.7,544.7 402,546.2 403.2,537.3 395.2,536.5ZM436,547.3 445.7,547.9 446,547.6 446,540.6 454.2,540.1 455.7,538.4 454.8,531.6 455.5,531 464.5,531 465.2,524.1 463.4,521.6 456.2,523 455.2,522 447.6,521.8 447.5,530.8 447,531.1 438.5,529.2 437.8,539 437.6,539.1 429.5,537.2 428.5,538 420.7,537.1 420.3,537.4 419.6,545.6 427.8,547 426.7,554.9 427.8,555.8 435.7,554.5ZM437.1,555.8 436.2,563.3 443.2,565.1 443.2,573.5 443.3,573.6 452.9,571.8 453.2,565.1 443.6,564.8 445.5,555.9 445.2,555.5ZM418.1,570.9 419.1,579.4 427.3,580.8 427.8,573.3 427.2,572.5 418.3,570.8ZM422.2,597 422.7,595.8 424.6,594.1 425.8,592.5 426.5,589.9 427.4,590.1 427.5,590 436.1,584.8 436.3,583.4 434.3,581.6 427.5,581.2 425.7,588.5 417.4,587.9 415.9,589.5 417,596.9ZM483.8,482 483.8,482 483.8,480.8 483.6,480.9ZM455.7,487.6 457.3,479.6 449.3,479.3 447.8,485.9 450.9,488.6ZM483.5,489.5 483.6,490.5 483.6,489.4ZM456.5,505.3 456.8,512.7 464.7,514.8 464.9,514.7 466.5,506.2 464.6,504.3 456.8,505ZM439.1,512.1 438.9,512.3 439.3,522.3 447.3,521.4 447.3,513.4ZM489.3,531.8 490.1,525.4 490.4,525 490.5,520.3 488.7,516.2 488,515.2 484,515 482.6,513.5 473.1,515.9 474.7,522.4 479.6,523.9 480.3,531 481.1,531.7ZM462.9,540.4 463.4,541.1 471.6,540.4 472.9,539.1 472.1,533.2 471.9,533 464.8,531.4ZM489.4,550 489.1,546.8 488.2,549.7ZM462.7,547.4 454.9,547.3 454,548.1 454.5,556.4 462.2,556.3 463.9,549.1ZM479.9,557.6 472.4,557.8 472,560.8 472.1,560.8 473.8,560.2 475,559.7 477.5,558.8 480.2,557.8Z" fill="#C8D0FC" stroke="#C8D0FC"/>
<path d="M324.3,532.5 334.3,533.6 334.6,533.2 342.7,532.6 343.9,525.7 344.7,525.1 345,517.2 343.2,515.8 336.2,516.1 326.2,514.6 325.6,515.2 326.3,523.9 325.6,524.5ZM358.1,569 358.3,569.4 358.8,569.4 359.2,569 359.4,561.8 357.7,559.7 351.8,559.1 351.6,559.3 352.5,560 354.3,562.6 356.2,565.1 356.5,566ZM375.6,560.7 368.2,561.5 367.3,569.5 376.1,568.9ZM417.7,606.3 417.1,606.7 408.9,606.3 407.6,607.4 407.7,614.1 415.8,614.9 416.1,614.7 418.9,615 418.9,614.9 418.1,612.5 417.5,610 417.9,607.4 418.1,606.3ZM390.1,622.6 398.2,623.9 398.8,614.9 397.2,613.6 390.7,614.4Z" fill="#EE8B8E" stroke="#EE8B8E"/>
<path d="M511,197.5 513.1,195.7 515.3,194.1 517.5,192.5 530,182.5 546,170 526,166 523.2,167.1 520.4,168.1 517.5,168.8 503.8,163.8 501.6,162.5 499.6,161 497,160.4 495,158.8 492.5,156 490.2,157.8 487.5,158.8 484.6,158.4 481.8,157.2 478.8,157.1 476,156.2 473.8,154.5 472.6,150 472.3,146.5 471.6,143 469.2,142.5 466.8,142.8 466.6,145.4 466.6,147.9 466.2,150.5 438.8,150.5 440,170 443.8,190 445,205 442.5,213.8 441,220 443.8,225 447.5,237 446,264.5 480,265 500,265 525,264.5 524.5,262.2 523.3,260.3 522.9,258 521.5,256.1 521,253.8 519.3,252.6 518.1,250.9 516.4,249.7 515.5,247.7 513.6,246.8 512.5,245 510.7,243.6 509.1,241.9 507.5,240.3 505.8,238.8 503.8,237.5 503.4,235.3 502.3,233.4 502.1,231.2 501.4,229.1 500.2,227.2 500,225 499.8,223 500.9,221 500.6,219 501.2,217 501,215 502.9,213.7 504.7,212.2 506.9,211.3 508.8,210 508.9,207.9 509.3,205.8 509.6,203.7 510.3,201.7 511,199.6Z" fill="#5C6FF6" stroke="#5C6FF6"/>
<path d="M469.7,153.7 468.6,154.5 469.8,163.3 477.9,163.5 478.3,172.6 470.9,173.4 468.9,171.2 468.7,164.4 461,163.7 460.3,163 452.1,163.6 452.1,171.4 451.6,171.9 450.2,180.7 452.2,183.1 451.2,187.9 453.1,190.5 461.6,191.2 460.9,198.3 459.6,199.5 452.6,199.9 451.3,206.6 452.9,208.6 453.1,216.9 460.4,217.4 462.8,208.5 469.4,208 470.3,199.9 470.5,199.6 469.4,190 477.3,189.2 479.5,191.7 486.9,190.6 488.1,191.5 495.9,189.3 498.2,191.6 497,199.2 505.3,200.8 506.6,199.5 511,199.1 511,197.5 513.1,195.7 514.8,194.5 514.4,190.4 505.9,189.7 505.2,181 497.4,181.1 496,182.2 488.8,180.6 487,181.9 480.1,180.9 478.5,172.8 487.9,171.4 488.7,172 496,170.9 496.4,163.4 497.4,162.3 501.3,162.3 499.6,161 497,160.4 495,158.8 492.5,156 490.2,157.8 487.5,158.8 484.6,158.4 481.8,157.2 478.8,157.1 476,156.2 473.8,154.5 473.5,153.5ZM469.5,234.3 461.6,235.1 461.5,242.9 470.7,243.6 470.8,235.9ZM470.7,263.1 477.2,262.2 478.7,253.2 468.4,253.2 468.3,253.3 469.7,262.3ZM504.5,171.3 505.9,172.8 514.4,171 514,167.5 504.9,164.2Z" fill="#3F55F3" stroke="#3F55F3"/>
<path d="M452.9,226.6 461.5,226.2 461.8,218.8 460.4,217.4 453.2,216.8 451.3,218.4 451.6,225.3ZM496.5,228.1 488.2,224.4 485.7,226.9 487.4,234.4 488.6,235.4 487.3,244.3 479.3,244.1 478.5,244.8 478.6,253.2 487.4,254.6 488.5,261.3 496.4,262 498,252.7 504.1,252.6 505.4,254 514.8,253.7 515,253.4 519.1,252.3 518.1,250.9 516.4,249.7 515.5,247.7 513.6,246.8 512.5,245 511.3,244.1 506.6,243.8 505.1,238.4 503.8,237.5 503.6,236.2 496.8,236.1 495.3,234.7ZM488.5,253 488.4,245.4 496.2,244.3 497.7,252.5ZM488,262 478.4,263.1 478.7,265 480,265 488,265ZM496.9,262.4 496.6,265 498.3,265 511.5,264.8 523.4,264.5 523.4,263.1 515.9,261.4 515,262.2 505.8,263.8 505,262.9Z" fill="#7787F8" stroke="#7787F8"/>
<path d="M446,264.5 443.8,269.5 445,277 443.8,284.5 445,286.4 445.4,288.7 446.6,290.6 446.9,292.9 447.9,295 448.8,297 449.4,299.1 449.7,301.3 450.3,303.4 451.4,305.5 451.4,307.7 451.9,309.9 452.5,312 452.9,314.1 453,316.2 453.5,318.3 454.3,320.3 454.9,322.4 455,324.5 456.8,326 458,328 500,325.8 525,326.5 526,331 525.6,329 526,327 526.4,325 527.2,323.2 528.1,321.4 528.8,319.5 529.4,317.5 529.3,315.4 530.3,313.5 530.5,311.5 531,309.5 532.8,308.4 534.7,307.7 536.4,306.5 538.1,305.3 540,304.5 540,302.5 540.3,300.5 540.1,298.4 540.8,296.5 541,294.5 540.6,292.4 539.2,290.6 538.8,288.6 538.2,286.5 537.5,284.5 535.8,283.3 533.8,282.5 531.9,280.9 530.4,279 529.3,276.7 527.5,275 526.9,272.9 526.2,270.9 526.1,268.7 526,266.5 525,264.5 500,265 480,265Z" fill="#5C6FF6" stroke="#5C6FF6"/>
<path d="M458.1,264.7 451.1,264.6 450.5,265.2 445.8,264.9 443.8,269.5 445,277 444.7,279.2 445,279.5 451.5,278.8 451.9,272.6 457.9,271.7Z" fill="#929FFB" stroke="#929FFB"/>
<path d="M510.9,271.5 511.4,272.1 511.2,278.6 511.8,279.3 509.7,285.2 511.8,287.7 518.8,285.7 519.9,286.7 517.9,293.5 519.7,295.8 526.5,294.1 525,287 525.4,286.6 527.1,279.4 530.9,279.6 530.4,279 529.3,276.7 527.5,275 527.2,274 526.6,272.1 526.4,271.4 526.1,278.3 519.3,278.7 518.3,272.2 518.6,271.9 526.3,271.3 525,264.5 525,264.5 510.9,264.8 511.2,265.3ZM480.6,310.1 482.3,316.2 488.1,315.8 489.2,309.5 495.6,309.3 496,302.3 494.9,301.4 489.6,300.6 488.7,301.3 482.8,300.3 480.6,302.2 482,308.5ZM452.6,308.5 452,301.5 449.8,301.5 450.3,303.4 451.4,305.5 451.4,307.7 451.8,309.4ZM533.7,302.8 533.6,308.1 534.7,307.7 536.4,306.5 538.1,305.3 540,304.5 540,302.5 540.1,301.7Z" fill="#7787F8" stroke="#7787F8"/>
<path d="M473.8,285.8 473.7,279.5 467.2,278.5 465.9,285.7 466.7,286.6 466.3,293.7 473.6,294.7 474.4,286.4ZM495.6,292.6 497,293.8 502.9,294.2 503.7,293.4 510.8,293.3 511.4,292.8 511.8,287.7 509.8,285.2 504.1,285.3 503.1,286.9 496,286.7 495.1,287.6ZM452.6,308.5 451.7,309.3 451.9,309.9 452.5,312 452.9,314.1 453,316 453,316.3 453,316.4 458.3,316.3 459.2,317.3 465.3,317.7 466.2,323.8 473.1,323.4 474.1,317.2 473.4,316.4 466.5,316.3 465.7,308.8 473.7,308.9 474.5,309.9 480.6,310.1 482.1,308.5 480.7,302.2 474.6,301.9 474.1,301.3 466,302.2 465.4,301.4 458.6,301.1 459.1,309.1ZM495.9,309.7 496.6,316.7 504,315.8 504.3,310.1 510.2,308.4 512.2,310.3 518,309.6 519,316.3 517.7,317.9 518.2,323.2 525.9,323.9 527.1,317.3 529.4,317.2 529.3,315.4 530.3,313.5 530.5,311.5 531,309.5 531.8,309 526,309.4 525.4,308.7 526.3,302.5 527.2,301.7 533.3,302.4 533.7,294.5 532.9,293.8 526.9,294.4 526.5,294.1 519.7,295.8 518.6,300.4 517.4,301.5 511.8,301.2 510.5,302.2 503.3,300.9 502.6,301.7 495.9,302.3 495.5,309.3ZM525,264.5 524.9,264.5 526.2,271.3 518.6,271.8 518.2,272.2 519.3,278.8 526.1,278.3 526.4,271.5 526.2,270.9 526.1,268.7 526,266.5 525.5,265.6Z" fill="#3F55F3" stroke="#3F55F3"/>
<path d="M458,328 458.2,330.3 458.8,332.5 459.4,334.8 460,337 462.5,338.2 465,339.5 466.7,341.2 468.5,342.6 470,344.5 469.6,347 469.6,349.6 468.8,352 470.4,353.8 472,355.4 473.8,357 472.5,402.3 473.8,412.5 520,411.2 548.7,410.6 550.6,415 546.9,420 546.9,421.2 556.9,421.2 557.5,419.1 558,417 558.7,415 559.4,412.9 560.2,410.7 561.2,408.7 563.4,408.5 565.6,408.1 565.3,406 566,404.1 566.3,402.1 566.2,400 564.4,398.5 562.9,396.7 561.2,395 560.9,392.7 560.3,390.5 559.8,388.3 558.7,386.2 556.9,384.5 554.9,383.1 552.9,381.7 551.2,380 549.6,378.6 548.1,377.1 546.8,375.4 545.4,373.8 543.7,372.5 544.1,370.2 545.1,368.1 545.6,365.8 545.5,363.4 546.2,361.2 543.6,360.6 541.3,359.2 538.7,358.7 537.2,357.2 536.1,355.3 535.3,353.3 533.7,351.8 532.5,350 531.3,348.2 530,346.5 528.5,344.9 527.3,343.1 525.9,341.5 525,339.5 524.9,337.3 525.8,335.3 525.6,333.1 526,331 525,326.5 500,325.8Z" fill="#5C6FF6" stroke="#5C6FF6"/>
<path d="M499.4,335.1 500.3,335.8 501.2,341.3 499.8,342.5 500.6,348.6 494.4,349.9 493.6,349.3 487,351.2 486.4,355.5 480.7,356.7 480.7,363.1 487.6,364.2 493.7,363.5 495.4,370.7 494.1,371.8 487.2,370.5 487.2,378.4 493.8,377.2 495.4,379 502.1,376.8 501.8,370.9 509,370.6 509.2,377.9 516.2,377.7 516.2,383.6 523.7,383.9 524.2,383.3 522.9,377 529.7,376.9 529.7,383 531.2,384.3 536.8,382.7 535.6,375.5 530.8,375.8 528.1,369.8 523.3,369.8 523,369.5 522.6,362.6 528.4,361.2 529.7,355.8 528.8,354.8 528.1,349.1 529.6,347.6 530.8,347.7 530.4,347.1 529.7,346.2 528.5,344.9 527.7,343.7 526.4,342 525.9,341.5 525,339.5 524.9,337.3 525.8,335.3 525.6,333.1 526,331 525.2,327.3 521.2,327.2 520.9,327 514.4,329.1 513.1,328 507.7,328.4 506.6,329.5 500,328.4 499.1,329.3ZM480,356.2 479,350.2 473.9,349.7 472.9,350.8 469.2,350.8 468.8,352 469.7,353 471.1,354.5 472,355.4 473.8,357 473.8,357.3ZM473.7,372.2 479.8,370 479.2,364.3 474.8,363.5 473.7,358.9 473.4,369.9 473.5,372.1ZM480.6,385.5 481.2,386 487.6,384.1 487.2,378.5 480.7,377.7 479.1,378.8ZM472.9,405.3 473.8,412.5 474.7,412.5 475.8,405.5 475,404.8ZM509.1,378 503,377.8 502.6,383.7 503.7,385 507.8,385.1 509.2,383.6Z" fill="#3F55F3" stroke="#3F55F3"/>
<path d="M471,328.4 473.5,330.2 486.3,327.7 486.3,326.5 470.9,327.3ZM501.7,391.5 502.2,392.1 510.1,390.9 510.3,391.1 510.3,397.6 516.5,397.4 517.1,396.9 523.3,398.9 522.2,403.8 517,404.2 516,404.9 517.5,410.9 517.2,411.3 520,411.2 523.8,411.1 523.5,410.8 523.7,405.6 530.6,404.3 528.9,397.7 525.2,397.5 522.6,390.6 518.1,391.1 515.9,389.3 515.8,384.2 509.2,383.6 507.8,385 503.7,384.9ZM481.2,386 481.3,390.9 480.1,392.3 475.2,393.6 474.7,394.1 474.3,398.8 472.6,399 472.5,402.3 472.9,405.4 475,404.9 475.7,405.5 482,406.1 489,406.2 489.2,406.1 488.5,398.5 487.6,397.8 487.4,392.5 488.9,391.2 489.2,385.2 487.6,384ZM495.1,398.4 495.2,405.3 496.6,406.3 502.4,404.9 503.4,405.5 503.9,411.7 510.6,411.5 510.6,404.9 509.9,404.3 509.9,398.1 503,396.9 501.7,398.5ZM496.6,411.5 496.3,411.9 498,411.8ZM542.8,382.6 536.8,382.6 531.2,384.2 529.7,383 524.2,383.2 523.6,383.9 523.5,389.7 530.4,390 530.4,396.4 537.5,397.2 536.8,403.7 531.3,404.9 531,410.2 530.2,411 545.3,410.7 544.5,404.1 545.2,403.4 551.5,404.5 551.7,404.3 559.5,404.1 559.7,404 558.2,396.7 552.5,396.7 551.9,396.2 545.4,396.2 544.8,389.5 550.7,388.4 551.4,383.4 550.7,382.7 543.3,383.1ZM558.3,396.7 562.3,396.1 561.2,395 560.9,392.7 560.3,390.5 559.8,388.3 558.7,386.2 557.3,384.9 558,389 558.5,389.4Z" fill="#7787F8" stroke="#7787F8"/>
<path d="M551.9,396.2 552.5,396.8 558.2,396.8 558.3,396.7 558.6,389.4 558,389 557.4,385 557.2,384.8 555.6,383.6 554.9,383.1 554.5,382.9 551.4,383.4 550.7,388.3 544.7,389.4 545.3,396.3ZM523.6,405.5 523.4,410.8 523.7,411.1 530.3,411 531,410.2 531.3,404.9 536.9,403.8 537.6,397.1 530.4,396.4 530.4,390 523.5,389.7 522.6,390.6 525.1,397.6 528.9,397.8 530.5,404.3ZM545.3,410.7 548.7,410.6 550.6,415 546.9,420 546.9,421.2 556.9,421.2 557.1,420.6 557.8,417.7 558,417 558.6,415.2 558.8,414.8 559.4,412.9 560.2,410.7 560.2,410.7 559.1,410.7 559.5,404.1 551.7,404.3 551.5,404.4 545.2,403.3 544.5,404.1Z" fill="#929FFB" stroke="#929FFB"/>
<path d="M473.8,412.5 476,467.5 476,473.8 483.8,475 483.8,486 535,486 535,483.8 534.6,481.7 534,479.6 533.8,477.5 534.5,475.1 534.6,472.5 535,470 536.1,468.1 537,466 538,464 539.1,462 540,460 540.3,457.8 541.9,456.1 542.6,454.1 542.9,451.9 543.8,450 545.1,448.2 546.2,446.2 547,444.1 548.1,442.1 548.8,440 550.6,438 551.8,436.2 551.8,433.9 552.6,431.9 553.7,430 554.8,427.9 555.1,425.5 556.1,423.4 556.9,421.2 546.9,421.2 546.9,420 550.6,415 548.7,410.6 520,411.2Z" fill="#ADB8FC" stroke="#ADB8FC"/>
<path d="M475.6,428.4 474.8,423.2 482.1,421.9 482.6,416.1 482.1,415.6 475.1,416.6 474.3,415.5 473.9,415.4 474.5,428.8ZM474.7,435.9 474.8,437.2 475.6,438.1 482.4,436.8 482.8,437.2 490.4,436.6 489.4,429.6 489.8,429.1 490.4,423.2 490.2,423.1 482.9,422.7 482.2,430.1 481.9,430.3 476.6,429.4ZM555.1,422.4 554.5,423.2 554.7,428.1 554.7,428.1 555,426.3 555.1,425.5 556.1,423.4 556.3,422.6ZM498.2,430.3 497.1,436.4 498.1,437.6 504.9,438.6 505.3,438.2 510.8,437.8 512,431 510.6,429.7 504.9,430.3 504.3,429.9 498.6,429.9ZM490.3,443.6 488.6,444.9 489.4,451.7 495.9,452 496.1,451.8 496.8,445.3ZM511.7,452.3 518.8,451.4 518.1,445.4 512.8,444.2 511.8,445ZM526.8,459.7 525.8,458.6 519.6,458.6 519.2,466.5 526.2,466.5Z" fill="#7787F8" stroke="#7787F8"/>
<path d="M482.8,437.2 482.4,436.7 475.6,438.1 475.4,443.2 482.3,444.8 483.4,444.1 488.6,444.9 490.3,443.7 491.1,437.2 490.4,436.5ZM504.1,445.6 496.8,445.3 496,451.8 504.9,451.8ZM475.6,458.4 475.7,461.2 476.3,459.3ZM482.7,472.9 478.5,474.2 483,474.9 482.9,473ZM502.9,482 504.6,480.4 504,473.5 497.7,473.7 497,474.3 496.1,480.5 496.6,480.9ZM505.5,415.6 504,417.1 504.5,421.6 497.7,423.7 498.6,430 504.4,429.9 504.9,422 512,423.2 518.2,422.7 518.8,415.3 512.7,413.8 511.1,415.3ZM546.5,421.8 541,423.2 541,428.6 542.5,430.3 547.5,430.3 548,429.9 548.6,423.3ZM504.5,466.9 504.3,473.3 510.8,473.7 511.2,473.3 512.6,466.7Z" fill="#C8D0FC" stroke="#C8D0FC"/>
<path d="M511.1,415.3 512.7,413.9 512.3,411.4 474.9,412.5 474.2,415.5 475.1,416.7 482.1,415.7 482.5,416.1 489,416.2 489.8,415.3 497.4,415.7 497.8,415.4 504.1,417.1 505.5,415.6ZM482.1,421.8 474.7,423.2 475.5,428.4 476.7,429.5 481.9,430.4 482.2,430.1 482.9,422.8ZM489.8,429.1 498.3,430.4 498.7,430 497.7,423.7 496,422.3 490.3,423.2ZM504.8,444.7 511.9,445.1 512.8,444.3 512.7,439.1 518.4,437.4 518.6,437.5 519.1,444.4 525.1,444.2 525.4,437.8 526.4,437 525.4,430.6 525.7,430.3 533.2,429.8 532.5,423.2 532.7,423.1 541,423.3 546.5,421.9 548.5,423.3 547.9,430 553.7,430.1 553.7,430 554.8,428 554.5,423.2 555.2,422.4 555.2,421.2 546.9,421.2 546.9,420 550.1,415.7 548.7,415.3 547.5,416.2 541,414.3 539.3,416 534.2,415.5 533.4,414.7 526.4,416.6 526.7,422.5 525.3,423.7 518.2,422.7 512.1,423 511.9,423.1 510.6,429.7 511.9,431 510.8,437.7 505.2,438.2 504.8,438.6 498.2,437.5 497.1,436.4 491,437.2 490.2,443.7 496.8,445.4 504.1,445.6ZM488.2,458.7 488.5,459 496.7,458.5 495.9,451.9 489.4,451.6 488.6,444.8 483.3,444.1 482.3,444.8 475.5,443.2 475,443.5 475.4,452.5 480.9,451.3 481.2,451.6 483.4,458.7ZM503.8,466 504.3,460.8 511.3,459.9 511.8,459 519.6,458.6 518.9,451.5 518.8,451.4 511.7,452.2 511,452.9 504.9,451.8 502.5,458.7 497,458.7 495.9,465.9 496.9,466.7Z" fill="#929FFB" stroke="#929FFB"/>
<path d="M525.6,450.6 526.9,452.1 533.2,452.5 533.4,444.2 526.3,445.8ZM502.6,458.8 504.9,451.8 496.1,451.7 495.9,452 496.6,458.5 497,458.8ZM489.9,481.1 490.6,481.7 490.3,486 497,486 496.7,480.9 496.2,480.5 497.1,474.3 489.8,472.6 490.9,466.5 489.3,465.1 481.9,467.1 482.7,472.9 488.8,473.5ZM503.4,486 511.7,486 512.3,481.9 511.4,481.1 510.8,473.6 504.3,473.3 504.6,467 503.8,466 496.9,466.6 497.7,473.8 504,473.6 504.6,480.4 502.9,482ZM556.3,422.7 556.9,421.2 555.2,421.2 555.1,422.5ZM533.9,436.5 541.6,437.3 542.5,430.3 541,428.5 534.1,430.7ZM547.9,429.9 547.5,430.2 549,437.3 551.5,436.7 551.8,436.2 551.8,433.9 552.6,431.9 553.7,430ZM533.4,465.8 534.2,459.8 533.8,459.4 526.7,459.7 526.2,466.5 526.5,466.8ZM534,473.2 533.2,474 527.5,473.4 526.5,474.4 526.7,481.8 526,482.5 526.2,486 534.2,486 533.4,481.9 534.4,480.8 534,479.6 533.8,477.5 534.5,475.1 534.6,473.2Z" fill="#FDD6D6" stroke="#FDD6D6"/>
<path d="M533.4,444.1 533.2,452.5 526.9,452.1 525.8,458.6 526.7,459.7 533.8,459.4 533.8,453 540.1,451.8 540.8,445.3 541.3,444.9 541.5,437.3 534,436.4 534.1,430.7 533.2,429.7 525.6,430.2 525.4,430.6 526.3,437 532.8,437.6ZM496,465.8 490.9,466.5 489.8,472.7 497.1,474.3 497.7,473.7 496.9,466.6ZM512.5,466.7 511.1,473.3 510.8,473.6 511.4,481.1 512.3,482 518,480.5 519.2,474.8 519.4,474.6 526.5,474.5 527.5,473.5 526.5,466.8 526.2,466.5 519.2,466.5 518.7,466.9 512.9,466.4ZM490.7,481.6 489.9,481.1 488.8,473.4 482.8,473 482.9,474.9 483.8,475 483.8,486 490.4,486ZM496.6,480.9 497,486 503.5,486 502.9,482ZM549,437.2 548.5,437.7 548.8,440.1 548.8,440 550.6,438 551.5,436.6ZM541.3,453.1 541.2,456.9 541.9,456.1 542.6,454.1 542.8,453ZM534.1,459.8 533.4,465.8 534.8,467.4 536.5,467.2 537,466 538,464 538.8,462.5 539.6,460.9 540,460.1ZM534.5,481.1 534.3,480.7 533.3,481.9 534.1,486 535,486 535,483.8 534.9,483Z" fill="#F8BFC0" stroke="#F8BFC0"/>
<path d="M549,437.3 547.6,430.2 542.5,430.3 541.5,437.3 548.5,437.8ZM533.5,444.2 532.8,437.6 526.3,437 525.4,437.8 525,444.1 526.3,445.8ZM546.3,445.8 546.5,445.4 541.3,444.9 540.7,445.3 540,451.8 533.7,452.9 533.7,459.4 534.1,459.8 539.9,460.1 540,460 540.1,459.7 540.3,457.8 541.3,456.9 541.4,453.1 542.8,453 542.9,451.9 543.8,450 545.1,448.2 545.7,447.1ZM534.1,473.2 534.6,473.3 534.6,472.5 535,470 535.4,469.4 536.4,467.4 536.5,467.1 534.9,467.3 533.4,465.7 526.5,466.7 527.5,473.5 533.2,474Z" fill="#F2A5A8" stroke="#F2A5A8"/>
<path d="M486.2,556.9 501.2,556.9 503.7,557.4 506.3,557.5 508.8,557.9 511.2,558.7 513.7,559 516.2,559 518.7,559.4 520,555.6 522.5,555.1 525,555 526.7,557 528.7,558.7 531.2,560.6 533.7,562.5 537.5,565 539.8,565.9 541.6,567.5 543.7,568.7 546.9,568.3 550,567.5 552.5,568.1 555,568.1 556.4,566 557.5,563.7 559.8,562.1 562.5,561.2 565.6,561.6 568.7,562.5 570,566 570.6,568.5 571.9,570.6 573.7,567.5 576.1,566 578.7,565 577.5,562.5 575,561.3 572.3,560.3 570,558.7 568.9,556.1 567.5,553.7 570,550 571.7,548 573.7,546.2 571.2,543.5 568.7,542.5 564.4,536.2 563.1,526.9 528.7,528.1 528.1,525 528.8,522.8 529.3,520.6 529.8,518.5 530,516.2 531.1,514.5 531.6,512.5 533.3,511.1 533.8,509.1 535,507.5 536,505.7 536.6,503.8 536.9,501.7 538.1,500 537.7,497.5 537.5,495 536.5,492.9 536.3,490.5 535.9,488.2 535,486 483.8,486 483.1,500 483.7,508.7 488.7,516.2 493.1,526.2 491.9,535 488.7,542.5 489.4,550Z" fill="#F8BFC0" stroke="#F8BFC0"/>
<path d="M483.8,486.9 483.3,495.3 483.3,495.3 485,488.3ZM512.4,489 512.7,494.7 513.3,495.2 513.7,502.4 518,501.6 520.2,497 525.6,497.8 527.3,495.4 526.7,490.3 528.4,488.7 527.8,486 520.3,486 519.9,489 513.1,488.2ZM499.5,497.1 498.9,490.5 497.5,489.4 491.9,489.8 491.6,495.9ZM483.5,502.7 491.4,503 492.1,502.4 491,496.7 483.2,497.3 483.2,497.5ZM498,503.7 498.2,509 489.6,510 488.8,510.7 484.5,509.9 488.7,516.2 491.3,522 492.2,517.1 498,516.1 499.5,517.8 499.8,523.6 505.8,523.6 507.4,524.8 507.1,530.6 513.3,531.8 514.2,531.3 513.8,524.3 511.8,523.1 511.7,516.6 507.3,516 505.1,510.3 505.3,510 513.1,508.4 512.6,503.4 507.9,501.8 505.6,503.2 499.5,502.1ZM514.1,548.3 512.5,552.3 513.2,553.6 519.5,554.9 519.3,557.7 520,555.6 522.5,555.1 525,555 526.7,557 528.7,558.7 529.8,559.5 534.2,562.9 534.7,563.1 534.5,561.7 535.5,559.7 535.1,554.5 534.3,554 534.6,545.9 528.4,545.1 527.2,543.9 527.9,539.6 520,537.8 518.5,539.8 512.5,539.3 512.1,539.6 513.3,547.2ZM534.3,488.6 535.8,489.8 535,495.7 537.6,496.2 537.5,495 536.5,492.9 536.3,490.5 535.9,488.2 535,486 534.4,486ZM527.4,517.7 528.6,523.3 528.7,522.9 529.2,521 529.3,520.6 529.8,518.5 529.9,517.1ZM555.5,545.9 555.4,551 558.5,553.5 562.4,553.3 563,552.9 562.8,545.6 557.4,544.1ZM562.9,560.5 557,560.9 557.1,564.5 557.5,563.7 559.8,562.1 562.5,561.2 562.9,561.3Z" fill="#F2A5A8" stroke="#F2A5A8"/>
<path d="M497.5,489.4 498.8,490.5 505.5,489.6 505.6,489.5 512.4,489.1 513.1,488.3 512.9,486 498.4,486ZM484.9,488.4 491.6,489.6 492.1,486 483.8,486 483.8,487ZM521.5,504.7 518,501.6 513.7,502.3 512.5,503.4 513,508.4 513.3,508.7 518.3,509.7ZM492.1,502.3 491.4,502.9 483.5,502.6 483.7,508.1 483.7,508.7 484.5,510 488.8,510.7 489.6,510 498.2,509.1 498.1,503.7ZM521.2,525.7 519,522.9 513.8,524.3 514.1,531.3 519.4,531.6Z" fill="#EE8B8E" stroke="#EE8B8E"/>
<path d="M493.3,530.9 492.6,529.8 492.2,532.7ZM497.5,539.6 498.4,540.8 506.1,540.9 506,545.5 504.5,548.2 506.2,552.2 512.6,552.3 514.1,548.3 513.4,547.2 512.1,539.6 507.1,539.8 504.7,532.3 501.1,531.8ZM491.6,535.8 489.8,539.9 490.9,539.7 492.2,538.3ZM498.6,555.1 497.2,553.6 492.8,553.3 492.1,556.9 498.8,556.9ZM534.4,496.6 534.5,502.7 535.3,503.3 536.7,503.5 536.9,501.7 538.1,500 537.7,497.5 537.6,496.1 535.1,495.7 535.8,489.8 534.4,488.5 528.4,488.6 526.7,490.3 527.2,495.4ZM527.4,525.3 526.9,532.1 535.4,532.6 535.7,532.8 540.8,531.1 542.2,532 547.6,533.1 549.9,530.3 550,527.4 528.7,528.1 528.1,525 528.2,524.5ZM557.4,544.2 562.7,545.6 564.9,544.2 564.9,538.6 563.3,537.5 557.6,537.9Z" fill="#ADB8FC" stroke="#ADB8FC"/>
<path d="M492.1,538.3 490.9,539.6 489.9,539.8 488.7,542.5 489.4,550 486.2,556.9 492.2,556.9 492.8,553.3 497.2,553.6 499.2,547.5 498,545.8 498.5,540.8 497.6,539.6ZM505.8,552.9 498.5,555.1 498.7,556.9 501.2,556.9 503.7,557.4 506,557.5ZM526.9,517.2 527.6,510.3 527,509.5 519.6,511.5 519.9,517.3ZM549.5,537.8 548.1,541 548.8,543.7 555.5,546 557.5,544.2 557.6,537.9 557.1,537.3 557,532.1 556.5,531.3 557.2,527.1 550,527.4 549.9,530.2 547.5,533ZM527.1,543.9 528.3,545.2 534.5,546 534.7,545.9 536.3,540.4 534.5,537.8 535.7,532.7 535.4,532.5 527,532.1 526.4,532.7 528,539.4 527.8,539.6Z" fill="#7787F8" stroke="#7787F8"/>
<path d="M534.4,488.6 534.5,486 527.7,486 528.3,488.7ZM497.5,489.5 498.5,486 492.1,486 491.6,489.6 491.9,489.9ZM505.5,489.6 498.8,490.5 499.4,497 499.6,497.3 506.1,495.5ZM535.3,503.3 534.6,502.7 526.9,503.9 526.5,504.5 527,509.5 527.5,510.4 526.8,517.2 527.4,517.7 529.9,517.1 530,516.2 531.1,514.5 531.6,512.5 533.3,511.1 533.8,509.1 534.5,508.1ZM513.8,524.3 519,523 520,517.3 512.1,516.3 513.3,508.6 513.1,508.3 505.3,509.9 505,510.3 507.2,516.1 511.6,516.6 511.7,523.1ZM519.4,531.5 514.1,531.2 513.2,531.8 512.5,539.3 518.5,539.9 520.1,537.9 520.5,532.8ZM540.8,531 535.7,532.7 534.5,537.8 536.3,540.4 541.1,541.1 541.4,547 541.1,547.4 541.5,552.6 548.2,552.3 547.8,545.5 548.9,543.6 548.1,540.9 541.8,540.6 542.2,532ZM564.8,538.6 565.9,538.4 564.4,536.2 563.1,526.9 557.1,527.1 556.5,531.4 557,532.1 557,537.4 557.6,537.9 563.3,537.5ZM570.7,546.3 571.1,546.9 572.9,546.9 573.7,546.2 571.2,543.5ZM562.4,553.3 563.5,559.8 569.2,560.6 569.5,557.7 569.3,557.1 568,554.5 567.5,553.7 568.2,552.7 562.9,552.9ZM578,565.3 578.7,565 578.1,563.7ZM554.6,567.8 554.6,568.1 555,568.1 555.6,567.2Z" fill="#FDD6D6" stroke="#FDD6D6"/>
<path d="M513.7,502.4 513.4,495.2 512.8,494.6 507,496.2 507.9,501.9 512.6,503.4ZM498,503.7 499.6,502.2 499.6,497.2 499.4,497 491.6,495.8 491,496.7 492,502.4ZM519,523 521.1,525.7 519.3,531.6 520.5,532.9 520,537.9 527.8,539.7 528.1,539.4 526.4,532.7 527,532.1 527.5,525.3 528.2,524.7 528.7,523.1 527.4,517.7 526.9,517.1 520,517.2Z" fill="#5C6FF6" stroke="#5C6FF6"/>
<path d="M501.1,531.9 504.7,532.4 507.1,530.6 507.5,524.8 505.8,523.6 499.9,523.5 499.4,524.1 491.8,523.2 493.1,526.2 492.6,529.9 493.2,530.9 499.2,530.1Z" fill="#C8D0FC" stroke="#C8D0FC"/>
<path d="M492.1,538.3 497.6,539.6 501.1,531.8 499.2,530 493.2,530.9 492.2,532.6 491.9,535 491.5,535.9ZM504.6,532.3 507.1,539.9 512.1,539.7 512.6,539.3 513.3,531.8 507.1,530.5ZM498.4,540.7 497.9,545.8 499.2,547.6 497.1,553.6 498.6,555.2 505.7,553 506,557.5 506.3,557.5 508.8,557.9 511.2,558.7 512.6,558.9 513.3,553.6 512.6,552.3 506.2,552.1 504.6,548.2 506.1,545.5 506.2,540.8ZM534.6,545.8 534.5,545.9 534.2,554 535,554.6 541.1,553.1 541.5,552.6 541.2,547.4ZM554.6,567.8 550.3,566.7 548.5,567.9 550,567.5 552.5,568.1 554.7,568.1ZM564.8,538.6 564.9,544.2 562.7,545.6 562.9,552.9 568.2,552.7 570,550 571.7,548 573,546.9 571.2,546.9 570.8,546.3 571.2,543.5 571.2,543.5 568.7,542.5 565.9,538.4ZM556.2,559.6 558.5,553.4 555.4,551 555.6,545.9 548.8,543.6 547.8,545.5 548.2,552.3 549.5,553.2 549.7,559.2 549.9,559.4ZM569.1,560.6 570.2,562.3 575.8,561.7 575.6,561.5 573.2,560.6 572.3,560.3 570,558.7 569.5,557.6Z" fill="#929FFB" stroke="#929FFB"/>
<path d="M499.5,502.2 505.6,503.2 507.9,501.9 507,496.2 506.1,495.4 499.6,497.2Z" fill="#3F55F3" stroke="#3F55F3"/>
<path d="M525.6,497.7 520.2,496.9 518,501.6 521.4,504.8 518.2,509.6 519.6,511.6 527.1,509.5 526.5,504.6 527,504Z" fill="#E76F73" stroke="#E76F73"/>
<path d="M537.5,201 533.8,198.8 531,195 529.7,192.6 528.8,190 525.7,190.9 522.8,192.2 520,193.8 517.7,194.7 515.4,195.4 513.3,196.7 511,197.5 511,199.6 510.3,201.7 509.6,203.7 509.3,205.8 508.9,207.9 508.8,210 506.9,211.3 504.7,212.2 502.9,213.7 501,215 501.2,217 500.6,219 500.9,221 499.8,223 500,225 500.2,227.2 501.4,229.1 502.1,231.2 502.3,233.4 503.4,235.3 503.8,237.5 505.8,238.8 507.5,240.3 509.1,241.9 510.7,243.6 512.5,245 513.6,246.8 515.5,247.7 516.4,249.7 518.1,250.9 519.3,252.6 521,253.8 521.5,256.1 522.9,258 523.3,260.3 524.5,262.2 525,264.5 526,266.5 526.1,268.7 526.2,270.9 526.9,272.9 527.5,275 529.3,276.7 530.4,279 531.9,280.9 533.8,282.5 535.8,283.3 537.5,284.5 580,282.8 580.5,282.8 580.3,282.2 579.8,279.8 579.3,277.4 578.8,275 579,272.2 578.8,269.5 578.3,266.3 577.9,263.2 577.5,260 577.8,257.5 578,255 578.1,252.5 578.1,250 578.3,247.4 579.3,245 579.4,242.5 580,240 581.5,237.2 582.3,234.1 583.7,231.2 584.9,229 586.2,226.8 587.2,224.5 588.7,222.5 590.1,219.2 591.5,216 590,215.5 588.3,218.5 586.2,221.2 584.7,223.8 583.1,226.3 581.2,228.7 579.8,230.9 578.5,233.2 577.1,235.3 575.6,237.5 571.9,238.1 573.1,235.4 573.7,232.5 575,230.4 576.4,228.4 577.5,226.2 577.7,225.8 576.2,225 572.5,220 568.7,213.1 556.2,210 540,205.6Z" fill="#7787F8" stroke="#7787F8"/>
<path d="M500.6,219 500.7,219.1 505.5,219 506.7,217.8 505.8,211.8 504.7,212.2 502.9,213.7 501,215 501.2,217 500.7,218.6ZM532,218.8 523.7,217 523.1,224.9 524.4,226 532.5,225.1ZM558.8,274.5 559.7,275.3 560.8,282.4 561.9,283.4 561.9,283.5 580,282.8 580.5,282.8 580.3,282.2 579.8,279.8 579.3,277.4 578.8,275 579,272.2 579,271.4 578.4,267.1 578.3,266.3 577.9,263.2 577.5,260 577.8,257.5 577.9,256.7 576.2,256.6 575.4,255.9 568.5,257.4 568.1,257.2 560.7,257.6 560.5,257.8 560.9,266.3 559.2,267.9Z" fill="#929FFB" stroke="#929FFB"/>
<path d="M532,208.7 531.8,200.5 529.6,198.5 522.7,200.7 523.5,209.3 531.7,209ZM565.3,215.2 564.6,216 565.8,222.4 565.4,222.9 566.8,231.9 566,232.8 566.9,239.5 575.6,241.1 576.3,240.4 579.9,240.5 580,240 581.5,237.2 582.3,234.1 582.9,232.9 583.6,231.3 584,230.6 584.9,229 586.2,226.8 587.2,224.5 588.7,222.5 589,221.8 585.6,222.4 584.7,223.8 583.1,226.3 581.2,228.7 580.5,229.8 579.2,232.1 578.5,233.2 577.1,235.3 575.6,237.5 571.9,238.1 573.1,235.4 573.7,232.5 575,230.4 576.4,228.4 577.5,226.2 577.7,225.8 576.2,225 572.5,220 569.5,214.6ZM511.1,243.9 511.3,244.1 514.6,243.9 514.8,243.6 524.3,242.3 525.7,243.5 532.5,241.5 533.3,235.2 532.3,233.6 523.9,233.4 522.2,234.7 516.2,233.8 515.1,235 507.3,235.5 506.4,234.8 505.7,228.5 500.4,227.5 501.4,229.1 502.1,231.2 502.3,233.4 503.4,235.3 503.8,237.5 505.8,238.8 507.5,240.3 509.1,241.9 509.7,242.5Z" fill="#5C6FF6" stroke="#5C6FF6"/>
<path d="M551.5,265.9 550.3,266.9 550.9,275 551.8,275.7 558.9,274.5 559.3,267.9Z" fill="#ADB8FC" stroke="#ADB8FC"/>
<path d="M566.9,231.9 565.5,222.8 557.3,224.3 558.8,232.4 566,232.9Z" fill="#C8D0FC" stroke="#C8D0FC"/>
<path d="M586.3,295.7 585,294.5 584,292 583.1,289.5 582,287 581,284.5 580.5,282.8 580,282.8 537.5,284.5 538.2,286.5 538.8,288.6 539.2,290.6 540.6,292.4 541,294.5 540.8,296.5 540.1,298.4 540.3,300.5 540,302.5 540,304.5 538.1,305.3 536.4,306.5 534.7,307.7 532.8,308.4 531,309.5 530.5,311.5 530.3,313.5 529.3,315.4 529.4,317.5 528.8,319.5 528.1,321.4 527.2,323.2 526.4,325 526,327 525.6,329 526,331 525.6,333.1 525.8,335.3 524.9,337.3 525,339.5 525.9,341.5 527.3,343.1 528.5,344.9 530,346.5 531.3,348.2 532.5,350 533.7,351.8 535.3,353.3 536.1,355.3 537.2,357.2 538.7,358.7 541.3,359.2 543.6,360.6 546.2,361.2 545.5,363.4 545.6,365.8 545.1,368.1 544.1,370.2 543.7,372.5 545.4,373.8 546.8,375.4 548.1,377.1 549.6,378.6 551.2,380 552.9,381.7 554.9,383.1 556.9,384.5 558.7,386.2 559.8,388.3 560.3,390.5 560.9,392.7 561.2,395 562.9,396.7 564.4,398.5 566.2,400 567.6,398.4 568.3,396.3 570,395 572.4,396.1 575,395.6 576.4,394 576.2,391.9 576.9,390 578.7,389 579.9,387.1 581.9,386.2 581.8,384 582.3,382 583.1,380 585,371.2 590,360 588.7,350 585.5,299.5Z" fill="#1F3BF0" stroke="#1F3BF0"/>
<path d="M544,290 549.9,290.6 550,296.6 551.1,297.6 551.5,302.7 559,302 559.2,302.2 557.8,309.7 558.9,310.6 565,309.1 565.5,308.6 572.3,310 572.7,309.4 572.4,302.3 571.6,301.7 570.9,294.6 571.3,294.2 570.9,288 563.9,287 563.1,288 556.9,288.7 556.3,283.7 544,284.2ZM537.7,305.5 537.6,305.6 538.9,310.3 543.9,310.4 544.5,309.8 551.6,310.2 552.5,309.3 551.5,302.7 544.8,303.5 543.9,302.7 543.4,297.1 543.1,296.8 543.6,290.4 539.1,289.9 539.2,290.6 540.6,292.4 541,294.5 540.8,296.5 540.1,298.4 540.3,300.5 540,302.5 540,304.5 539.5,304.7ZM526.3,339.2 526.2,341.9 527.3,343.1 528.5,344.9 530,346.5 531.3,348.2 532.5,350 533.7,351.8 535.3,353.3 536.1,355.3 537.2,357.2 538.7,358.7 541.3,359.2 542,359.6 548.4,359.9 549.2,360.7 549.1,365.7 548.7,366.1 550.4,372.8 549.3,374.2 550.1,379 551.2,380 551.3,380.1 555.9,379.9 557,384.6 558.7,386.2 559.8,388.3 560.3,390.5 560.9,392.7 561.2,394.7 564.5,393.4 563.4,386.9 563.9,386.2 563.7,380.3 563.9,380.1 570.2,378.3 570,372.3 569.5,371.8 563,372.6 562.7,372.4 561.2,366.2 562.7,364.6 561.8,358.7 555.7,358.3 555.3,358 554.1,352.7 554.9,351.2 562.4,350.9 561.9,343.9 554.4,345 553.7,346 546.8,345.2 546.7,352.7 540.9,354.1 540.4,353.7 539.7,346.4 533.4,345.8 533.2,339.7 533.5,339.3 532,332.6 531.7,332.4 531.1,326.1 526,327 526,327 525.6,329 526,331 525.6,333.1 525.6,333.8ZM546.4,344.8 546.7,339.2 539.1,338.5 540.3,345.8ZM568.1,337.5 574.7,337.4 575.6,342.5 574,344.7 576.2,350 577.1,357.2 576.1,358 577,364.4 583,364.5 583.8,370 584.9,370.8 584.7,372.4 585,371.2 590,360 588.7,350 588.7,349.5 583,349.5 582.6,349 583.2,344.1 588.3,342.9 586.9,321 586.6,322.1 580.8,321.6 580.5,315.2 572.5,314.9 571.7,316.1 573.4,322.5 580,322.4 580.4,329.1 573.1,329.8 568,331.2 567.2,336.4ZM581.8,384.9 581.8,384 582.3,382 582.7,380.9 583.4,378.8 583.5,378.3 578.2,377.7 577.4,378.5 571,379.1 571.5,386.1 577.7,385.9 578,386.1ZM579.9,308.4 580.6,314.9 586.4,314.2 586,307.6Z" fill="#3F55F3" stroke="#3F55F3"/>
<path d="M556.9,288.8 563.1,288 564,287 570.9,288 572.3,286.4 571.7,283.1 556.2,283.8ZM543.6,290.4 544.1,290 544,284.2 537.5,284.5 538.2,286.5 538.8,288.6 539.1,290ZM551.5,302.7 552.4,309.3 557.8,309.7 559.3,302.1 559,301.9ZM566.1,316 566.6,316.4 571.7,316.1 572.6,314.9 580.4,315.2 580.8,321.7 586.6,322.2 586.9,321.2 586.4,314.1 580.7,314.8 580,308.4 586,307.6 585.6,300.9 578.9,301.5 578.8,301.6 572.4,302.3 572.7,309.4 572.3,309.9 565.4,308.6 565,309.1 558.9,310.6 559.1,315.8 559.6,316.2ZM567.3,336.4 568.1,331.2 566.4,329.6 560.9,329.9 559.3,331.8 560.9,336.3ZM582.4,288 582.1,287.2 578.1,287.2 577.4,294.1 578.6,295 584.6,293.6 584,292 583.6,290.8ZM580.1,322.4 573.5,322.5 572.7,323.3 573.1,329.8 580.5,329.2Z" fill="#5C6FF6" stroke="#5C6FF6"/>
<path d="M570.8,288 571.2,294.2 570.8,294.6 571.5,301.8 572.4,302.3 585.6,301 585.5,299.5 586.3,295.7 585,294.5 584.6,293.5 578.6,295 577.5,294 578.1,287.2 577.9,287 578.2,282.9 571.6,283.1 572.2,286.4ZM560.9,330 566.3,329.6 568,331.2 573.1,329.8 572.8,323.3 573.5,322.5 571.7,316 566.6,316.4 566.1,316 559.6,316.1 560.4,323 560.1,323.3Z" fill="#7787F8" stroke="#7787F8"/>
<path d="M578.1,287.2 582.1,287.2 582,287 581,284.5 580.5,282.8 580,282.8 578.1,282.9 577.9,287Z" fill="#929FFB" stroke="#929FFB"/>
<path d="M596,296.6 595.1,297.1 592.4,297.8 590,299 587.4,296.9 586.3,295.7 585.5,299.5 588.7,350 590,360 585,371.2 583.1,380 585,379.5 586.3,378 588.6,378.4 590,376.9 592.3,376.4 594.4,376.9 596.6,377.1 598.7,378.1 600.6,377.8 602.1,376.4 604,375.8 605.6,374.9 607.5,374.4 609,372.3 610,370 611.8,370.9 613.6,371.6 615,373.1 615.9,371.4 616.7,369.7 617.4,367.9 619.5,366.9 620,365 621.9,363.6 623.5,361.9 625,360 627.2,359.7 628.7,357.9 630.5,357 632.5,356.2 633,354.1 633.6,352 634.4,350 627.5,294 597.5,296.5Z" fill="#7787F8" stroke="#7787F8"/>
<path d="M614.8,296.6 616,295.3 619.9,295 620.3,294.6 607.7,295.6ZM591.4,323.4 592.4,328.2 597.7,329 599.2,327.5 604.4,327.4 604.1,321.7 603,320.7 598.5,321.7 598,321.4 597,315.6 591.7,315.6 591.2,310.6 590.5,310 586.2,310.4 587,323.8ZM614.7,372.8 615,373.1 615.9,371.4 615.9,371.4 614.7,371.4Z" fill="#929FFB" stroke="#929FFB"/>
<path d="M605.5,348.3 607,352.4 612.8,352.2 612.9,346.7 612.2,345.9 612.9,340.3 611.6,339.4 606.7,339.6 605.7,340.7 607.3,345.6Z" fill="#ADB8FC" stroke="#ADB8FC"/>
<path d="M614.5,364.8 614,365.2 614.5,371.2 614.7,371.5 615.9,371.5 615.9,371.4 616.2,370.6 617.1,368.7 617.4,367.9 619.5,366.9 620,365 620.4,364.7 620.4,358.4 619.6,357.8 618.9,352.6 613.1,352.5 612.8,352.2 607,352.4 607.7,359.1 612.7,358 614.6,360Z" fill="#5C6FF6" stroke="#5C6FF6"/>
<path d="M650,290.8 650.4,287.6 651,284.5 653.1,282.3 655,280 656.6,277.7 657.8,275.1 658.8,272.5 659.5,270 659.8,267.5 660,265 659.7,262.5 659,260 659.2,257.5 658.7,255 658,252.4 656.6,250.1 655.7,247.6 655,245 652.5,243.1 650,241.2 647,242.7 643.7,243.7 642,246 640.5,250 637,252 636,248 638.7,245 640.5,243.3 641.9,241.2 642.5,238.3 642.3,235.3 643.1,232.5 642.5,230 642,227.5 641.2,225 640.5,222.5 640,220 637.4,217.7 635,215 632.6,213.5 630,212.6 627.5,211.2 625.2,209.7 623,207.9 621,206 624.2,204.8 627.5,204.4 630.2,204.6 632.9,204.3 635.6,203.7 635,201.9 632.4,201.6 630.1,200.4 627.5,200 626.5,197.3 626.2,194.4 623.6,193.9 621.2,193.1 618.8,194 616.1,194 613.7,195 612.5,192.2 611.2,189.4 608.5,190.5 605.7,191.5 602.9,192.4 600,193.1 597.4,193.4 595.1,194.7 592.5,195 590,196.8 587.5,198.7 585,199 582.5,198.7 579.9,197.6 577.5,196.2 575.3,194.7 573,193.2 571.1,191.2 568.7,190 566.2,190.6 563,193.7 563,190.6 565,187.5 567.3,184.8 570,182.5 573,179.4 568.7,179.4 565.7,181.2 562.5,182.5 560.9,184.3 558.9,185.8 557,187.4 555,188.7 552.5,189.7 550.1,190.6 547.5,191.2 545.5,192.6 543.9,194.5 541.9,195.9 540,197.5 537.5,201 540,205.6 556.2,210 568.7,213.1 572.5,220 576.2,225 577.7,225.8 578.7,223.7 579.8,221.1 581.2,218.7 582.7,215.5 584.4,212.5 587.2,212.8 590,213.1 593.7,211.2 595.9,210 598,208.9 600,207.5 602.6,206.6 605,205.4 607.5,204.4 610.4,205.1 613.3,205.3 616.2,205.8 616.2,206.8 615,210 614.6,213.2 613.7,216.2 612.7,218.9 611.3,221.4 610,224 609.5,227.5 608.7,231 608.4,228 608.1,225 608,222.5 607.5,220 605.9,222.1 604.3,224.2 602.5,226.2 601.6,229.2 600.6,232.1 599.4,235 598.9,237.5 598.8,240 598.2,242.5 598.1,245 601,260 601.3,262.4 602,264.7 602.1,267.1 602.5,269.5 601,284.5 599.9,287.2 599,290.1 598.4,293 597.5,295.8 596,296.6 597.5,296.5 627.5,294Z" fill="#7787F8" stroke="#7787F8"/>
<path d="M574.3,196.8 577.5,196.2 575.6,194.9 575,194.5 573.6,193.6 573.6,196.2ZM618.7,231.5 609.7,231.9 611.2,240.3 617.4,239.3 619.1,240.4 620.7,247.7 626.8,246.7 627.9,247.4 635,245.8 634.5,238.4 627.3,237.7 626,233.1ZM599.1,250.2 601,260 601.3,262.4 602,264.7 602,265.4 602.4,268.9 602.5,269.5 601,284.5 599.9,287.2 599.1,289.6 600.1,289.3 600.7,289.8 606.7,289.2 606.9,289.3 615.8,289.1 615,282.3 616.2,281.2 623.4,279.8 624.5,286.8 623.3,288.2 624.1,294.3 627.5,294 641.2,292.1 640,286.4 633.1,286.9 632.8,279.8 638.7,277.8 640.1,278.8 646.3,278.4 648.2,285.5 648.6,291 650,290.8 650.4,287.6 651,284.5 651.6,283.9 654.5,280.7 655,280 656.6,277.7 656.9,277 658.5,273.2 658.8,272.5 659.5,270 659.8,267.5 659.8,266.9 654.5,268.1 654.4,268.3 645.8,268.2 645.6,261.5 644.7,260.7 637.1,261.9 638.9,270.1 638.3,270.7 630.9,270.2 630.8,278.5 623.6,279.6 622.2,272.7 630,269.4 629.3,263.5 636.4,261.5 636.1,254.7 635.5,254.2 629.3,254.4 628.7,255.1 620.8,255 620.3,248.3 612.6,248.2 611.3,249.7 604.7,248.9 603.3,250.3ZM613.3,264.8 612.3,256.7 619.8,256.4 621.4,262.7 620.4,264 613.5,265ZM643.3,246.5 651,245.1 651.1,244.9 650.8,241.8 650,241.2 647,242.7 643.7,243.7 643.2,244.3Z" fill="#929FFB" stroke="#929FFB"/>
<path d="M693.8,278 691.4,278.9 689.5,280.8 687.3,282 685,283 672.5,290.8 669.9,291.2 667.6,292.5 664.9,292.6 662.4,293.5 660,294.5 657.6,293.3 655,292.6 652.4,292.1 650,290.8 627.5,294 634.4,350 635,348 636.7,349.3 639.2,349.2 640.7,350.9 642.5,352 644.5,352.6 646.6,352.7 648.7,352.7 650.4,354.4 652.5,354.5 654.1,353.3 656.1,353.9 657.7,352.8 659.5,352.2 661.3,352.1 663.1,351.6 665,352 666.9,353.1 667.8,355.2 669.2,356.8 671.2,357.8 672.5,359.5 673.9,358 674.8,356.1 676,354.5 676.4,352.6 677.4,350.9 676.8,348.8 677.5,347 679.6,345.8 681.1,343.9 682.5,342 684.2,341.3 685,339.3 686.6,338.4 688,337.3 690,337 691.4,335.8 693.5,335.7 694.9,334.6 696.3,333.5 697.5,332 697.3,330 698.9,328.5 699.5,326.7 700,324.9 700,323Z" fill="#7787F8" stroke="#7787F8"/>
<path d="M669,293.3 670.4,294.3 671.2,300.6 677,298.9 677.1,293.6 676.5,292.8 676.4,288.4 682.3,286.7 682,284.9 672.5,290.8 669.9,291.2 669,291.7ZM660.2,316.3 660.5,322.7 667.3,323 668.7,327.6 667.9,329 669,333.8 662.5,336.7 663.9,341.4 664.3,341.7 664.4,349.1 658.1,349.3 658.3,352.6 659.5,352.2 661.3,352.1 663.1,351.6 665,352 666.9,353.1 667.8,355.2 669.2,356.8 671.2,357.8 672.5,359.5 673.9,358 674.8,356.1 676,354.5 676.4,352.6 677.4,350.9 676.8,348.8 677.5,347 679.6,345.8 681.1,343.9 682.5,342 684.2,341.3 685,339.3 685.4,339 687.7,337.6 688,337.3 690,337 691.4,335.8 693.5,335.7 694.9,334.6 696.3,333.5 697.5,332 697.3,330 698.9,328.5 699.5,326.7 699.5,326.7 700,324.9 700,323.6 695.8,324.3 695,323.6 693.2,318.3 692.9,318 687.4,318.9 685,312.9 686.2,311.1 693.3,312.3 693.9,311.5 697.8,310.3 697.9,307.9 694.8,284.9 690,285.3 689.1,284.4 682.8,287 684.8,292.1 690.3,292 691.2,298.1 691.7,298.6 691.2,304.2 691,304.6 685.6,306 684.4,305.2 684,299.5 677.3,299.2 678.3,305.8 679.5,306.3 679.3,313.6 673.5,313.1 673,306.8 672.8,306.7 665.8,308.5 667.8,313.9 666.2,315.8ZM674.1,320.8 679.7,319.1 680.6,320 687.1,319.2 686.9,324.6 681.1,326.9 675.4,326.9ZM642.8,331.3 643.7,337.3 650.1,336.9 650.4,336.5 649.6,331.1 648.3,329.8ZM650.6,342.7 651.9,349.8 658,349.3 657.9,344.4 656.2,342.7ZM645.2,352.2 646.2,351.2 645,344.4 644.3,344 638.3,345.7 638.1,345.5 633.9,346.2 634.4,350 635,348 636.7,349.3 639.2,349.2 640.7,350.9 642.3,351.9Z" fill="#5C6FF6" stroke="#5C6FF6"/>
<path d="M682.2,286.7 682.9,287.1 689.1,284.4 688.7,281.2 687.3,282 685,283 682,284.9ZM670.8,301.1 673,306.9 678.4,305.8 677.4,299.2 677,298.8 671.2,300.6ZM667.8,313.9 665.8,308.5 665,308 660.4,308.9 659.4,310.1 660.1,316.1 660.3,316.3 666.2,315.8ZM699.5,319.6 699.2,317.2 693.2,318.3 694.9,323.6 695.8,324.3 700,323.7 700,323.4ZM681.1,327 687,324.7 687.2,319.1 680.7,319.9 679.7,319.1 674.1,320.7 675.3,326.9ZM642.2,351.8 642.3,351.9 643.8,352.4 644.5,352.6 645,352.6 648.1,352.7 648.7,352.7 650.4,354.4 652.5,354.5 654.1,353.3 656.1,353.9 657.7,352.8 658.3,352.6 658.1,349.3 652,349.8 650.8,350.8 646.1,351.2 645.2,352.1Z" fill="#929FFB" stroke="#929FFB"/>
<path d="M566.2,400 566.3,402.1 566,404.1 565.3,406 565.6,408.1 585,407.5 585,404.4 645,399.7 665,394.5 666.5,393.1 667.6,391.4 669.3,390.2 670.7,388.7 671.8,387 673.6,385.9 675,384.5 676.8,383.3 678,381.5 679.5,380 681.2,378.7 682.5,377 681.2,375.3 679.8,373.7 678.2,372.3 676.7,370.8 675,369.5 674.6,367.5 673.6,365.6 673.2,363.6 673.4,361.4 672.5,359.5 671.2,357.8 669.2,356.8 667.8,355.2 666.9,353.1 665,352 663.1,351.6 661.3,352.1 659.5,352.2 657.7,352.8 656.1,353.9 654.1,353.3 652.5,354.5 650.4,354.4 648.7,352.7 646.6,352.7 644.5,352.6 642.5,352 640.7,350.9 639.2,349.2 636.7,349.3 635,348 634.4,350 633.6,352 633,354.1 632.5,356.2 630.5,357 628.7,357.9 627.2,359.7 625,360 623.5,361.9 621.9,363.6 620,365 619.5,366.9 617.4,367.9 616.7,369.7 615.9,371.4 615,373.1 613.6,371.6 611.8,370.9 610,370 609,372.3 607.5,374.4 605.6,374.9 604,375.8 602.1,376.4 600.6,377.8 598.7,378.1 596.6,377.1 594.4,376.9 592.3,376.4 590,376.9 588.6,378.4 586.3,378 585,379.5 583.1,380 582.3,382 581.8,384 581.9,386.2 579.9,387.1 578.7,389 576.9,390 576.2,391.9 576.4,394 575,395.6 572.4,396.1 570,395 568.3,396.3 567.6,398.4Z" fill="#fff" stroke="#fff"/>
<path d="M565.6,408.1 563.4,408.5 561.2,408.7 560.2,410.7 559.4,412.9 558.7,415 558,417 557.5,419.1 556.9,421.2 556.1,423.4 555.1,425.5 554.8,427.9 553.7,430 552.6,431.9 551.8,433.9 551.8,436.2 550.6,438 548.8,440 586,440 631,436 640,434.3 652.5,432.5 653.7,430.1 654.3,427.5 655,425 656.9,424 658.2,422.3 659.8,420.9 661.6,419.9 663.5,419 665,417.5 666.9,416.6 668.7,415.6 670.1,413.9 672,413 673.9,412.1 675.8,411.3 677.5,410 678.9,408.6 680.3,407.1 682.4,406.5 683.9,405.1 685.3,403.8 686.8,402.4 688.1,400.9 690,400 690.8,397.9 691.9,396 692.5,393.8 665,394.5 645,399.7 585,404.4 585,407.5Z" fill="#7787F8" stroke="#7787F8"/>
<path d="M557.5,419.1 557.5,419.1 556.9,421.2 556.1,423.4 555.1,425.5 554.8,427.9 553.7,430 553.2,430.9 552.6,432.1 552.4,432.4 555.1,431.5 556.9,433.4 554.8,440 564.5,440 564.5,438.2 563.6,437.5 562,434.2 563.3,432.1 561.1,426.8 562.9,424.9 567.6,425.6 568.6,418 568.3,417.7 560.6,419.2 559.3,418.7ZM560.8,411.5 567.2,410.9 568,411.5 572.4,409.7 572.5,407.9 565.6,408.1 563.4,408.5 561.2,408.7 560.2,410.7 560.1,410.9ZM580.6,417.7 580.9,423.7 581.7,424.9 588.5,423.2 587.8,417 586.9,416.4 581.8,416.7ZM575.8,438.9 576.5,438 576.7,432 570.8,433.1 569.3,437.8 570.2,438.7 570.3,440 576,440Z" fill="#ADB8FC" stroke="#ADB8FC"/>
<path d="M560.8,411.4 560.1,410.8 559.4,412.9 558.7,415 558,417 557.5,419.1 557.5,419.2 559.3,418.7Z" fill="#FDD6D6" stroke="#FDD6D6"/>
<path d="M572.3,409.6 568,411.4 567.2,410.8 560.8,411.4 559.3,418.7 560.6,419.3 568.3,417.8 568.6,418 567.6,425.5 562.9,424.8 561.1,426.8 563.3,432.2 567.8,429.9 570.8,433.2 576.7,432 576.4,438 582.8,439 583.7,437.9 582.4,431.4 581.3,430.7 581.7,424.9 580.9,423.7 580.7,417.8 581.8,416.7 586.9,416.4 587.3,408.8 580.4,407.9 580.4,407.6 572.5,407.9ZM570.2,438.7 569.4,437.8 564.5,438.2 564.4,440 570.3,440ZM600.1,429.9 603.2,430.1 604.4,429.3 604.9,421.4 604.7,421.2 597,424 597.2,427.5ZM598.6,437.8 595.9,435.5 592.2,435.5 590.4,438.9 590.6,439.6 598.5,438.9Z" fill="#929FFB" stroke="#929FFB"/>
<path d="M635.1,411.6 638.8,414.1 643.2,412 644.2,410 642.6,404.9 639.6,404.7ZM650.8,410.3 651.1,417.1 647,417.6 644.8,419.8 639,417.9 637.1,420.1 639.5,425.7 644.6,424.3 645.1,424.8 646.7,431.9 652.7,430.4 653.1,429.8 653.8,429.9 654.3,427.5 655,425 656.9,424 658.2,422.3 659.5,421.1 659.2,417.1 659.4,416.9 664.7,417.1 666.1,416.3 665.3,407.7 672.4,410 673,409.4 671.8,402.7 669.8,401.2 666.4,401.3 665.1,402.4 659.3,400.7 656,403.5 660.4,409.5 659,411.8 652,408.9ZM595.6,422.4 589.3,424.1 589.9,430.3 592.2,435.5 595.9,435.5 600.1,429.9 597.3,427.4 597,424ZM691.6,393.8 681.1,394.1 679.4,394.6 678.5,395.5 679.3,400.2 686.4,400.8 686.4,402.7 686.8,402.4 686.8,402.3 688.1,400.9 690,400 690.8,397.9 691.9,396 692.1,395.3Z" fill="#5C6FF6" stroke="#5C6FF6"/>
<path d="M568.7,542.5 571.3,541.5 573.7,540 576.6,539.4 579.6,539.1 582.5,538.7 585.2,538 588.1,538 588.1,538 588.1,537.5 586.2,500 586,440 548.8,440 548.1,442.1 547,444.1 546.2,446.2 545.1,448.2 543.8,450 542.9,451.9 542.6,454.1 541.9,456.1 540.3,457.8 540,460 539.1,462 538,464 537,466 536.1,468.1 535,470 534.6,472.5 534.5,475.1 533.8,477.5 534,479.6 534.6,481.7 535,483.8 535,486 535.9,488.2 536.3,490.5 536.5,492.9 537.5,495 537.7,497.5 538.1,500 536.9,501.7 536.6,503.8 536,505.7 535,507.5 533.8,509.1 533.3,511.1 531.6,512.5 531.1,514.5 530,516.2 529.8,518.5 529.3,520.6 528.8,522.8 528.1,525 528.7,528.1 563.1,526.9 564.4,536.2Z" fill="#F8BFC0" stroke="#F8BFC0"/>
<path d="M547.7,445.1 547.6,443 547,444.1 546.7,444.9ZM553.6,444.3 548,445.4 547.1,451.7 547.6,452.3 555.2,452.3 555.7,451.8ZM553.9,459.5 547.5,458.1 547.1,458.6 546.4,465.8 546.7,466.2 553.9,464.7ZM548.4,480.4 553,480.2 554.5,481.5 561.6,479.7 562.6,480.4 562,486.5 555.3,487.2 554.8,487.8 556.1,494.8 555.5,495.4 554.5,502 561.5,503.9 562.9,502.7 561.6,494.8 562.2,494.4 567.4,494.4 569.3,488.7 568.5,487.6 569.3,481 567.6,479.5 568.9,473.5 567.9,472.2 561,472.5 560,473.6 554.9,473 554.4,472.5 547.7,471.5 546.4,473.4 540.5,474.4 539.5,480.7 547.6,481.3ZM539.4,510.3 541,517.2 546.6,516.5 547.1,516.1 547.9,510.7 546.3,509 547.2,502.1 540.6,501.5 539.8,502.2 540.6,509.2ZM532.8,518.7 533.4,518.1 533.4,510.8 533.3,511.1 531.6,512.5 531.1,514.5 530,516.2 529.8,517.9ZM554.7,443.1 560.9,444.1 561.6,440 554.3,440Z" fill="#EE8B8E" stroke="#EE8B8E"/>
<path d="M546.6,516.4 541,517.1 540.4,517.7 541.1,523.9 539.6,525.6 539.9,527.7 547.4,527.4 547.7,524.5 552.9,523.8 553.9,518.1 547,516ZM532.5,524 532.8,518.6 529.8,517.8 529.8,518.5 529.3,520.6 528.8,522.8 528.3,524.3ZM561.6,527 563.1,526.9 563.8,532.2 568.3,532 568.8,531.3 568.1,525 562.2,523.8ZM566.4,539.1 568.7,542.5 571.3,541.5 573.7,540 576.6,539.4 576.9,539.4 577.1,538.5 576.8,538.1 568.9,537.7 567.8,539.1Z" fill="#929FFB" stroke="#929FFB"/>
<path d="M562.2,516.3 561.2,517.4 555.4,516.9 553.8,518.1 552.8,523.8 554.2,525.2 554.4,527.2 561.7,526.9 562.3,523.9 568.1,525 568.7,531.4 576.6,531.3 576.2,523.9 576,523.6 576.8,517.2 576.6,517 568.8,516.6 568.2,516ZM539.6,525.6 532.8,524.4 532.5,524 528.3,524.2 528.1,525 528.7,528.1 540,527.7ZM584.5,442.4 586,442.8 586,440 584.5,440ZM569,443.4 569.9,444.7 576.4,444.1 577.1,443.3 576.9,440 568.8,440ZM575.9,472.7 575.4,473.3 576.5,480 583.2,480.2 583.4,479.9 586.1,480.1 586.1,472.7 584.2,472.5ZM584.2,523.9 583.8,524.3 584.4,530.8 584.2,538.3 585.2,538 588.1,538 588.1,538 588.1,537.5 587,516.7 583.9,515.6 582.8,516.6Z" fill="#ADB8FC" stroke="#ADB8FC"/>
<path d="M577.8,451 583.8,451.1 584.6,457.7 583.3,459 584,466 576.1,465.8 575.6,466.3 575.9,472.7 584.2,472.5 584.1,466.1 586.1,465.8 586,442.8 584.6,442.4 583.3,443.6 577,443.3 576.4,444ZM539.1,462.1 538.7,462.6 537.4,465.2 537.1,465.8 539.3,465.3ZM567.5,479.6 569.3,481 568.4,487.6 569.3,488.7 567.3,494.3 568.7,495.7 575.8,495.6 575.1,488.7 575.9,487.7 583.1,488.2 583,494.5 586.2,494.8 586.1,480 583.4,479.9 583.1,480.2 576.6,479.9 575.5,473.3 568.9,473.5ZM569.6,509 561.6,509.8 562.2,516.4 568.2,516.1 569.9,509.5ZM575.9,523.6 576.2,524 583.9,524.4 584.2,524 582.8,516.5 576.7,517.2ZM583.9,515.7 587.1,516.8 586.3,501.8 583.6,501.7 583.3,502 577.1,502.7 577.7,508.9 584.1,510 584.6,510.3Z" fill="#FDD6D6" stroke="#FDD6D6"/>
<path d="M539.3,465.3 537.2,465.7 537,466 536.1,468.1 535,470 534.9,470.7 534.5,474.3 534.5,475.1 533.8,477.5 534,479.6 534.6,481.7 535,483.8 535,486 535.9,488.2 536.3,490.5 536.5,492.9 537.5,495 537.5,495.1 540,495 540.5,501.6 547.2,502.2 546.2,509 547.9,510.8 553.8,509.9 561.2,509.4 561.6,509.9 569.6,509.1 569.6,503.7 568.3,502.7 562.9,502.6 561.5,503.9 554.5,502 555.6,495.4 556.2,494.8 554.9,487.8 555.3,487.2 562.1,486.6 562.7,480.3 561.7,479.6 554.5,481.4 553,480.2 548.4,480.4 547.6,481.2 539.6,480.6 540.6,474.4 546.4,473.4 547.8,471.6 554.4,472.6 555.4,466 561.2,465.2 561.6,464.9 561.6,459.5 556,457.8 555.2,452.2 547.6,452.2 547.1,451.6 548.1,445.5 553.6,444.4 555.6,451.8 561.4,450.2 562.8,458.3 568.6,457.7 569.9,451.5 569,450.1 570,444.6 569,443.4 568.8,440 561.6,440 560.9,444.1 554.8,443.1 554.4,440 548.8,440 548.1,442.1 547.5,443.1 547.7,445 546.7,444.8 546.2,446.2 545.1,448.2 543.8,450 542.9,451.9 542.6,454.1 541.9,456.1 540.3,457.8 540,460 539.1,462 539,462.2ZM546.4,465.8 547.1,458.6 547.5,458.2 553.9,459.6 553.8,464.6 546.7,466.1ZM539.4,510.3 540.6,509.2 539.8,502.2 536.8,502.4 536.6,503.8 536,505.7 535,507.5 533.8,509.1 533.6,510Z" fill="#F2A5A8" stroke="#F2A5A8"/>
<path d="M568.2,466.5 567.9,472.2 568.9,473.5 575.5,473.3 576,472.7 575.7,466.3 576.1,465.9 584.1,466.1 583.4,459 584.7,457.7 583.8,451 577.9,451 576.4,444 569.9,444.6 568.9,450.2 569.8,451.5 568.6,457.7 569.3,458.5 569.4,465.5ZM554.4,472.6 554.8,473.1 560,473.7 561.1,472.5 561.3,465.2 555.3,465.9ZM568.2,516.1 568.8,516.6 576.6,517.1 576.7,517.2 582.8,516.6 584,515.7 584.6,510.3 584.2,509.9 577.7,508.9 575.8,510.9 569.9,509.5ZM532.8,518.7 532.4,524 532.7,524.5 539.6,525.6 541.2,523.9 540.5,517.7 533.3,518.1ZM554.3,525.1 552.9,523.8 547.6,524.4 547.3,527.5 554.4,527.2ZM577.1,538.5 576.9,539.4 579.6,539.1 582.5,538.7 584.3,538.2 584.5,530.8 583.9,524.3 576.2,523.9 576.6,531.2 568.7,531.3 568.3,531.9 563.8,532.1 564.4,536.2 566.4,539.1 567.8,539.1 568.9,537.8 576.8,538.1ZM583.3,443.6 584.6,442.4 584.5,440 576.9,440 577,443.3Z" fill="#C8D0FC" stroke="#C8D0FC"/>
<path d="M588.1,538 591.6,538 595,537.5 595.6,535 596,532.5 598.2,534.1 600.4,535.7 602.5,537.5 603.8,537.5 603.8,526 620,523.1 649.4,519.4 648.1,513.7 646.2,500 640,472.5 631,436 586,440 586.2,500 588.1,537.5Z" fill="#7787F8" stroke="#7787F8"/>
<path d="M586.8,451.9 587.4,451.5 587.6,443.9 586.5,442.9 586,442.9 586,451.8ZM613.4,475.3 604.6,474.9 603.6,476.1 605.1,482.6 604.6,483.3 597.2,485 597.9,492.1 598.9,493.2 606,491.9 606.2,491.7 612.8,491.2 614.7,492.8 614.5,498.3 615.6,499.7 614.5,507.1 615.3,507.7 615.1,516.4 607,516.6 606.7,516.3 598.7,516.6 590.4,515.3 591.1,525 597.5,524.6 599.2,526.2 599.4,532.6 596.5,532.9 597.9,533.9 598.4,534.3 599.6,535.2 599.7,532.9 603.8,533 603.8,526 607,525.4 607,524.3 610.1,524.9 615.8,523.9 616.3,523.1 615.6,516.9 622.8,515.7 623.5,522.7 649.4,519.4 648.2,514 647.7,513.9 647.3,514.4 639,514.6 638.2,513.9 631.5,515.3 631.6,506.9 629.9,505.3 631.2,498.9 632,498.1 637.7,498.7 638.1,499 646,499.3 640.4,474.1 638.6,474.4 637.2,473.4 629.6,474.6 628.6,473.9 621.3,474.3 614.2,474.4ZM629.5,482.7 630.8,490.4 630.4,491 622.3,491.5 621.8,491.1 621.4,483.4ZM588.8,494.7 590.4,492.5 589.5,485.6 590.8,484.1 596.3,484.4 597.5,475.2 596.4,474.3 589.6,476.1 588.8,477.2 586.1,477.4 586.2,494.1ZM589.9,499.9 586.2,500.7 586.6,508.3 589.1,508.7 590.5,500.4ZM592.3,537.9 595,537.5 595.6,535 595.9,532.9 591.6,533.3 590.4,525.6 587.5,525.6 588,534.9 590.3,534.9 591.3,538 591.5,538Z" fill="#929FFB" stroke="#929FFB"/>
<path d="M586.2,494 586.2,499.8 586.2,500 586.2,500.7 589.9,499.9 590.4,500.4 589.1,508.6 586.6,508.3 587.5,525.6 590.3,525.6 591.6,533.4 595.9,533 596,532.5 596.5,532.9 599.4,532.6 599.2,526.1 597.5,524.5 591.1,525 590.4,515.4 598.6,516.7 606.7,516.3 606.9,516.6 615.1,516.5 615.3,507.7 614.5,507 608.3,507.1 606.7,508.9 598.7,507.2 598,500.7 598.9,493.1 597.9,492.1 597.2,485 596.3,484.3 590.8,484.1 589.4,485.6 590.3,492.5 588.7,494.6ZM622.3,491.6 630.4,491 630.9,490.4 629.5,482.7 621.4,483.4 621.8,491.1ZM622.8,515.6 615.6,516.8 616.2,523.1 615.7,523.9 620,523.1 623.6,522.7ZM607,525.4 610.3,524.8 607,524.2ZM599.6,532.9 599.6,535.1 600.4,535.7 602.5,537.5 603.8,537.5 603.8,533Z" fill="#ADB8FC" stroke="#ADB8FC"/>
<path d="M598.9,493.1 597.9,500.7 606.7,500.5 608.3,507.2 614.6,507.1 615.6,499.7 614.5,498.3 607,500 606,491.8Z" fill="#F8BFC0" stroke="#F8BFC0"/>
<path d="M612.8,491.1 606.1,491.7 606,491.8 607,500.1 614.5,498.3 614.8,492.7ZM631.1,498.8 629.8,505.3 631.6,507 631.4,515.4 638.1,514 639,514.7 647.3,514.5 647.7,514 646.3,507.1 639.3,507.6 638.5,506.8 638.1,499 637.8,498.6 632,498ZM598.6,507.2 606.7,509 608.3,507.2 606.7,500.5 597.9,500.7Z" fill="#FDD6D6" stroke="#FDD6D6"/>
<path d="M646.5,506.8 646,499.4 638.1,499 638.4,506.8 639.3,507.6 646.2,507.2Z" fill="#C8D0FC" stroke="#C8D0FC"/>
<path d="M716.9,516.2 716.2,513.3 715.3,510.5 715,507.5 715.6,505 716.4,502.5 717.1,500.1 717.5,497.5 718.7,495.1 719.2,492.5 720.4,490.1 721,487.5 719.5,486.1 718.8,484.1 717.1,482.9 715.6,481.6 714.4,480 713.7,478 712.2,476.6 711,475 709.5,473.4 708.2,471.7 707.3,469.7 705.7,468.1 705.1,465.9 703.4,464.5 702.5,462.5 700.7,461.6 699.4,460 697.9,458.7 696.3,457.4 694.9,456 693.2,454.9 691.5,453.9 690,452.5 688.5,451 686.5,450.2 685.1,448.6 683.5,447.2 681.8,446.1 680,445 678.4,443.5 677.3,441.4 675.4,440.1 674.1,438.3 673,436.3 671.1,435 670,433 652.5,432.5 640,434.3 631,436 640,472.5 646.2,500 648.1,513.7 649.4,519.4 653.1,525 702.5,522.5 703.7,525.6 706.2,525.6 706.9,516.9Z" fill="#ADB8FC" stroke="#ADB8FC"/>
<path d="M636.3,440.3 636.6,439.9 636.1,435.4 635.7,435.1 631,436 632.2,440.7ZM652.4,443 651.9,438.3 651.7,438.2 646.8,438.9 647.2,443.8ZM663.7,446.8 663.3,442 661.9,440.9 658,442.2 659.3,447.2 663.3,447.4ZM639.2,460.2 638.4,455.4 637.7,454.8 635.8,455.5 637,460.3ZM658.9,484 658.1,479 653,479.7 652.5,474.8 652.1,474.6 646.8,475.7 646.6,476 647.2,480.2 648.2,480.9 652.9,479.9 654.1,484.1 658.7,484.2ZM662.3,514.5 662,510.7 666.8,509.6 667,509.3 665.7,505 661.4,504.8 661.1,504.6 656.1,505.2 656.4,510.5 656,511.1 657.6,515.8ZM652.6,516.5 652.1,511.8 651.4,511.4 647.8,511.9 647.9,512.4 648.6,516.1 648.9,517.1ZM697.7,463 698.1,467.8 703.1,467.3 703.7,466.7 702.5,462.5 701,461.7ZM668.6,476.6 673.2,477.1 672.7,481.4 674.5,482.8 678.7,481.4 677.5,476 673.6,476.7 671.9,471.7 667.6,472.8 667.4,473.1ZM679.8,487.1 674.6,487.1 674.4,487.4 675.1,492 675.9,492.8 680,492.3 680.3,491.9ZM675.6,498 675.1,497.6 670.8,497.6 670.4,503.3 670.8,503.6 676.1,503 676.4,502.5ZM688.4,512.4 689.2,516.1 693.8,515.6 693.7,510.2 693.3,509.8ZM668.5,519.8 668.7,519.5 668.4,515.2 667.5,514.6 663.2,515.2 663.1,519.5 663.7,519.9 664,524.5 669.2,524.2Z" fill="#C8D0FC" stroke="#C8D0FC"/>
<path d="M636.1,435.4 636.6,439.9 641.5,439 640.5,434.2 640,434.3 635.6,435.1ZM636.8,445.5 638,450 642.3,449.8 642.7,449.3 643,445.1 647.2,443.7 646.9,438.9 646.1,438.3 641.8,439.1 642.1,444.4 637.5,444.3ZM637.8,454.9 637.4,450.7 634.6,450.7 635.8,455.5ZM639.1,465.2 640.8,466.5 645.2,464.8 644.1,459.9 639.7,460.5 639.2,460.1 637,460.2 638.3,465.4ZM663.1,478.3 663.3,483 658.9,484 658.7,484.2 654.1,484.1 652.9,485.5 648.7,485.9 643.1,486 642.5,483.7 644.3,491.6 648.5,491.1 649.9,494.8 654.6,495.1 654.9,494.8 659.4,495.3 660,499 655.1,500.8 654.1,499.9 649.7,500.5 648.9,496.2 645.4,496.3 646.2,500 646.4,501.7 649.2,501.2 650.9,505.8 651.4,506 651.4,511.5 652,511.8 656,511.1 656.5,510.5 656.1,505.2 661.1,504.7 661.4,504.9 665.7,505.1 667.1,503.6 665.3,499 670.8,497.7 675.1,497.6 676,492.8 675.1,492 669.4,493.2 669.1,492.9 664.6,493.5 663.4,489.2 664.5,487.9 663.9,483.4 668.6,482.9 669.7,487.9 674.4,487.4 674.6,487.2 679.8,487.1 680,486.9 679.5,481.9 683.5,480.7 684.2,481.3 688.9,480.1 689.6,479.2 693.7,479.5 695,478.4 694.2,474.1 693.6,473.7 688.4,475.3 683.1,475.9 682.7,475.6 677.6,475.9 677.3,471.2 672.7,470.5 672,467.2 671.1,466.6 666.7,467.3 667.6,472.9 671.9,471.7 673.6,476.8 677.4,476.1 678.6,481.4 674.5,482.8 672.8,481.4 668.8,482.5 667.6,478.2 668.7,476.6 667.5,473 662.3,473.8 661.7,473.1 661.9,468.9 660.9,467.9 660.1,463 655,463.7 654.7,464 650.8,464.4 650.1,469.5 650.9,470.2 652.1,474.7 652.4,474.8 653,479.7 658.1,479.1 662.3,477.4ZM641.7,476.1 641.3,475.9 641.2,470.7 639.6,470.8 640,472.5 641.1,477.4 642.3,482.3ZM653.3,521.8 658.4,521.2 658.8,520.6 663.2,519.5 663.2,515.3 667.5,514.7 666.8,509.6 662,510.6 662.2,514.4 657.6,515.7 657.4,516.1 653.3,517 652.5,516.4 648.9,517 649.4,519.4 650.7,521.4 653,521.5ZM657.6,432.6 656,432.6 656.6,433ZM663.3,442.1 667.6,440.8 667.1,436.3 671.5,435.2 671.1,435 670,433 661.3,432.8 662.9,436.4 662.1,437.2 661.9,441ZM653.4,443.8 653.5,447.4 658.9,447.5 659.3,447.2 658,442.2 657.6,442ZM669.8,445.6 673.2,445.7 674.2,444.5 673.4,439.5 668.3,441.4 669.2,445.2ZM682.5,502.3 682.3,506.6 683.3,507.5 687.9,506.6 688.3,506.3 687.5,501.7 686.5,500.9 686.3,496.3 681.3,496.4 680.7,497.2 681.4,501.4ZM677.9,513.4 678.3,513 677.4,507.1 676.1,503 670.8,503.5 671.5,508.8 671.9,509.1 672.7,513.5 673.2,513.8ZM690.4,521.7 685.6,522.5 685.7,523.4 690.6,523.1Z" fill="#FDD6D6" stroke="#FDD6D6"/>
<path d="M645.9,434 649.4,433 648.6,433.1 645.4,433.5ZM656.6,433 657.1,436.5 662.1,437.2 663,436.4 661.3,432.8 657.4,432.6ZM674.1,444.5 673.2,445.6 674.9,450.1 674.8,450.3 674.4,455.5 670.4,456 670.2,461.1 665.3,461.9 665.1,462.1 666.5,467.2 666.7,467.3 671.1,466.7 672,467.3 676.5,465.3 677.9,466.4 678,470.4 682.8,470.9 683.6,470.1 681.7,460.5 682.3,459.6 686.4,458.8 687.5,463.6 686.5,464.5 688.2,469.8 692,468.7 693.6,473.8 694.2,474.1 698.7,472.2 697.9,468.1 692.3,468.4 691.8,463.6 692,463.3 691.1,458.7 691.6,458.2 690.8,453.4 686.5,454.2 686.4,454.1 685.4,449.4 685.7,449.3 685.4,448.9 684.3,447.9 683.5,447.2 681.8,446.1 680,445 678.4,443.5 677.3,441.4 675.4,440.1 674.8,439.4 673.4,439.4ZM648.9,448.2 653.1,447.9 653.5,447.4 653.4,443.8 652.4,442.9 647.2,443.7ZM670.3,456 668.9,451.2 664.5,451 663.3,447.3 659.3,447.1 658.9,447.5 658.1,451.9 659.9,453.2 664.1,451.7 665,456.8ZM637.3,450.7 637.7,454.9 638.4,455.4 643.6,454.3 642.3,449.7 638,450ZM645.2,464.7 640.8,466.4 639.1,465.1 638.2,465.4 639.6,470.8 645.9,470.4 646.5,469.8 650.1,469.6 650.9,464.5 654.8,464.1 655,463.8 654.1,458.3 649.8,458.5 648.9,453.5 648.7,453.4 643.8,454.5 644.2,459.9 649,459.3 650.4,464.1 645.5,465ZM693.7,479.5 689.5,479.1 688.8,480.1 689.8,484.7 690.2,485 691,489.3 690.1,490.3 692,494.3 690.6,496.2 692.6,500.5 692.2,506.5 692.7,506.9 697.8,505 698,504.6 702.8,504.5 703.8,509.1 708.4,508 708.3,503.5 713.1,502.1 712.7,498 713,497.4 717.5,496.2 717.8,491.6 717.6,491.5 715.7,486.6 716.5,485.7 719.3,485.4 718.8,484.1 717.1,482.9 715.6,481.6 714.4,480 713.7,478 712.2,476.6 711.8,476 709.6,476.1 709.2,476.8 710.6,481.2 710.2,482 706,483.6 704.9,482.8 700.4,482.9 699.4,478.9 703.9,476.8 703.2,472.7 698.9,472.4 699.1,478.7 694.9,478.4ZM700.6,488.2 696.1,489.5 695.3,488.8 695.3,484.4 700,483.4ZM702.5,494.1 707.9,492.5 708.2,492.7 706.8,497.5 703.1,498 702.5,499 697.4,499.6 696.6,494.3 701.6,493.2ZM693.6,510.1 693.8,515.5 689.3,516.1 690.5,521.5 690.3,521.7 690.5,523.1 700.3,522.6 699.8,521 700.8,519.6 705.4,519.3 705.2,514.9 699.3,515.2 698.8,514.8 699.1,510.7ZM705.3,466.6 705.1,465.9 703.4,464.5 703.1,463.9 702.4,462.4 702.4,462.4 703.6,466.7ZM709.1,508.5 709.9,512.8 715.1,512.9 715.4,513.1 715.2,516.3 716.9,516.2 716.6,515 715.7,511.7 715.3,510.5 715,507.5 715.2,506.7 714.3,506.6 713.6,507.4Z" fill="#929FFB" stroke="#929FFB"/>
<path d="M641.3,475.9 641.6,476.1 642.2,482 642.6,484.2 643.1,486.1 648.7,486 652.9,485.6 654.1,484.1 652.9,479.8 648.2,480.9 647.2,480.1 646.7,476 646.8,475.8 652.2,474.7 651,470.2 650.1,469.5 646.5,469.7 645.9,470.3 641.2,470.7ZM668.8,482.6 672.8,481.4 673.2,477.1 668.6,476.6 667.5,478.2ZM658.8,484.1 663.4,483.1 663.2,478.3 662.4,477.4 658,479.1ZM664.4,487.9 663.3,489.2 664.6,493.6 669.1,493 669.5,488ZM654.1,499.9 654.6,495 649.9,494.7 648.5,491.1 644.3,491.6 645.4,496.4 648.8,496.3 649.7,500.6ZM665.1,499.1 667.1,503.7 670.5,503.3 670.7,497.8 665.2,498.9ZM651.5,506 650.9,505.7 649.2,501.1 646.4,501.7 647.9,511.9 651.4,511.5ZM685.7,522.5 690.3,521.7 690.5,521.5 688.5,512.4 683.3,511.5 682.2,512.8 678.2,513 677.9,513.3 678.4,518.3 674.6,519.6 673.9,519 673.2,513.8 672.7,513.5 668.3,515.1 668.6,519.5 668.4,519.8 669.1,524.2 685.7,523.3ZM687.8,470.2 688.3,475.2 688.4,475.3 693.7,473.8 692.1,468.7 688.2,469.7ZM677.5,476 682.7,475.6 682.8,470.9 678,470.4 677.2,471.3ZM685.1,485.8 684.3,481.2 683.5,480.7 679.4,481.8 680,486.9 679.8,487.1 680.2,491.9 680,492.3 675.9,492.8 675.1,497.6 675.5,498 676.3,502.5 681.4,501.4 680.8,497.2 681.3,496.5 686.2,496.3 686.4,500.9 687.5,501.7 688.2,506.3 692.3,506.6 692.7,500.4 690.7,496.2 692.1,494.3 690.2,490.3 691,489.3 690.3,484.9 689.8,484.6Z" fill="#F8BFC0" stroke="#F8BFC0"/>
<path d="M654.2,453 654.9,457.3 654.1,458.3 655,463.8 660.1,463.1 660.4,462.7 665.1,462.1 665.3,461.9 670.3,461.1 670.4,456 670.3,455.9 665,456.8 664.2,451.6 659.9,453.2 658.1,451.8ZM692.3,454.3 691.5,453.9 690.8,453.3 690.7,453.4 691.5,458.1 691.1,458.7 692,463.3 691.7,463.6 692.3,468.4 697.9,468.2 698.2,467.8 697.8,463 696.7,462.3 695.9,457.5 696.1,457.2 694.9,456 694.1,455.5ZM644.1,459.9 645.2,464.8 645.5,465 650.5,464.2 649.1,459.2ZM672.7,470.5 677.3,471.3 678.1,470.4 678,466.3 676.5,465.3 671.9,467.2ZM699.3,478.9 700.3,482.9 704.9,482.9 705.4,477.6 703.9,476.8ZM700.1,483.3 695.2,484.4 695.3,488.9 696.1,489.6 700.6,488.3ZM696.5,494.3 697.3,499.7 702.5,499 703.2,498.1 706.8,497.6 708.3,492.6 708,492.4 702.5,494.1 701.6,493.2ZM713,502 708.2,503.5 708.3,508 709.1,508.6 713.7,507.5 714.3,506.6 713.5,502.4ZM705.2,515 705.4,519.3 705.2,524.2 705.5,524.5 706.3,524.4 706.9,516.9 715.2,516.3 715.4,513.1 715.1,512.9 709.9,512.8 709.3,513.6 705.3,514.7 703.5,509.4 703.8,509 702.9,504.4 697.9,504.6 697.7,505 699.5,510.1 699,510.8 698.8,514.9 699.2,515.2Z" fill="#7787F8" stroke="#7787F8"/>
<path d="M687.9,506.5 683.3,507.4 682.3,506.6 677.3,507.2 678.2,513.1 682.2,512.9 683.3,511.6 688.4,512.4Z" fill="#F2A5A8" stroke="#F2A5A8"/>
<path d="M603.8,537.5 606.8,536.4 610,536 612.5,535.9 615,535.8 617.5,536.5 620,536.2 622.5,536.6 625,536.4 627.5,536.6 630,537.3 632.5,537.5 634.8,538.5 637,539.8 639.2,541 641.2,542.5 643.7,545 646.2,547.5 648.7,547.7 651.2,548.1 653.7,548.7 656,547.2 657.9,545.4 660,543.7 662.8,541.5 665,538.7 667.5,537.7 670,536.9 672.6,537.5 675,538.7 677.4,541 680,543.1 681.5,545.1 683.3,546.9 685,548.7 687.6,550.4 690,552.5 692.4,554.5 695,556.2 696.9,558.7 698.7,561.2 700,564.2 700.6,567.5 700.2,570 700.3,572.5 700,575 700.6,577.5 701,580 702,582.5 702.6,585.1 704.3,587.4 705,590 706.7,592.4 708.8,594.4 710.7,596.5 712.5,598.7 713.7,601.6 715.2,604.5 716.2,607.5 718.2,609.3 720.5,610.7 722.5,612.5 724.2,615 725.8,617.5 727.5,620 730.1,620.5 732.5,621.8 735,622.5 737.6,624.9 740,627.5 741,630.7 742.5,633.7 745.1,634.3 747.5,635.6 750.6,635.1 753.7,635 755.8,633.7 757.5,631.9 758.6,629 760,626.2 760,623.1 760,620 760,617.5 759.8,615 759.4,612.5 759.4,610 758.7,607.3 758.9,604.4 758.1,601.7 757.8,599 757.5,596.2 756.4,593.8 755.8,591.1 754.6,588.7 753.5,586.2 752.5,583.7 751.1,581.3 749.7,578.8 748.9,576.1 747.1,573.9 746.2,571.2 745,569.1 743.8,567 743.3,564.5 741.9,562.5 739.6,560.7 737.5,558.7 735.8,556.8 734.2,554.9 732.9,552.8 731.6,550.6 730,548.7 729.1,546.3 727.4,544.2 725.9,542.1 724.6,539.9 723.7,537.5 722.9,534.9 721.6,532.5 720.9,529.9 720,527.4 718.7,525 718.4,522 717.6,519.1 716.9,516.2 706.9,516.9 706.2,525.6 703.7,525.6 702.5,522.5 653.1,525 649.4,519.4 620,523.1 603.8,526Z" fill="#ADB8FC" stroke="#ADB8FC"/>
<path d="M678.8,523.7 676.9,523.8 677.5,524.3ZM626.9,522.2 622.9,522.7 619.5,523.2 618.8,523.3 618.5,531.6 620.3,533.1 626.9,530.8ZM610.1,526.5 608.7,525.1 603.8,526 603.8,537.5 606.8,536.4 610,536 611.4,535.9ZM654.9,536.2 662.9,532 659.7,524.8 653.4,526.1 652.5,533.8ZM635.7,536.7 638.2,538.5 638.1,540.4 639.2,541 641.2,542.5 643.7,545 646.2,547.5 648.7,547.7 649.4,547.8 650.8,543.4 646,541.5 644.1,537.5 645.1,533.1 643.8,530.6 638.3,530.3 636.3,528.5 628.3,531.8 630.8,537.4 630.9,537.4ZM668.7,531.4 663.1,532.1 664.2,539.7 665,538.7 667.5,537.7 670,536.9 671.1,537.2 671.1,532.5ZM677.4,541 680,543.1 680.3,543.6 688.9,546.6 689.7,551.2 691.6,552.7 691.4,553.7 691.7,553.9 694.2,555.6 695,556.2 696.9,558.7 698.6,561.1 699.4,560.8 700.8,558.6 707.4,558.8 708.8,557.2 708.6,550.8 706.1,547.9 697.7,551.9 696.7,542.1 691,543.2 687.5,537 680.2,540.9 680,540.8 676.8,540.4 677.4,541ZM703.3,576.6 705.4,583.5 705.2,583.8 702.4,584 702.6,585.1 704.3,587.4 705,590 706.7,592.4 708.8,594.4 710.7,596.5 712.5,598.7 712.8,599.5 713.6,599.3 714.6,598 715,592.3 721.4,589.3 720.9,583.4 719.1,582 719.3,574.8 721,572.6 718.8,565.8 718.7,565.7 710.3,567.5 709.6,566.9 701.7,568.3 700.4,569.8 700.6,574.9ZM711.9,523.4 718.9,525.4 718.7,525 718.4,522 717.6,519.1 716.9,516.2 711.6,516.6ZM712.1,540.4 711.6,540.8 715.6,548.2 722.3,545.7 721.8,541.5 721.3,540.9ZM733.1,555.2 731.4,553 723.7,555.1 728.9,563.9 733.2,562.5 734.6,563.1 739.5,560.7 737.5,558.7 735.8,556.8 734.3,555ZM742.1,596.6 748.5,594.9 750.4,601.9 758,601.1 757.8,599 757.5,596.2 756.4,593.8 755.8,591.1 754.6,588.7 753.5,586.2 752.5,583.7 751.1,581.3 749.7,578.8 748.9,576.1 748.5,575.6 746.1,576 745.8,576.8 738.3,580.4 737.6,585.6 739.8,587.6 738.9,594.3ZM746.3,634.9 744,627.5 745.4,625.7 745.5,620.9 742.4,618.4 736.5,619.3 735.1,621.8 733.7,622.1 735,622.5 737.6,624.9 740,627.5 741,630.7 742.5,633.7 745.1,634.3 745.5,634.5ZM754.9,632.5 747.5,635.5 747.6,635.6 750.6,635.1 753.7,635 755.6,633.8 755.8,633.7 755.9,633.6Z" fill="#929FFB" stroke="#929FFB"/>
<path d="M635.2,521.5 635.5,521.1 630.7,521.8ZM650.5,524.6 645.4,526.7 643.8,530.6 645.1,533.1 644,537.5 646,541.5 650.7,543.4 653.9,542.3 654.3,541.9 654.9,536.2 652.6,533.7 653.5,526.2 659.7,524.9 659.7,524.7 653.1,525 650.3,520.7ZM677.1,531.2 671.1,532.5 671.1,537.1 672.6,537.5 675,538.7 676.9,540.5 680.1,540.8ZM689.8,551.2 689,546.5 680.3,543.4 681.1,544.7 681.5,545.1 683.3,546.9 685,548.7 687.6,550.4 688.8,551.4ZM692.6,525.8 692.4,523 684,523.4 687.2,527.4ZM720.7,530 720.9,530 720.9,529.9 720,527.4 719.1,525.8ZM712.1,540.4 721.3,540.9 719.9,531.1 713.5,533.3ZM714.8,549.4 718.4,557.2 722.9,555 722.4,545.7 715.6,548.2ZM735.6,578.1 735.3,572.2 728.7,571.8 726.6,574.1 728.1,579.4Z" fill="#C8D0FC" stroke="#C8D0FC"/>
<path d="M706.3,542.5 706.1,548 708.6,550.8 714.8,549.5 715.6,548.2 711.7,540.8 712.2,540.4 713.5,533.3 719.9,531.2 720.8,530 719,525.6 718.9,525.3 711.9,523.3 709.3,525.4 712.1,532.4 705,533.9 706.6,542.1ZM704.3,525.6 703.7,525.6 703.5,525 702.5,524.3 695.4,527.7 695.6,533.8 688,535.6 687.5,537 691,543.2 696.7,542.2 697.8,541.1 696.6,534.7 704.3,533.2 704.6,525.8ZM663.2,532.1 662.8,532 654.9,536.2 654.3,541.9 660.9,543 662.8,541.5 664.3,539.6ZM638.3,538.5 635.7,536.7 631.1,537.4 632.5,537.5 634.8,538.5 637,539.8 638.1,540.4ZM719.7,610.2 720.5,610.7 722.5,612.5 724.2,615 724.5,615.5 726.8,614.4 727.4,613.2 724,607.2 717.9,608 717.7,608.8 717.9,609ZM731.7,550.8 731.6,550.6 730,548.7 729.3,546.8 722.4,545.6 722.9,555 723.7,555.2 731.4,553.1ZM734.6,563.1 733.2,562.4 728.9,563.9 728.7,564.1 718.8,565.8 720.9,572.6 726.7,574.1 728.8,571.9 735.2,572.3 738.1,569.1 743.7,570.1 746.1,576.1 748.5,575.7 747.1,573.9 746.2,571.2 745,569.1 743.8,567 743.3,564.5 741.9,562.5 739.6,560.7 739.5,560.7ZM739.8,587.5 737.6,585.6 738.4,580.4 735.5,578.1 728.1,579.3 727.5,580.7 731.2,586.9 732.3,587.4 732.6,595.9 739,594.4Z" fill="#FDD6D6" stroke="#FDD6D6"/>
<path d="M704.5,525.8 704.2,533.1 696.5,534.6 697.7,541.1 706.3,542.5 706.7,542.1 705,533.9 712.2,532.5 709.3,525.4 711.9,523.3 711.7,516.6 706.9,516.9 706.2,525.6 704.2,525.6ZM692.6,525.7 687.2,527.3 685.6,531 688,535.7 695.7,533.8 695.4,527.8 702.5,524.4 703.5,525.1 702.5,522.5 692.4,523ZM714.6,598 713.5,599.2 712.8,599.4 713.1,600 714.8,603.7 715.2,604.5 716.2,607.5 717.8,608.9 718,608 724,607.2 724.5,606 732.5,601.5 732.9,601.8 734.8,610.9 732.8,612.9 727.3,613.1 726.8,614.3 724.5,615.5 725.2,616.6 726.5,618.6 727.5,620 730.1,620.5 732.5,621.8 733.9,622.2 735.1,621.9 736.6,619.4 742.4,618.5 742.6,610.3 742,609.6 742.5,605.4 740.4,602.6 742.1,596.6 739,594.3 732.7,595.8 732.4,587.3 731.2,586.8 727.6,580.7 728.2,579.3 726.7,574.1 721,572.5 719.2,574.7 719,582.1 720.8,583.4 721.3,589.3 714.9,592.3ZM735.5,578.1 738.4,580.4 745.8,576.8 746.1,576 743.8,570 738.1,569.1 735.2,572.2Z" fill="#F8BFC0" stroke="#F8BFC0"/>
<path d="M700.2,569.7 700.2,570 700.3,572.5 700,575 700.6,577.5 701,580 702,582.5 702.4,584.1 705.2,583.8 705.5,583.5 703.4,576.6 700.7,574.8 700.5,569.8Z" fill="#7787F8" stroke="#7787F8"/>
<path d="M724.5,606 724,607.2 727.3,613.2 732.8,613 734.9,610.9 733,601.7 732.5,601.4ZM759.4,609.8 759.3,609.7 758.7,610.3 752.4,609.2 749.9,611.4 742.5,610.3 742.4,618.5 745.4,620.9 745.3,625.7 743.9,627.5 746.3,634.9 747.6,635.5 754.9,632.5 755.8,633.6 757.5,631.9 758.6,629 760,626.2 760,624.1 760,620.3 760,620 760,617.5 759.8,615 759.4,612.5 759.4,610.5Z" fill="#F2A5A8" stroke="#F2A5A8"/>
<path d="M721,487.5 722.5,485.5 724.1,483.6 726,482 727.5,480 729.4,478.1 731.3,476.3 733,474.3 735,472.5 736.4,470.5 737.9,468.4 739.2,466.3 740.9,464.4 742.5,462.5 750,450 751.4,447.4 753.1,445.1 754.5,442.5 756,440 735,425 710,426 693.8,422.5 683.8,425 670,433 671.1,435 673,436.3 674.1,438.3 675.4,440.1 677.3,441.4 678.4,443.5 680,445 681.8,446.1 683.5,447.2 685.1,448.6 686.5,450.2 688.5,451 690,452.5 691.5,453.9 693.2,454.9 694.9,456 696.3,457.4 697.9,458.7 699.4,460 700.7,461.6 702.5,462.5 703.4,464.5 705.1,465.9 705.7,468.1 707.3,469.7 708.2,471.7 709.5,473.4 711,475 712.2,476.6 713.7,478 714.4,480 715.6,481.6 717.1,482.9 718.8,484.1 719.5,486.1Z" fill="#ADB8FC" stroke="#ADB8FC"/>
<path d="M681.4,427.2 681.1,427.4 679.5,427.5 673.5,430.9 677.6,437.2 681.6,435.6 686.6,442.5 686.1,443.4 687.2,449.8 686.6,450.2 688.5,451 689.3,451.8 690.7,453.1 691.5,453.9 693.2,454.9 694.9,456 695.6,456.8 702,453.5 704.5,455.1 709.6,452.2 709.8,451.8 716.2,450.8 716.8,450.2 716.9,443.3 714.8,442 707.9,444.4 705.4,438.6 704.9,438.1 698.6,438.7 697.7,439.7 699.5,447.2 694.5,449.2 690.6,440.9 691.7,439.6 690.1,432.9 696.5,430.9 698,432.3 703.9,431.5 705.3,432.3 709.2,430.6 713.5,435.6 714.4,436 718.7,433 720.3,433.5 726.6,432.1 727.3,432.8 733.7,432 735,438.9 734,440 738.3,445.6 729.1,448.1 729,448.3 725.5,448.3 722.5,451.2 723.1,457.5 724.5,458.3 726.6,462.3 726.1,464.4 719.1,466.5 717.5,465.4 713,466.5 713.4,473.3 709.7,473.6 711,475 712.2,476.6 713.7,478 714.4,480 715.6,481.6 716.6,482.4 716.7,480.8 714.9,479.3 715,474.6 720.2,472.4 720.6,472.6 726.7,472.6 728.6,477.7 730.2,477.3 730.7,476.9 732.3,475.1 733,474.3 735,472.5 736.4,470.5 737.9,468.4 739.2,466.3 739.8,465.6 741.9,463.2 742.5,462.5 742.5,462.5 742.6,460.9 743.7,460.5 745.8,457 746.2,451.1 739.3,453.7 737.2,452.2 738.6,445.7 743.6,444.5 741.4,436.3 741.7,435.7 741.6,431.7 743.4,431 740.8,429.1 740.9,431.1 735.4,430.4 733.4,425.1 710,426 703.9,424.7 702.1,424.9 701.5,424.5 697,426.6 695.3,425.3 694.7,422.7 693.8,422.5 688.8,423.7 689.4,426.4 688.5,428.3ZM705.9,467.7 705.6,467.5 705.7,468.1 706.2,468.6Z" fill="#929FFB" stroke="#929FFB"/>
<path d="M698,432.3 696.5,430.9 690.1,432.8 691.6,439.6 690.5,440.9 694.5,449.3 699.6,447.2 697.7,439.7 698.6,438.8ZM728.5,438.9 730.8,440.6 734.1,440.1 735,438.9 733.7,432 727.3,432.7ZM702,453.5 695.6,456.7 695.8,456.9 697.3,458.2 697.9,458.7 699.4,460 700.3,461.1 703.1,461.8 704,460.6 704.5,455Z" fill="#C8D0FC" stroke="#C8D0FC"/>
<path d="M756,440 760,438.8 763,438.1 766,437.5 767.5,435 769.1,432.4 770.9,430.1 772.5,427.5 774.5,426 776.4,424.4 777.9,422.4 780,421 783,420.1 785.8,418.4 788.8,417.5 790.4,415.1 791.6,412.3 793.7,410.2 795,407.5 796.6,405.4 798.8,403.8 800.7,401.9 802.5,400 802,397.5 801.5,394.9 800.6,392.5 800,390 798.4,388.1 797.3,385.8 795.8,383.8 794.1,381.9 792.5,380 790.8,377.4 789.2,375.5 789,375.5 740,384.5 692.5,393.8 691.9,396 690.8,397.9 690,400 688.1,400.9 686.8,402.4 685.3,403.8 683.9,405.1 682.4,406.5 680.3,407.1 678.9,408.6 677.5,410 675.8,411.3 673.9,412.1 672,413 670.1,413.9 668.7,415.6 666.9,416.6 665,417.5 663.5,419 661.6,419.9 659.8,420.9 658.2,422.3 656.9,424 655,425 654.3,427.5 653.7,430.1 652.5,432.5 670,433 683.8,425 693.8,422.5 710,426 735,425Z" fill="#929FFB" stroke="#929FFB"/>
<path d="M691.4,400.1 692.7,404 691.4,406.1 686.2,405.5 685.1,408.4 680.6,408.2 679.3,409.4 680,414.6 682.1,415.5 686.8,414.1 688.1,420.4 694.6,417.2 692,412.1 692.4,411.6 697.1,409.8 697.7,405.7 699,404.3 704,404.3 705.5,401.4 703.3,396.6 703.7,395.7 702.4,391.9 692.5,393.8 691.9,396 690.8,397.9 690.1,399.6ZM710.1,399.9 708.7,401 712,407 706.6,408 707.4,414.9 708.1,415.2 713.2,414.1 720.1,413.7 721.1,418.3 721.9,419.1 727.7,417.3 725.9,411.7 720.1,413.6 719.1,407.5 723.4,407.2 725.6,404.2 730.2,404.6 728.8,397.2 734.9,396.7 735.5,395.5 734.5,391.5 732.2,389.7 727.2,391.1 725.7,387.3 719.9,388.4 721.2,392.1 726.7,391.9 727.3,396.4 722.7,399.6 720.7,399.3 719.8,394 714.5,392.8 713.6,394.9 714.1,399.3ZM663.3,423.5 657.3,425.5 659.4,430.9 658.8,432.7 666.6,432.9 666.6,430.5 664.7,429.6 664.6,424.2 669.9,423 670.3,422.5 668,417.4 669.2,415.4 669.1,415.1 668.7,415.6 666.9,416.6 665,417.5 663.5,419 662.8,419.4ZM709.6,425.9 709.8,426 714.7,425.8 717.3,425.7 716.5,425.3 714.7,420.4 709,421.8ZM701.6,423.5 697.8,423.4 702,424.3ZM657.1,425.3 656.8,424.1 655,425 654.7,426.2ZM678,428 676.8,427 670.6,429.9 671.8,432 678.6,428ZM745.5,383.5 740,384.5 737.9,384.9 740.2,387.8 745.3,386ZM751.8,388 746.7,387.4 745.6,393.9 746.4,394.4 749,399.4 753.7,397.1 752.9,392.1 753.3,391.1 758.6,391 759.5,391.9 764.8,391.6 765.7,389 764.4,384.5 762.9,380.4 762.7,380.3 757.1,381.4 757.9,385.6 752.6,386.6ZM756.7,405.3 756.8,411.8 757.3,412.3 757.6,416.6 759.2,418.1 765.4,416.5 762.6,411.4 763.4,409.5 760.5,404.9 761.3,404 761.2,398.5 758.7,397.2 756.1,398.1 755.8,404.7ZM740.3,415.8 740.2,418.6 745.6,421 745.6,424.5 748.2,425.8 749.6,430.4 747.7,432.9 750.1,435.8 756,440 760,438.8 762.7,438.2 762,436.1 762.5,435 761.1,430.9 760.9,430.7 761.7,424.1 758.7,422.4 754.9,424 753.5,423.1 752.1,419.6 746.8,419.7 746.5,414.5 750.8,413.6 751.7,412.2 749.9,406.8 744,407.6 744.6,413.4ZM742,427.1 742.3,426.6 738.8,420.1 735.5,421.2 732.5,416.2 727.8,417.4 729.3,424.6 729.2,425.2 735,425 737.7,426.9ZM775.8,380.6 778.5,382.6 777.8,387.3 778,387.5 778.2,392.9 774.9,394.4 774.5,399.7 774.8,400 780,400.6 780.7,405.7 783.5,406.4 788,403.5 788.8,403.8 789.4,411.2 793,410.9 793.7,410.2 795,407.5 795.4,407 794.6,405.5 799.3,400.7 797.9,397.6 800.3,395.2 801.5,395.4 801.5,395.1 801.4,394.7 800.6,392.5 800,390 799.6,389.5 799.3,390.1 791.7,392.3 792.2,394.9 786.8,399.5 784.3,392.9 784.8,392.3 784.1,387 785,385.8 790.9,385.5 791.6,384.6 789.2,378.1 789,377.9 788.9,375.5 770.5,378.9 771.6,381.3ZM778.2,420 784.3,417.1 782.3,413.2 778.2,413.2 776.4,411.2 770.5,413.7 770.1,414.4 774.5,420.5 774.3,425.7 773.8,426.5 774.5,426 776.4,424.4 777.9,422.4 779.4,421.4Z" fill="#ADB8FC" stroke="#ADB8FC"/>
<path d="M732.2,389.7 734.5,391.6 735.5,395.5 734.9,396.7 735.9,401.7 735.8,401.8 737.5,409.7 743.4,407.2 742,402.5 742.3,402.1 749.1,399.4 746.5,394.4 745.6,393.8 742.2,394.5 740,388.3 740.2,387.7 738,384.9 725.6,387.3 727.2,391.2ZM705.4,401.4 704,404.2 705.3,407.2 706.6,408.1 712.1,407.1 708.8,401 710.1,400 708.8,395.2 707.9,394.6 703.6,395.7 703.3,396.6ZM679.3,409.5 680.6,408.3 685.1,408.4 686.3,405.5 686.1,403 685.3,403.8 683.9,405.1 682.4,406.5 680.3,407.1 678.9,408.6 678,409.4ZM719,407.4 720,413.7 725.9,411.8 727.6,417.3 727.8,417.4 732.5,416.3 733,415.3 737.1,413.1 737.3,410 731,407.8 730.1,409.5 725.9,411.7 723.4,407.1ZM688.2,420.4 686.9,414 682.1,415.5 680,414.5 675.8,416.2 674.5,415 669.1,415.3 668,417.4 670.3,422.5 674.9,422.3 675.6,421.4 681.6,420.9 683,422 688,421.1 689.7,423.5 693.8,422.5 696.2,423 695.7,418 701.4,415.1 700.2,411.9 697.1,409.7 692.4,411.6 691.9,412.1 694.5,417.2ZM701.6,423.5 701.9,424.2 709.7,425.9 709,421.8 708.1,420.9 708.1,415.2 707.5,414.8 701.5,415.2 702.4,422.4ZM654.7,426.1 654.5,426.9 654,428.8 653.7,430.1 652.9,431.7 652.5,432.5 658.8,432.7 659.5,430.9 657.4,425.5 657.1,425.3ZM784,387 784.8,392.3 784.2,392.8 786.6,399.4 786.8,399.6 792.2,394.9 791.8,392.4 799.4,390.2 799.7,389.6 798.4,388.1 797.3,385.8 795.9,383.9 795.8,384 791.5,384.5 790.9,385.4 784.9,385.8ZM786.1,418 784.2,417.1 778.1,420 779.3,421.5 780,421 783,420.1 785.8,418.4 786.1,418.3ZM742.4,430.3 746.4,433.1 747.8,432.9 749.7,430.4 748.2,425.8 745.7,424.5 742.3,426.5 741.9,427Z" fill="#7787F8" stroke="#7787F8"/>
<path d="M726.8,391.8 721.2,392.1 719.8,394 720.6,399.3 722.8,399.7 727.4,396.4ZM725.6,404.1 723.4,407.2 725.9,411.8 730.1,409.6 731,407.9 737.2,410 737.1,413.1 740.4,415.8 744.7,413.4 744.1,407.6 749.9,406.8 751.2,405.1 749.1,399.4 742.2,402.1 742,402.5 743.3,407.1 737.6,409.7 735.8,401.9 736,401.7 734.9,396.6 728.7,397.2 730.2,404.5ZM708,415.2 708,421 709,421.8 714.7,420.5 715.1,419.5 721.1,418.3 720.1,413.6 713.2,414.1ZM742,427 737.6,426.9 742.5,430.4ZM789.2,378.1 791.5,384.6 795.9,384 795.9,383.8 795.8,383.8 794.1,381.9 792.5,380 791,377.7ZM745.3,385.9 740.2,387.7 740,388.3 742.2,394.6 745.7,393.9 746.7,387.5ZM769,405.8 775.8,406.9 774.9,400 774.5,399.7 775,394.4 772.4,393.3 766.9,395.3 766.4,397.1 768.6,401.2 768.2,402.9ZM799.3,400.7 794.6,405.5 795.4,407 796.6,405.4 798.8,403.8 800.7,401.9 801,401.7ZM746.3,433.1 750.3,435.9 747.8,432.8Z" fill="#C8D0FC" stroke="#C8D0FC"/>
<path d="M752.7,386.6 752.6,382.2 745.4,383.5 745.3,386 746.7,387.5 751.8,388.1ZM765.6,389 764.8,391.5 759.5,391.8 758.7,397.3 761.2,398.6 761.2,404 768.2,402.9 768.6,401.2 766.5,397.1 766.9,395.3 772.4,393.4 775,394.5 778.3,393 778.1,387.5 777.9,387.3 772.6,386.6 771.4,388.4ZM756.8,411.8 751.7,412.2 750.7,413.6 752.6,418.3 757.6,416.6 757.4,412.2Z" fill="#F8BFC0" stroke="#F8BFC0"/>
<path d="M771.4,388.5 772.6,386.7 777.9,387.3 778.6,382.5 775.8,380.5 771.6,381.2 770.6,378.9 763,380.3 762.9,380.4 764.3,384.5 765.6,389ZM752.6,386.6 758,385.7 757.1,381.4 752.6,382.2ZM751.2,405.1 749.8,406.8 751.7,412.2 756.8,411.8 756.8,405.3 755.8,404.7 756.2,398.2 758.8,397.3 759.6,391.9 758.6,390.9 753.2,391.1 752.9,392.1 753.7,397.1 749,399.4ZM763.3,409.5 768.2,407.8 769.1,405.8 768.2,402.8 761.2,403.9 760.5,404.9Z" fill="#FDD6D6" stroke="#FDD6D6"/>
<path d="M789.2,375.5 788.8,375 786,373 783.8,370.8 782.2,368.9 781.2,366.6 780,364.5 779.3,361.2 778.1,358 777.9,355.3 777.3,352.7 776.9,350 776.6,349.1 775,347.5 772.5,346.2 769.9,346 767.5,345 765.5,344.2 763.4,343.7 761.2,343.7 759.4,342.1 758.1,340 758.5,337.8 759.5,335.9 760,333.7 758.7,331.7 756.9,330 754.6,329.8 752.2,329.5 750,328.7 747.8,327.2 746.2,325 744.5,326.2 742.7,327.4 741.7,329.4 739.5,330.1 738,331.5 736.9,333.5 735,334.5 732.4,335.5 730,337 728.7,338.9 728.3,341.1 726.6,342.8 726.1,345.1 725,347 723.5,348.5 721.9,349.9 720.4,351.4 718.8,352.8 717.5,354.5 716.9,356.7 715.9,358.7 715.3,360.9 714.4,362.9 713.3,364.9 712.5,367 710.9,368.8 708.8,370.1 706.7,371.2 705,373 703.4,374.2 701.5,374.9 699.9,376.2 697.8,376.5 696.3,378 694.4,378.9 692.5,379.5 690.6,378.8 688.5,378.6 686.5,377.9 684.5,377.4 682.5,377 681.2,378.7 679.5,380 678,381.5 676.8,383.3 675,384.5 673.6,385.9 671.8,387 670.7,388.7 669.3,390.2 667.6,391.4 666.5,393.1 665,394.5 692.5,393.8 740,384.5 789,375.5Z" fill="#929FFB" stroke="#929FFB"/>
<path d="M724.5,353.8 722.5,353.2 718.9,354.8 718.7,355.4 718.9,358.3 719.6,358.9 719.2,363.9 716.4,364.5 716.4,368.9 711.7,369 710.6,371.1 713.3,375 712.8,377.2 714.3,379.8 718.5,379.6 719.5,378.2 718.8,373.8 717.6,373.2 717,369.3 721.1,367.9 722.6,369.2 726.4,368.3 727,373.7 728.2,374.2 731.7,372.2 730.3,368 727,367.7 726,363.7 724.7,362.9 723.6,359.6 725.2,357.8ZM715,361.6 714.4,362.9 713.3,364.9 713.3,365 715.6,363.9ZM684.2,382.8 687.3,381.5 689.4,382.4 693.3,380.4 693.5,380.1 693.2,379.3 692.5,379.5 690.6,378.8 688.5,378.6 686.5,377.9 684.5,377.4 682.5,377 681.3,378.5ZM703.7,381.9 699.8,386 700.1,387.9 704.8,388.2 704.9,382.4ZM725.9,387.2 725.2,382.8 724.8,382.2 720.2,383 720,383.6 716.4,385.6 716.9,389 721.5,388.1 721.8,387.8ZM699.8,388.4 696.5,390.2 695.1,389.7 690.2,391.3 689.7,386.2 684.5,386.7 686.9,391.5 690.2,391.3 690.8,393.8 692.5,393.8 701.5,392ZM675.3,390.1 677,393.5 680.6,394.1 680.8,394.1 682.2,392.5 681.3,388.7ZM740.4,340 744.7,339.2 744.9,338.1 743.6,333.4 747.4,332.4 747.4,327 742.6,328.4 742,329.2 743.1,333.2 740,334.5 739.3,338.5ZM754.9,334 754.1,335.3 754.4,340.2 758.3,339.2 758.5,337.8 759.5,335.9 760,333.7 758.7,331.7 757.1,330.2 754.5,332.6ZM757.1,345 756.9,345.4 757.8,348.7 762.4,348.4 762.9,347.7 768,348 767.4,345 766.8,344.7 764.1,343.9 763.4,343.7 761.2,343.7 760.6,343.2ZM735.2,359.4 730.4,360.7 730.2,361.7 732.7,365.7 735.6,365.8 736.7,364.3 736,359.8ZM770.8,363.5 766.8,364.4 766.6,368.5 767.4,369.1 773.3,367.2ZM759.2,375.4 762.1,374.4 763.1,369.8 761.7,368.9 757.3,370.9 758.9,375.4Z" fill="#7787F8" stroke="#7787F8"/>
<path d="M734.5,335.3 735,338.6 739.3,338.5 740.1,334.5 743.2,333.2 742,329.2 742.7,328.4 742.6,327.7 741.7,329.4 739.5,330.1 738,331.5 736.9,333.5 735,334.5 734,334.9ZM746.8,341.8 744.7,339.1 740.4,339.9 739.8,343.4 742.7,344.8 746.6,342.3ZM732.7,355.4 734.2,356.4 738.6,353.6 739.5,357.9 741.6,358.9 743.2,358.6 744.6,353 738.6,353.5 737.4,351 737.9,349.4 736.7,345.3 732,345.8 731.6,346.1 731.3,350.3 727.7,351.8 730.1,356.3ZM723.5,359.6 724.6,363 726,363.7 730.2,361.7 730.5,360.7 729.2,358 725.1,357.8ZM743.3,374.1 747,373 748.5,374.1 753.2,371.8 753.6,370.7 756.3,370.2 757.3,370.9 761.8,369 759.6,365.2 757.4,365.5 756.6,365.1 755.8,360.2 755,359.6 754.2,357.5 749.6,357.5 749.4,363.1 750.7,363.9 751.7,365.5 751.3,367.6 747.4,369.9 745.5,367.7 745.8,364.1 741.1,363.9 741.7,368.6 741.6,368.7ZM734,377.1 734.6,376 732.4,372.4 737.1,369.3 735.6,365.8 732.7,365.6 730.2,368.1 731.7,372.2 728.1,374.2 728.8,377.3ZM731.3,386.2 732,386.1 735.4,384.3 735,381.7 734.3,381 730.4,381.1 729.4,382.5 730.5,386.3ZM763.1,352.6 762.4,348.3 757.8,348.7 757,350.2 753.6,350.5 751.4,347.1 748.9,347.9 748.5,353.5 752.6,352.3 754.9,356.4 758.9,354.3ZM769.9,356.9 771.9,362 776.3,361.5 776.4,361.3 778.9,360.1 778.1,358 777.9,355.8 776.2,355.6 775.1,357.2ZM773.3,367.2 767.5,369.1 766.7,368.4 763,369.8 762.1,374.4 763.5,375.2 765.4,379.2 765,379.9 769.7,379 768,373.6 768.8,371.9 773.6,372.8 778.8,371.6 777.7,365.9 774,367.5ZM785.3,374.3 784.2,375.6 780.1,376.2 779.5,376.9 779.5,377.2 789,375.5 789.2,375.5 789.1,375.4 787.8,374.3 787.4,374Z" fill="#ADB8FC" stroke="#ADB8FC"/>
<path d="M737.9,349.5 743.7,348.6 742.7,344.7 739.9,343.3 736.6,345.3ZM748.4,353.7 748.6,353.5 748.9,347.9 747.6,347.4 743.8,348.6 744.5,353.1ZM756.5,365.1 757.3,365.5 759.6,365.2 761.6,362.8 760.8,360 761.1,358.9 758.8,354.4 754.9,356.4 754.2,357.5 754.9,359.7 755.7,360.3ZM744.1,358.9 746.4,363.5 749.4,363.1 749.6,357.5 749.4,357.3ZM742.9,374.4 743.3,374 741.6,368.7 737.1,369.4 738.7,374.4ZM753.2,371.7 748.4,374 749.3,376.2 755.1,376.4Z" fill="#C8D0FC" stroke="#C8D0FC"/>
<path d="M700,323 700,324.9 699.5,326.7 698.9,328.5 697.3,330 697.5,332 696.3,333.5 694.9,334.6 693.5,335.7 691.4,335.8 690,337 688,337.3 686.6,338.4 685,339.3 684.2,341.3 682.5,342 681.1,343.9 679.6,345.8 677.5,347 676.8,348.8 677.4,350.9 676.4,352.6 676,354.5 674.8,356.1 673.9,358 672.5,359.5 673.4,361.4 673.2,363.6 673.6,365.6 674.6,367.5 675,369.5 676.7,370.8 678.2,372.3 679.8,373.7 681.2,375.3 682.5,377 684.5,377.4 686.5,377.9 688.5,378.6 690.6,378.8 692.5,379.5 694.4,378.9 696.3,378 697.8,376.5 699.9,376.2 701.5,374.9 703.4,374.2 705,373 706.7,371.2 708.8,370.1 710.9,368.8 712.5,367 713.3,364.9 714.4,362.9 715.3,360.9 715.9,358.7 716.9,356.7 717.5,354.5 718.8,352.8 720.4,351.4 721.9,349.9 723.5,348.5 725,347 726.1,345.1 726.6,342.8 728.3,341.1 728.7,338.9 730,337 732.4,335.5 735,334.5 736.9,333.5 738,331.5 739.5,330.1 741.7,329.4 742.7,327.4 744.5,326.2 746.2,325 744.1,323.7 742.3,321.9 740,320.8 738.1,321.6 736.1,322 733.9,321.7 732,322.4 730,323 728.1,324.2 726,325.2 724.4,326.9 722.4,328 720.7,329.5 718.8,330.8 718.8,328.8 718,326.8 718.1,324.8 717.3,322.9 717.5,320.8Z" fill="#1F3BF0" stroke="#1F3BF0"/>
<path d="M718.8,343.3 712.7,345 712.1,346.7 714.8,351.7 713.4,354.5 715.7,359.5 715.9,358.7 716.9,356.7 717.5,354.5 718.8,352.8 719.7,352 719.1,351.7 720.2,344.2ZM683.7,349.1 683,350.3 685.8,357.6 691.1,355.4 692.1,351.2 690.2,349.2ZM706.4,354.7 699.9,353.2 699,355.9 693.8,357.9 694,362 691.9,363.9 694.2,370.2 701.5,367.8 701.3,363.4 701.7,362.7 706.8,360.2 707.5,356.2ZM683.4,370.7 681.8,374.2 680.2,374.1 681.2,375.3 682.5,377 684.5,377.4 686.5,377.9 688.4,378.5 687.5,377.5 689.8,372.1 686.9,370.1ZM736.1,322.7 735.8,326.1 730,328.2 729.6,329.3 730.8,335.3 724.6,336.8 725.5,343.6 724.2,344.7 724.7,347.3 724.8,347.2 725.7,345.8 726.1,345.1 726.6,342.8 728.3,341.1 728.7,338.9 730,337 732.4,335.5 735,334.5 736.9,333.5 737.2,333 738.3,328.2 742.3,328.2 742.7,327.4 744.5,326.2 746.2,325 744.1,323.7 742.3,321.9 740,320.8 738.1,321.6 736.7,321.9Z" fill="#3F55F3" stroke="#3F55F3"/>
<path d="M713.7,324.6 715,330.4 717.9,331.5 716.9,337.3 719.1,339.2 723.8,336.5 724.6,336.9 730.9,335.3 729.7,329.3 730,328.3 735.9,326.1 736.1,322.7 736.8,321.9 736.1,322 733.9,321.7 732,322.4 730,323 728.1,324.2 726,325.2 724.4,326.9 722.4,328 720.7,329.5 718.8,330.8 718.8,328.8 718,326.8 718.1,324.8 717.7,323.8ZM738.2,328.2 737.1,333.2 738,331.5 739.5,330.1 741.7,329.4 742.3,328.2Z" fill="#5C6FF6" stroke="#5C6FF6"/>
<path d="M703.5,271.3 702,272.6 699.6,273.6 697.9,275.3 695.6,276.4 693.8,278 700,323 717.5,320.8 750,313.5 776.9,307.5 780,308.7 782.5,306.2 786.2,301.2 790,296.9 786.2,293.1 781.9,290 780,285 781.2,280 783.7,273.1 781,268.8 777,261 705,275.5Z" fill="#5C6FF6" stroke="#5C6FF6"/>
<path d="M725,274.5 725.5,273.3 724.8,271.5 709.8,274.5 709.9,277.1 719.2,278.2ZM714.5,292.6 713.8,293.6 707.6,295 706.5,296.3 700.8,296.6 697.9,290.2 695.3,289.2 700,323 717.5,320.8 726.4,318.8 723.6,315.8 725.6,313.1 725.6,308.2 723.9,306.8 716.1,307.6 715.2,302.2 716.3,300.2 723.1,299.6 723.4,299.8 729.1,298.5 729.2,291 730.2,290.2 730.2,283.1 721.3,284 722,291 721.7,291.4ZM758.7,267.8 758.1,268.5 749.2,267.2 748.3,270.5 750.3,276.4 748.8,278.9 752.3,284.7 751.4,287.5 754.6,293.8 748.5,295.4 746.7,301.9 742.1,302.8 741.6,303.8 742.2,310.6 744.2,312.3 751.1,310.7 749.7,303.2 755.5,300.2 756.9,301.5 758.7,307.2 760.1,307.9 763.6,307.3 764.5,306.5 765.9,300.9 771.3,298.7 768,292.6 762.4,292.7 760.5,291.6 761.6,284.4 769.8,284.8 771.7,281.4 767.2,275.3 767.8,273.7 774.1,272 776.5,279.9 776.2,280.2 779.8,288.4 781,287.7 780,285 781.2,280 783.7,273.1 781,268.8 778.7,264.3 774.6,265.6 773.3,264.8 772.7,261.9 757.8,264.9ZM780.4,308.3 782.5,306.2 786.2,301.2 788.1,299 785.6,295.3 780,295.1 779.2,294.6 771.6,298.8 774,306 778.6,305.8Z" fill="#7787F8" stroke="#7787F8"/>
<path d="M751.4,287.5 744.3,288.2 744,288 738.5,289.9 736.9,292 737.9,296.4 739.8,297.7 742.1,302.9 746.8,301.9 748.6,295.5 754.5,293.9 754.6,293.8Z" fill="#3F55F3" stroke="#3F55F3"/>
<path d="M786,193.8 765,200 763.4,201.9 762,204 760.5,206 758.9,208 757.5,210 756,212 754.4,213.9 753.1,216.1 751.2,217.8 750,220 749.2,222.5 748.2,224.9 747.5,227.5 747.5,230.1 748.8,232.4 748.8,235 746.5,236.4 744.4,237.9 742.2,239.6 740,241 737.5,241.8 735,242 732.6,243.1 729.9,242.9 727.5,243.8 725,244.4 722.5,244.9 720.1,245.8 717.5,246 715.2,247.2 713.1,248.5 711,250 711.6,252.5 712.3,254.9 712.5,257.5 703.8,271 703.5,271.3 705,275.5 777,261 781,268.8 783.7,273.1 797,281 797.5,286.5 797.5,287 800,285.4 803,284.1 806.2,283 808.2,281.5 810.4,280.5 812.5,279.2 814.8,277.2 817.7,276.2 820,274.2 822.5,272.4 825.3,271 826.7,268.6 828.7,266.6 825.7,268.2 822.5,269 819.9,269.8 817.6,271.2 815,272.1 812.6,273.5 810.1,274.8 807.5,275.9 805.6,277.4 803.1,278.1 801.2,279.6 800,278.8 801.9,275.8 802.5,270 799.4,253 798.1,238.7 797.5,232.5 792.5,222.5 788.8,210Z" fill="#5C6FF6" stroke="#5C6FF6"/>
<path d="M757.1,221.6 750.5,222.7 750.1,223.6 753.7,231.4 752.1,234.2 748.8,233.1 748.8,235 747.8,235.6 745.6,237.1 745,237.5 747.2,239.7 745.7,243.7 738,242.9 740.8,250.9 739.9,253.3 742,256.2 740.1,260.7 743.2,265.4 748.7,263.8 748.6,258 757.6,256.7 758.6,260 758.3,260.8 759.5,264.5 776.4,261.1 776.2,260 781.4,256.9 779.3,250.4 783.2,247.3 780.3,241.2 778.9,240.8 773.4,243.9 773.7,249.8 767,250.5 765.6,252.8 758.2,254.8 754.9,247.7 753,238.4 761.5,237.7 758,230.9 760.1,228.3 766.5,230 767.6,228.3 774.6,225.7 774,219.4 767,219.4 763.4,213 758.6,215.8ZM712.6,249.8 714,248 713.5,248.2 712.2,249.1 711,250 711.1,250.3ZM709.9,265.8 712.4,267.7 712.2,273.2 713,273.9 721.6,272.2 722.1,271.2 716.6,265.7 717.6,264.2 716.7,258.9 711.9,258.4 709.4,262.4ZM736.2,268.2 735.2,261.8 733.2,260.8 726.9,264.3 727.4,268.5 729.1,269.9 733.7,269.7 735.6,269.3ZM777,199.7 783,198.9 785.3,200 786.9,199.1 786,193.8 775.6,196.9ZM791.4,221.7 792.3,221.7 789.8,213.5 788.8,215.6ZM790.7,222.8 785.4,225.9 785.3,232.1 792.2,232.7 793.7,230.9ZM796.6,239.5 796.7,244.7 788.6,247.5 788.2,247.8 789.6,252.8 790,253.2 799.1,253.9 799.5,253.5 799.4,253 799.2,250.5 797.7,245.5 798.7,245.3 798.1,238.7 798.1,238.5ZM787.6,271.9 785.5,266 779.9,266.6 781,268.8 783.7,273.1 784,273.3Z" fill="#7787F8" stroke="#7787F8"/>
<path d="M767.2,235.7 761.8,237.7 761.5,237.6 752.9,238.3 754.9,247.8 758.1,254.9 765.6,252.9 767,250.5 773.8,249.9 773.4,243.9 770,241.1 768.9,236.6ZM789.6,252.8 788.3,247.8 783.1,247.2 779.2,250.3 781.3,256.9 782.6,257.3Z" fill="#3F55F3" stroke="#3F55F3"/>
<path d="M780,309.5 781.2,312.5 783,314.2 785,315.6 787.5,316.4 790,316.9 792.5,319.4 795,321.2 796.1,318.6 797.5,316.2 798.4,313.6 799.3,311.1 800.6,308.7 800.9,306.1 801.9,303.7 802.5,301.2 802.5,298.7 802.2,296.1 801.5,293.7 801.2,291.2 799.4,289.1 797.5,287 797.5,286.5 797,281 783.7,273.1 781.2,280 780,285 781.9,290 786.2,293.1 790,296.9 786.2,301.2 782.5,306.2 780,308.7Z" fill="#F8BFC0" stroke="#F8BFC0"/>
<path d="M784.5,290.7 787.7,294.6 787.9,294.8 792.2,291.1 792.2,290.3 786.7,287.7ZM789.3,316.7 790,316.9 792.5,319.4 795,321.2 796.1,318.6 797.5,316.2 798.4,313.6 799.3,311.1 800.6,308.7 800.9,306.1 801.4,304.8 800.7,304.6 797.4,306.2 795.5,304.9 793.9,299.7 789.8,299.6 789.1,298 786.2,301.2 782.5,306.2 780,308.7 780,309.5 781.2,312.5 783,314.2 785,315.6 785.7,315.8ZM800.4,291.1 799.6,292.7 800,297.6 802.4,297.7 802.2,296.1 801.5,293.7 801.2,291.2 800.9,290.9Z" fill="#F2A5A8" stroke="#F2A5A8"/>
<path d="M784.6,290.7 786.8,287.7 786.4,284.6 784.3,284.1 782.3,277.7 782.8,276.9 782.7,275.9 781.2,280 780,285 781.9,290 786.2,293.1 787.3,294.2ZM799.2,288.9 797.5,287 797.5,286.5 797.5,286.5 797.4,285.4 796.8,286.4 800.5,291.2 801,291 799.6,289.3ZM793.4,292 792.1,291 787.9,294.8 790,296.9 789,298 789.8,299.6 793.9,299.8 795.2,298.7 800.1,297.6 799.7,292.7Z" fill="#FDD6D6" stroke="#FDD6D6"/>
<path d="M782.8,276.9 782.2,277.7 784.3,284.1 786.4,284.6 789.9,282.2 790.2,281.3 788.7,278.4 789.5,276.5 783.7,273.1 782.6,276Z" fill="#C8D0FC" stroke="#C8D0FC"/>
<path d="M795.2,298.6 793.8,299.7 795.5,305 797.4,306.3 800.7,304.7 801.4,304.9 801.9,303.7 802.5,301.2 802.5,300.2 802.4,298.1 802.4,297.6 800,297.6Z" fill="#ADB8FC" stroke="#ADB8FC"/>
<path d="M793.9,332.4 793.3,330.6 792.5,327.5 790,323.7 787.9,322.1 786.2,320 784.3,318.2 782.5,316.2 781.1,312.9 780,309.5 780,308.7 776.9,307.5 785,335 793.7,332.5Z" fill="#5C6FF6" stroke="#5C6FF6"/>
<path d="M787.9,323.5 788.1,322.3 787.9,322.1 786.2,320 784.3,318.2 782.5,316.2 781.1,312.9 780,309.5 780,308.7 776.9,307.5 782.1,325.2Z" fill="#3F55F3" stroke="#3F55F3"/>
<path d="M792.3,343.7 792.6,343.1 793.7,340 794.2,336.9 794.4,333.7 793.9,332.4 793.7,332.5 785,335 776.9,307.5 750,313.5 717.5,320.8 717.3,322.9 718.1,324.8 718,326.8 718.8,328.8 718.8,330.8 720.7,329.5 722.4,328 724.4,326.9 726,325.2 728.1,324.2 730,323 732,322.4 733.9,321.7 736.1,322 738.1,321.6 740,320.8 742.3,321.9 744.1,323.7 746.2,325 747.8,327.2 750,328.7 752.2,329.5 754.6,329.8 756.9,330 758.7,331.7 760,333.7 759.5,335.9 758.5,337.8 758.1,340 759.4,342.1 761.2,343.7 763.4,343.7 765.5,344.2 767.5,345 769.9,346 772.5,346.2 775,347.5 776.6,349.1 775.9,346.9 775,343.7 774,341.1 772.5,338.7 771.4,335.6 770,332.5 769.7,329.3 768.7,326.2 768.2,323.1 767.5,320 768.4,317.3 770,315 772.5,313.7 773.1,317.5 772.9,320.4 773.8,323.3 773.7,326.2 774.6,329.1 775.1,332.1 775.6,335 776.9,338.2 778.7,341.2 779.9,343.3 781.3,345.3 782,346.6Z" fill="#5C6FF6" stroke="#5C6FF6"/>
<path d="M768.9,316.7 770,315 772.5,313.7 773,317.1 775.3,316.5 775.8,315.3 779,314.6 776.9,307.5 773.2,308.3 773.1,309.4 769.1,310.6 768.6,311.1 764.3,310.3 755.8,312.2 756.2,313.9 761.2,312.4 762.6,316.9 768.6,316.3ZM722.9,325.8 726.9,323.7 728,324.3 728.1,324.2 730,323 732,322.4 732.9,322 731.1,317.8 720,320.2 720.9,325ZM772.4,339.8 773.2,339.8 772.6,338.9ZM775.8,335.4 776.9,338.2 778.1,340.2 779.1,340.2 779.6,339.6 778,334.2 777.7,334 775.6,334.8 775.6,335ZM787.1,344.6 787.1,345.2 792.3,343.7 792.6,343.1 792.8,342.4 791.6,342.3 790.8,338.2 784.7,337.5 783,339.6 786.1,344.1Z" fill="#3F55F3" stroke="#3F55F3"/>
<path d="M768.6,316.3 762.6,316.8 761.4,318.7 763.9,323.1 768,322 767.5,320 768.4,317.3 768.9,316.6ZM757.6,325.4 757.1,319.5 755.8,318.7 751.3,319.5 753.4,326.7ZM752.3,329.5 752.4,329.5 752.2,328.1 747.4,326.7 747.8,327.2 750,328.7 751.5,329.2ZM758.8,330 757.6,330.7 758.7,331.7 760,333.7 760.8,331.1 765.3,330.1 763.1,325.1 757.7,325.5Z" fill="#ADB8FC" stroke="#ADB8FC"/>
<path d="M768.6,311.1 769.2,310.6 773.2,309.5 773.3,308.3 764.2,310.3ZM757.5,325.4 753.4,326.6 752.1,328.1 752.4,329.5 754.1,329.7 755.1,329.8 756.9,330 757.6,330.7 758.8,330.1 757.8,325.6 763.1,325.2 763.9,323.1 761.4,318.7 762.6,316.8 761.2,312.3 756.2,313.8 756,314.1 755.7,318.7 757.1,319.5ZM761.3,336.9 762.2,342.5 760.3,342.9 761.2,343.7 762.8,343.7 762.3,342.5 768.1,340.1 766.9,335.8 765.9,334.7ZM784.7,337.6 790.8,338.3 791.6,342.4 792.8,342.5 793.7,340 794.2,336.9 794.4,333.7 793.9,332.4 793.7,332.5 785,335 784.4,332.9ZM771.7,340.3 769,340.6 768.9,345.6 769.9,346 772.5,346.2 773.8,346.9 774.8,345.2Z" fill="#7787F8" stroke="#7787F8"/>
<path d="M765.3,330 769.5,328.6 768.7,326.2 768.5,324.7 768.1,322.5 767.9,321.9 763.9,323 763.1,325.2Z" fill="#929FFB" stroke="#929FFB"/>
<path d="M777.5,326.1 775.3,329.4 774.6,329.4 775.1,332.1 775.6,334.9 777.7,334.1 778,334.2 779.5,339.6 779,340.2 778.8,341.4 779.4,342.4 780.2,343.7 781.3,345.3 782,346.6 787.1,345.1 787.2,344.5 786.1,344.1 783.1,339.6 784.8,337.6 784.5,333.2 783.1,328.6Z" fill="#1F3BF0" stroke="#1F3BF0"/>
<path d="M782,346.6 782.5,347.5 783.5,349.9 783.7,352.5 784.2,355.3 785,358 787,359.5 787.5,357.2 787.8,354.8 788.7,352.5 789.8,349.3 791.2,346.2 792.3,343.7Z" fill="#929FFB" stroke="#929FFB"/>
<path d="M810,187.5 786,193.8 788.8,210 792.5,222.5 797.5,232.5 798.1,238.7 810,235 807.5,220 806.9,215 807.5,205Z" fill="#5C6FF6" stroke="#5C6FF6"/>
<path d="M809.9,188.4 810,187.5 809.7,187.6ZM794.3,211.1 794.6,211.1 798.7,208.2 798.1,202.7 797.7,202.4 793.8,201.9 790,196.8 786.9,199.2 788.8,210 789.6,212.6ZM800.5,237.5 807.5,235 807.7,234.4 807.1,230.4 807.7,228.9 803.8,224 799,224.4 797.5,231.1 798.6,231.9Z" fill="#7787F8" stroke="#7787F8"/>
<path d="M813.8,180.5 812.5,181 811,184.2 810,187.5 807.5,205 806.9,215 807.5,220 810,235 825,231.2 832.5,227.5 835,226.2 836.2,222.5 835.6,220.6 833.7,220 831,217 826,210 820,192.5Z" fill="#F2A5A8" stroke="#F2A5A8"/>
<path d="M813,222.4 809.5,222.5 808.4,225.2 810,235 811.3,234.7 810.8,234.3 810.6,231.2 814.7,228.6Z" fill="#C8D0FC" stroke="#C8D0FC"/>
<path d="M809.7,205.2 810.1,205.4 816.1,204.2 816.2,204 822.4,201.9 823.7,203.4 820,192.5 816.1,184.9 812.5,185.7 810.9,184.3 810,187.5 807.9,202.1Z" fill="#F8BFC0" stroke="#F8BFC0"/>
<path d="M825.1,211.2 824.5,210.8 820.5,211.3 817.6,219.8 818.8,220.5 827.5,217.1 829.2,223.6 830.7,224.3 835.8,222.2 835.8,221.4 835.6,220.6 833.7,220 831,217 826.5,210.7Z" fill="#EE8B8E" stroke="#EE8B8E"/>
<path d="M835.6,220.6 835,218.7 833.7,215 835,213 837,211 839,209 841.2,207 842.8,204.4 845,202.5 847,200.8 848.5,198.5 850.5,196.8 852.5,195 855.2,193.7 857.5,191.7 860,190 862,187.7 863.6,185.2 865,182.5 867.1,180.5 869.4,178.7 871.9,177.2 873.8,175 874.2,172.4 875,169.9 876,167.5 874.4,165.6 873.1,163.5 871.9,161.3 870.1,159.6 868.8,157.5 866,156.3 862.9,155.9 860,155 855,137.5 853.5,135 852.3,132.3 850.9,129.8 850,127 847.5,126.3 845,125.9 842.5,125.5 840.9,127.4 839,129.1 837.5,131 835.1,130.2 832.5,130 830,129.2 827.5,128.8 823.8,142.5 822.5,157.5 822.3,160.1 821,162.4 820.8,165 820,167.5 819.7,170.3 819.5,173.2 818.8,176 816.3,178.2 813.8,180.5 820,192.5 826,210 831,217 833.7,220Z" fill="#929FFB" stroke="#929FFB"/>
<path d="M837,131.9 827.6,138.4 830.7,146.1 833,146.9 835.6,156.5 843.9,155.8 845.1,153.8 853.9,151.9 855,149.3 851.3,141.7 851,141.6 848.7,130.4 851.2,130.4 850.9,129.8 850,127 847.5,126.3 845,125.9 842.5,125.5 840.9,127.4 839,129.1 837.5,131 836.3,130.6ZM841.6,181.4 842.8,189.8 847,192.1 855.9,188.9 856.8,192.3 857.5,191.7 860,190 862,187.7 863.2,185.8 862.5,185.5 856.7,187.6 849.6,177.5 849.1,177.3 843.9,178.6ZM822.9,194.7 821.6,190.5 817.6,187.9 820,192.5 821.9,198Z" fill="#ADB8FC" stroke="#ADB8FC"/>
<path d="M821.5,190.5 822.8,194.7 835.2,197.8 836.8,204.9 837.9,205.6 839.1,208.9 841.2,207 842.8,204.4 845,202.5 847,200.8 848.1,199.2 847,192.1 842.8,189.7 836.8,193.9 829.6,185.7Z" fill="#7787F8" stroke="#7787F8"/>
<path d="M834.4,256.8 835,256.2 837.4,254.8 840,253.7 842.3,252.1 845,251.2 847.5,249.3 850,247.5 852.7,246.6 855,245 855.6,241.9 853,238.2 848.3,237.8 848.1,238.9 852.5,239.6 854,242 852.5,244.4 850.2,246 847.5,246.9 843.7,246.2 841.9,244.6 840,243.1 838.7,241 836.9,239.4 835,236.9 836.6,235 838.7,233.7 837.5,230 835,226.2 832.5,227.5 825,231.2 810,235 798.1,238.7 799.4,253 825.6,246.9 831.2,245.6 833.7,251.2Z" fill="#5C6FF6" stroke="#5C6FF6"/>
<path d="M808.6,235.4 807.9,235.6 807.1,237.7 802.6,238.7 801.9,243.6 804.5,245.8 808.9,244.3 812.9,248.5 816.6,247.3 817.5,245.6 816.3,240.7 821.8,236.5 820.7,232.3 817.3,233.1Z" fill="#7787F8" stroke="#7787F8"/>
<path d="M801.9,275.8 805,273.9 807.5,271.4 810.7,269.9 813.7,268.2 816.5,266.7 819.4,265.4 822.5,264.5 825.5,262.7 828.7,261.5 828.9,261.4 828.7,260.6 825.6,246.9 799.4,253 802.5,270Z" fill="#7787F8" stroke="#7787F8"/>
<path d="M819.6,263.4 819.4,263.7 813,264.9 810.3,258.4 805.1,258.8 803.5,261.8 804.7,267.4 805.3,267.8 804.7,273.1 805.3,273.6 807.5,271.4 810.7,269.9 813.7,268.2 816.5,266.7 819.4,265.4 822.5,264.5 825.5,262.7 826.1,262.5 824.5,254.8 822.4,253.4 817.7,256.8Z" fill="#929FFB" stroke="#929FFB"/>
<path d="M819.4,263.7 819.7,263.4 817.8,256.8 815.1,255.9 811.1,257.1 810.2,258.4 812.9,264.9Z" fill="#ADB8FC" stroke="#ADB8FC"/>
<path d="M828.9,261.4 832.5,258.7 834.4,256.8 833.7,251.2 831.2,245.6 825.6,246.9 828.7,260.6Z" fill="#5C6FF6" stroke="#5C6FF6"/>
<path d="M155,411 170,416 178,429 191,426 191,400 199,396 201,380 154,371Z" fill="#7787F8" stroke="#7787F8"/>
<path d="M208,442 206,468 213.6,469.4 218.2,443.8Z" fill="#7787F8" stroke="#7787F8"/>
<path d="M252,410 268,416 290,418 292,390 252,383Z" fill="#3F55F3" stroke="#3F55F3"/>
<path d="M222,430 254,433 256,420 223.1,416.1 222,422.5Z" fill="#3F55F3" stroke="#3F55F3"/>
<path d="M265,444 287,446 288,430 265,427Z" fill="#3F55F3" stroke="#3F55F3"/>
<path d="M290,410 310,412 312,395 292,392Z" fill="#3F55F3" stroke="#3F55F3"/>
<path d="M304,423 321,426 322,408 305,405Z" fill="#1F3BF0" stroke="#1F3BF0"/>
<path d="M286,450 308,453 309,429 286,426Z" fill="#1F3BF0" stroke="#1F3BF0"/>
<path d="M242,489 262,491 262,472 242,470Z" fill="#7787F8" stroke="#7787F8"/>
<path d="M306,480 321,482 322,460 307,458Z" fill="#7787F8" stroke="#7787F8"/>
<path d="M255,468 284,470 285,448 255,445Z" fill="#7787F8" stroke="#7787F8"/>
<path d="M283,521 285,494.1 254.4,490.6 262.5,503.7 272.5,516.2 274.4,517.8 275.9,519.8 278,521.2 278.3,521.6Z" fill="#929FFB" stroke="#929FFB"/>
<path d="M283,521 290,527 300,531 308,524 303,508 301,496 298.6,495.7 285,494.1Z" fill="#ADB8FC" stroke="#ADB8FC"/>
<path d="M329,546 308,524 300,531 290,527 278.7,522.3 279.4,523.3 281.2,525 281.5,527.6 282.4,530 283.3,532.5 283.7,535 285,537.4 285.7,540 286.3,542.6 287.5,545 289.4,546.6 290.8,548.6 292.6,550.4 294.3,552.1 296.2,553.7 308.7,563.1 310.8,561.8 312.2,559.6 314.1,558.1 316.3,556.8 318,555 320.1,553.5 322.1,551.8 324,550 325.5,547.9 327.5,546.2 328.6,546.4Z" fill="#7787F8" stroke="#7787F8"/>
<path d="M301,496 303,508 308,524 316,520 322,512 312,506 310,497 306.4,496.6Z" fill="#F8BFC0" stroke="#F8BFC0"/>
<path d="M308,524 329,546 340,535 338,520 322,512 316,520Z" fill="#FDD6D6" stroke="#FDD6D6"/>
<path d="M329,546 343,548 340,530 326,532Z" fill="#F2A5A8" stroke="#F2A5A8"/>
<path d="M546.5,422 546.5,433 552.2,433 552.6,431.9 553.7,430 554.8,427.9 555.1,425.5 556.1,423.4 556.6,422Z" fill="#F8BFC0" stroke="#F8BFC0"/>
<path d="M20,318 25,324.5 30.5,323 31,316 24,311 17.1,308.2 17.3,310.4Z" fill="#F8BFC0" stroke="#F8BFC0"/>
<path d="M19,311 19,305 16.7,303.8 17.3,310.4Z" fill="#FDD6D6" stroke="#FDD6D6"/>
<path d="M27,281 37,282 37,270 26,269Z" fill="#FDD6D6" stroke="#FDD6D6"/>
<path d="M26,269 37,270 37,262 25,261Z" fill="#C8D0FC" stroke="#C8D0FC"/>
<path d="M75,330 74,345 80,368 100,372 100,347.3 97.7,343.6Z" fill="#7787F8" stroke="#7787F8"/>
<path d="M858,150 855.6,139.6 855,137.5 853.5,135 852.3,132.3 850.9,129.8 850,127 847.5,126.3 845,125.9 842.5,125.5 840.9,127.4 839,129.1 837.5,131 835.1,130.2 832.5,130 830,129.2 827.5,128.8 823.8,142.5 823.3,148.7 834,146 845,147 852,160 863,160 860.6,155.2 860,155 859.3,152.7Z" fill="#C8D0FC" stroke="#C8D0FC"/>
<path d="M820,186 838,186 842,170 834,146 823.2,149.3 822.5,157.5 822.3,160.1 821,162.4 820.8,165 820,167.5 819.7,170.3 819.5,173.2 818.8,176 816.3,178.2 815,179.4Z" fill="#7787F8" stroke="#7787F8"/>
<path d="M858,160 857,178 866,181 874.2,172.8 874.2,172.4 875,169.9 876,167.5 874.4,165.6 873.1,163.5 871.9,161.3 870.1,159.6 869.4,158.4Z" fill="#7787F8" stroke="#7787F8"/>
<path d="M184,480.5 170,480.5 170,488.8 184,491.4Z" fill="#F8BFC0" stroke="#F8BFC0"/>
<path d="M128,459 138,463 140,436 124,432 116,442.5 114.4,444.6 113.6,445.5 111,448.8Z" fill="#FDD6D6" stroke="#FDD6D6"/>
<path d="M357,290 357,296.5 367,296.5 367,290Z" fill="#F8BFC0" stroke="#F8BFC0"/>
<path d="M402,292.5 402,300 409,300 409,292.5Z" fill="#FDD6D6" stroke="#FDD6D6"/>
<path d="M99,185 106,187 108,173 98,171Z" fill="#D98FD0" stroke="#D98FD0"/>
<path d="M321,319 321,329 331,329 331,319Z" fill="#FDD6D6" stroke="#FDD6D6"/>
<path d="M211.9,272.7 211.7,271.5 211.3,270.4 210.8,269.4 210.2,268.6 209.5,268 208.8,267.6 208,267.5 207.2,267.6 206.5,268 205.8,268.6 205.2,269.4 204.7,270.4 204.3,271.5 204.1,272.7 204,274 204.1,275.3 204.3,276.5 204.7,277.6 205.2,278.6 205.8,279.4 206.5,280 207.2,280.4 208,280.5 208.8,280.4 209.5,280 210.2,279.4 210.8,278.6 211.3,277.6 211.7,276.5 211.9,275.3 212,274Z" fill="#E76F73" stroke="#E76F73"/>
<path d="M196,311 205,312.5 210,304 207,294 194,296Z" fill="#E76F73" stroke="#E76F73"/>
<path d="M181,336 181,344 190,344 190,336Z" fill="#5C6FF6" stroke="#5C6FF6"/>
<path d="M235,250 240,243 268,243 268,214.9 250,211.7 232.5,208.5 230,218 228.1,225 222.8,250Z" fill="#ADB8FC" stroke="#ADB8FC"/>
<path d="M268,243 243,243 250,255 300,262 300,250 316,252 320,224 302,220.5 295,219.7 268,214.9Z" fill="#929FFB" stroke="#929FFB"/>
<path d="M268,234 287,236 284,219 266,215Z" fill="#C8D0FC" stroke="#C8D0FC"/>
<path d="M318,242 333,242 335.1,224.5 318,222.5Z" fill="#ADB8FC" stroke="#ADB8FC"/>
<path d="M232,268 252,270 250,246 235,244Z" fill="#929FFB" stroke="#929FFB"/>
<path d="M231,277 233,244 224.3,243.2 219,268.1 217.9,275.2Z" fill="#C8D0FC" stroke="#C8D0FC"/>
<path d="M232,278 217.7,276.4 215.6,289.7 230.1,293.2Z" fill="#ADB8FC" stroke="#ADB8FC"/>
<path d="M272,300 273,275 233,268 232,293.6 245.6,296.9 268.7,300Z" fill="#5C6FF6" stroke="#5C6FF6"/>
<path d="M318,254 316,300 325.7,301.2 329.9,267 331.3,255.5Z" fill="#929FFB" stroke="#929FFB"/>
<path d="M306,185 306,206 328,206 328,185Z" fill="#3F55F3" stroke="#3F55F3"/>
<path d="M303,206 303,220 313.6,221.9 335.1,224.5 336.9,210Z" fill="#7787F8" stroke="#7787F8"/>
<path d="M406,610 406,623 415,623 415,610Z" fill="#E76F73" stroke="#E76F73"/>
<path d="M116,429 90,425 92,439 116,442.5Z" fill="#F2A5A8" stroke="#F2A5A8"/>
<path d="M66,415 71,413 69,405 62,404Z" fill="#F2A5A8" stroke="#F2A5A8"/>
</g>
<g fill="none" stroke="#12142c" stroke-width="1.2" stroke-linejoin="round" clip-path="url(#us)">
<path d="M57,129 60,129.4 66.9,131.2 71.2,135 73.1,141.2 74.4,147.5 80,150 92.5,152.5 97.5,155 112.5,156.2 125,158 153.8,165"/>
<path d="M171.5,100 170,106.5 165,123.7 155,158 153.8,165"/>
<path d="M153.8,165 158,177 150,190 143.8,195 140.5,200 142.5,207.5 136.2,225 129.4,245.6"/>
<path d="M18,208.3 22.5,210 85,233 110,240 129.4,245.6 173.5,259.3 219,268.1"/>
<path d="M85,233 65,290.8 129.4,394.8"/>
<path d="M148.8,360.8 146,373 142.5,377 136,375.8 131,382 129.4,394.8 127.5,405 131,415 123.8,422.5 118.8,432.5 116,442.5 115,446"/>
<path d="M173.5,259.3 160,313 148.8,360.8"/>
<path d="M148.8,360.8 230,378 250,382 331,394 348.8,394.8 472.5,402.3"/>
<path d="M182,106 181,111 178.8,132.5 183.8,142.5 191,160 193.8,165 190,172.5 186,180 187.5,185 193.8,185 195.6,190 196.9,197.5 199.4,203.7 201.9,208.7 203.1,213.1 211.2,213.1 220,214.4 225,212.5 228.1,213.7 230,218"/>
<path d="M232.5,208.5 230,218 228.1,225 219,268.1"/>
<path d="M219,268.1 215.6,289.7"/>
<path d="M215.6,289.7 245.6,296.9 315,306.2 325,307 355,311.5"/>
<path d="M245.6,296.9 237.5,343 230,378"/>
<path d="M232.5,208.5 250,211.7 295,219.7 335.1,224.5"/>
<path d="M345.3,140 345,143.3 337.3,206.3 335.1,224.5 329.9,267 325,307"/>
<path d="M337.3,206.3 390,211 442.5,213.8"/>
<path d="M438.8,148 438.8,150.5 440,170 443.8,190 445,205 442.5,213.8 441,220 443.8,225 447.5,237 446,264.5 443.8,269.5 445,277 443.8,284.5"/>
<path d="M329.9,267 400,273 415,274.5 422.5,279.5 435,279.5 442.5,282 443.8,284.5"/>
<path d="M443.8,284.5 445,286.4 445.4,288.7 446.6,290.6 446.9,292.9 447.9,295 448.8,297 449.4,299.1 449.7,301.3 450.3,303.4 451.4,305.5 451.4,307.7 451.9,309.9 452.5,312 452.9,314.1 453,316.2 453.5,318.3 454.3,320.3 454.9,322.4 455,324.5 456.8,326 458,328 458.2,330.3 458.8,332.5 459.4,334.8 460,337 462.5,338.2 465,339.5 466.7,341.2 468.5,342.6 470,344.5 469.6,347 469.6,349.6 468.8,352 470.4,353.8 472,355.4 473.8,357"/>
<path d="M473.8,357 472.5,402.3 473.8,412.5 476,467.5 476,473.8"/>
<path d="M446,264.5 480,265 500,265 525,264.5"/>
<path d="M458,328 500,325.8 525,326.5 526,331"/>
<path d="M353.8,332 460,337"/>
<path d="M355,311.5 353.8,332"/>
<path d="M353.8,332 348.8,394.8"/>
<path d="M511,197.5 511,199.6 510.3,201.7 509.6,203.7 509.3,205.8 508.9,207.9 508.8,210 506.9,211.3 504.7,212.2 502.9,213.7 501,215 501.2,217 500.6,219 500.9,221 499.8,223 500,225 500.2,227.2 501.4,229.1 502.1,231.2 502.3,233.4 503.4,235.3 503.8,237.5 505.8,238.8 507.5,240.3 509.1,241.9 510.7,243.6 512.5,245 513.6,246.8 515.5,247.7 516.4,249.7 518.1,250.9 519.3,252.6 521,253.8 521.5,256.1 522.9,258 523.3,260.3 524.5,262.2 525,264.5 526,266.5 526.1,268.7 526.2,270.9 526.9,272.9 527.5,275 529.3,276.7 530.4,279 531.9,280.9 533.8,282.5 535.8,283.3 537.5,284.5 538.2,286.5 538.8,288.6 539.2,290.6 540.6,292.4 541,294.5 540.8,296.5 540.1,298.4 540.3,300.5 540,302.5 540,304.5 538.1,305.3 536.4,306.5 534.7,307.7 532.8,308.4 531,309.5 530.5,311.5 530.3,313.5 529.3,315.4 529.4,317.5 528.8,319.5 528.1,321.4 527.2,323.2 526.4,325 526,327 525.6,329 526,331 525.6,333.1 525.8,335.3 524.9,337.3 525,339.5 525.9,341.5 527.3,343.1 528.5,344.9 530,346.5 531.3,348.2 532.5,350 533.7,351.8 535.3,353.3 536.1,355.3 537.2,357.2 538.7,358.7 541.3,359.2 543.6,360.6 546.2,361.2 545.5,363.4 545.6,365.8 545.1,368.1 544.1,370.2 543.7,372.5 545.4,373.8 546.8,375.4 548.1,377.1 549.6,378.6 551.2,380 552.9,381.7 554.9,383.1 556.9,384.5 558.7,386.2 559.8,388.3 560.3,390.5 560.9,392.7 561.2,395 562.9,396.7 564.4,398.5 566.2,400 566.3,402.1 566,404.1 565.3,406 565.6,408.1 563.4,408.5 561.2,408.7 560.2,410.7 559.4,412.9 558.7,415 558,417 557.5,419.1 556.9,421.2 556.1,423.4 555.1,425.5 554.8,427.9 553.7,430 552.6,431.9 551.8,433.9 551.8,436.2 550.6,438 548.8,440 548.1,442.1 547,444.1 546.2,446.2 545.1,448.2 543.8,450 542.9,451.9 542.6,454.1 541.9,456.1 540.3,457.8 540,460 539.1,462 538,464 537,466 536.1,468.1 535,470 534.6,472.5 534.5,475.1 533.8,477.5 534,479.6 534.6,481.7 535,483.8 535,486 535.9,488.2 536.3,490.5 536.5,492.9 537.5,495 537.7,497.5 538.1,500 536.9,501.7 536.6,503.8 536,505.7 535,507.5 533.8,509.1 533.3,511.1 531.6,512.5 531.1,514.5 530,516.2 529.8,518.5 529.3,520.6 528.8,522.8 528.1,525 528.7,528.1"/>
<path d="M537.5,284.5 580,282.8 583,282.7"/>
<path d="M537.5,201 540,205.6 556.2,210 568.7,213.1 572.5,220 576.2,225 579,226.5"/>
<path d="M587,292 585.5,299.5 588.7,350 590,360 585,371.2 583.1,380"/>
<path d="M566.2,400 567.6,398.4 568.3,396.3 570,395 572.4,396.1 575,395.6 576.4,394 576.2,391.9 576.9,390 578.7,389 579.9,387.1 581.9,386.2 581.8,384 582.3,382 583.1,380 585,379.5 586.3,378 588.6,378.4 590,376.9 592.3,376.4 594.4,376.9 596.6,377.1 598.7,378.1 600.6,377.8 602.1,376.4 604,375.8 605.6,374.9 607.5,374.4 609,372.3 610,370 611.8,370.9 613.6,371.6 615,373.1 615.9,371.4 616.7,369.7 617.4,367.9 619.5,366.9 620,365 621.9,363.6 623.5,361.9 625,360 627.2,359.7 628.7,357.9 630.5,357 632.5,356.2 633,354.1 633.6,352 634.4,350 635,348 636.7,349.3 639.2,349.2 640.7,350.9 642.5,352 644.5,352.6 646.6,352.7 648.7,352.7 650.4,354.4 652.5,354.5 654.1,353.3 656.1,353.9 657.7,352.8 659.5,352.2 661.3,352.1 663.1,351.6 665,352 666.9,353.1 667.8,355.2 669.2,356.8 671.2,357.8 672.5,359.5 673.9,358 674.8,356.1 676,354.5 676.4,352.6 677.4,350.9 676.8,348.8 677.5,347 679.6,345.8 681.1,343.9 682.5,342 684.2,341.3 685,339.3 686.6,338.4 688,337.3 690,337 691.4,335.8 693.5,335.7 694.9,334.6 696.3,333.5 697.5,332 697.3,330 698.9,328.5 699.5,326.7 700,324.9 700,323"/>
<path d="M634.4,350 627.5,294"/>
<path d="M595,296.7 597.5,296.5 627.5,294 650,290.8 652,290.5"/>
<path d="M693.3,276 693.8,278 700,323"/>
<path d="M703,270 705,275.5 777,261 781,268.8 783.7,273.1"/>
<path d="M783.7,273.1 797,281 797.5,286.5 797.5,288"/>
<path d="M783.7,273.1 781.2,280 780,285 781.9,290 786.2,293.1 790,296.9 786.2,301.2 782.5,306.2 780,308.7 780,309.5"/>
<path d="M700,323 717.5,320.8 750,313.5 776.9,307.5 780,308.7"/>
<path d="M776.9,307.5 785,335 793.7,332.5 796,332"/>
<path d="M717.5,320.8 717.3,322.9 718.1,324.8 718,326.8 718.8,328.8 718.8,330.8 720.7,329.5 722.4,328 724.4,326.9 726,325.2 728.1,324.2 730,323 732,322.4 733.9,321.7 736.1,322 738.1,321.6 740,320.8 742.3,321.9 744.1,323.7 746.2,325"/>
<path d="M746.2,325 744.5,326.2 742.7,327.4 741.7,329.4 739.5,330.1 738,331.5 736.9,333.5 735,334.5 732.4,335.5 730,337 728.7,338.9 728.3,341.1 726.6,342.8 726.1,345.1 725,347 723.5,348.5 721.9,349.9 720.4,351.4 718.8,352.8 717.5,354.5 716.9,356.7 715.9,358.7 715.3,360.9 714.4,362.9 713.3,364.9 712.5,367 710.9,368.8 708.8,370.1 706.7,371.2 705,373 703.4,374.2 701.5,374.9 699.9,376.2 697.8,376.5 696.3,378 694.4,378.9 692.5,379.5 690.6,378.8 688.5,378.6 686.5,377.9 684.5,377.4 682.5,377"/>
<path d="M672.5,359.5 673.4,361.4 673.2,363.6 673.6,365.6 674.6,367.5 675,369.5 676.7,370.8 678.2,372.3 679.8,373.7 681.2,375.3 682.5,377"/>
<path d="M682.5,377 681.2,378.7 679.5,380 678,381.5 676.8,383.3 675,384.5 673.6,385.9 671.8,387 670.7,388.7 669.3,390.2 667.6,391.4 666.5,393.1 665,394.5"/>
<path d="M746.2,325 747.8,327.2 750,328.7 752.2,329.5 754.6,329.8 756.9,330 758.7,331.7 760,333.7 759.5,335.9 758.5,337.8 758.1,340 759.4,342.1 761.2,343.7 763.4,343.7 765.5,344.2 767.5,345 769.9,346 772.5,346.2 775,347.5 777,349.5"/>
<path d="M665,394.5 645,399.7 585,404.4 585,407.5 565.6,408.1"/>
<path d="M665,394.5 692.5,393.8 740,384.5 789,375.5 791,375"/>
<path d="M692.5,393.8 691.9,396 690.8,397.9 690,400 688.1,400.9 686.8,402.4 685.3,403.8 683.9,405.1 682.4,406.5 680.3,407.1 678.9,408.6 677.5,410 675.8,411.3 673.9,412.1 672,413 670.1,413.9 668.7,415.6 666.9,416.6 665,417.5 663.5,419 661.6,419.9 659.8,420.9 658.2,422.3 656.9,424 655,425 654.3,427.5 653.7,430.1 652.5,432.5"/>
<path d="M548.8,440 586,440 631,436 640,434.3 652.5,432.5 670,433"/>
<path d="M670,433 683.8,425 693.8,422.5 710,426 735,425 756,440 758,441.5"/>
<path d="M670,433 671.1,435 673,436.3 674.1,438.3 675.4,440.1 677.3,441.4 678.4,443.5 680,445 681.8,446.1 683.5,447.2 685.1,448.6 686.5,450.2 688.5,451 690,452.5 691.5,453.9 693.2,454.9 694.9,456 696.3,457.4 697.9,458.7 699.4,460 700.7,461.6 702.5,462.5 703.4,464.5 705.1,465.9 705.7,468.1 707.3,469.7 708.2,471.7 709.5,473.4 711,475 712.2,476.6 713.7,478 714.4,480 715.6,481.6 717.1,482.9 718.8,484.1 719.5,486.1 721,487.5 723,489"/>
<path d="M586,440 586.2,500 588.1,537.5 588.3,540"/>
<path d="M631,436 640,472.5 646.2,500 648.1,513.7 649.4,519.4"/>
<path d="M603.8,540 603.8,526 620,523.1 649.4,519.4 653.1,525"/>
<path d="M653.1,525 702.5,522.5 703.7,525.6 706.2,525.6 706.9,516.9 716.9,516.2 719,516"/>
<path d="M528.7,528.1 563.1,526.9 564.4,536.2 568.7,542.5 570.5,542.3"/>
<path d="M483.8,486 535,486"/>
<path d="M476,473.8 483.8,475 483.8,486 483.1,500 483.7,508.7 488.7,516.2 493.1,526.2 491.9,535 488.7,542.5 489.4,550 486.2,556.9 486,559"/>
<path d="M473.8,412.5 520,411.2 548.7,410.6 550.6,415 546.9,420 546.9,421.2 556.9,421.2"/>
<path d="M381,408.8 380,410.6 380.9,412.5 380.3,414.3 380.2,416.1 381,418 381.1,419.9 380.1,421.7 380.8,423.6 380.3,425.4 379.2,427.2 379.2,429 380.4,430.9 380.4,432.8 380,434.6 378.8,436.4 380.2,438.3 379.7,440.2 379.8,442 379.7,443.9 378.9,445.6 378.8,447.5 380.9,448.3 382.4,449.9 383.8,451.6 385.5,452.9 387.5,453.8 389.4,454.6 390.8,456 392.8,456.6 394.4,457.9 396.6,457.8 398.3,458.9 400,460 401.7,460.7 403.3,461.9 405.3,461.8 407.2,462.1 409.1,462.3 410.8,462.9 412.5,463.8 414.4,463.8 415.8,465.7 417.7,466.1 419.4,466.6 421.4,466.5 423.1,467.3 425,467.5 427.1,467.4 429,468 431.1,467.6 433,468.4 435,468.8 436.7,468 438.4,467.3 440.5,468.3 442,466.5 444.1,467.4 445.8,466.8 447.5,466 449.6,465.4 451.7,466.3 453.7,467.4 455.8,467.5 457.9,466.9 460,467 461.8,468.2 463.9,468.9 466.1,469.1 468,470.3 470,471 471.9,472.1 474.1,472.7 476,473.8"/>
<path d="M331,394 329.5,406"/>
<path d="M329.5,406 381,408.8"/>
<path d="M329.5,406 319.4,498.1 254.4,490.6 252.5,490.3"/>
<path d="M230,378 208.8,496 208.5,498"/>
<path d="M786,191 786,193.8 788.8,210 792.5,222.5 797.5,232.5 798.1,238.7"/>
<path d="M798.1,238.7 799.4,253 802.5,270 801.9,275.8 801.5,277.5"/>
<path d="M810.5,185 810,187.5 807.5,205 806.9,215 807.5,220 810,235"/>
<path d="M798.1,238.7 810,235 825,231.2 832.5,227.5 835,226.2 837,225.5"/>
<path d="M813.8,179 813.8,180.5 820,192.5 826,210 831,217 833.7,220 837,221"/>
<path d="M799.4,253 825.6,246.9 831.2,245.6 833.7,251.2 834.5,257.5"/>
<path d="M780.5,347 793,343.5"/>
<path d="M825.6,246.9 828.7,260.6 829.2,263"/>
</g>
<path d="M65.6,83.1 67.7,84.8 70,86.2 72.3,87.8 74,90.2 76.2,91.9 79.5,92.8 82.5,94.4 84.5,96 86.9,96.9 89,99 90.3,96.8 91.2,94.4 92,92 92.5,89.3 93.7,86.8 94,84 95,81.2 130,92.5 165,104.5 167.6,105.2 170,106.6 172.5,107.1 174.9,108.1 177.2,109.1 179.7,109.7 182,110.8 215,118.8 250,125.5 300,135 345,143.3 400,148.8 438.8,150.5 466.2,150.5 466.6,147.9 466.6,145.4 466.8,142.8 469.2,142.5 471.6,143 472.3,146.5 472.6,150 473.8,154.5 476,156.2 478.8,157.1 481.8,157.2 484.6,158.4 487.5,158.8 490.2,157.8 492.5,156 495,158.8 497,160.4 499.6,161 501.6,162.5 503.8,163.8 517.5,168.8 520.4,168.1 523.2,167.1 526,166 546,170 530,182.5 517.5,192.5 515.3,194.1 513.1,195.7 511,197.5 513.3,196.7 515.4,195.4 517.7,194.7 520,193.8 522.8,192.2 525.7,190.9 528.8,190 529.7,192.6 531,195 533.8,198.8 537.5,201 540,197.5 541.9,195.9 543.9,194.5 545.5,192.6 547.5,191.2 550.1,190.6 552.5,189.7 555,188.7 557,187.4 558.9,185.8 560.9,184.3 562.5,182.5 565.7,181.2 568.7,179.4 573,179.4 570,182.5 567.3,184.8 565,187.5 563,190.6 563,193.7 566.2,190.6 568.7,190 571.1,191.2 573,193.2 575.3,194.7 577.5,196.2 579.9,197.6 582.5,198.7 585,199 587.5,198.7 590,196.8 592.5,195 595.1,194.7 597.4,193.4 600,193.1 602.9,192.4 605.7,191.5 608.5,190.5 611.2,189.4 612.5,192.2 613.7,195 616.1,194 618.8,194 621.2,193.1 623.6,193.9 626.2,194.4 626.5,197.3 627.5,200 630.1,200.4 632.4,201.6 635,201.9 635.6,203.7 632.9,204.3 630.2,204.6 627.5,204.4 624.2,204.8 621,206 623,207.9 625.2,209.7 627.5,211.2 630,212.6 632.6,213.5 635,215 637.4,217.7 640,220 640.5,222.5 641.2,225 642,227.5 642.5,230 643.1,232.5 642.3,235.3 642.5,238.3 641.9,241.2 640.5,243.3 638.7,245 636,248 637,252 640.5,250 642,246 643.7,243.7 647,242.7 650,241.2 652.5,243.1 655,245 655.7,247.6 656.6,250.1 658,252.4 658.7,255 659.2,257.5 659,260 659.7,262.5 660,265 659.8,267.5 659.5,270 658.8,272.5 657.8,275.1 656.6,277.7 655,280 653.1,282.3 651,284.5 650.4,287.6 650,290.8 652.4,292.1 655,292.6 657.6,293.3 660,294.5 662.4,293.5 664.9,292.6 667.6,292.5 669.9,291.2 672.5,290.8 685,283 687.3,282 689.5,280.8 691.4,278.9 693.8,278 695.6,276.4 697.9,275.3 699.6,273.6 702,272.6 703.8,271 712.5,257.5 712.3,254.9 711.6,252.5 711,250 713.1,248.5 715.2,247.2 717.5,246 720.1,245.8 722.5,244.9 725,244.4 727.5,243.8 729.9,242.9 732.6,243.1 735,242 737.5,241.8 740,241 742.2,239.6 744.4,237.9 746.5,236.4 748.8,235 748.8,232.4 747.5,230.1 747.5,227.5 748.2,224.9 749.2,222.5 750,220 751.2,217.8 753.1,216.1 754.4,213.9 756,212 757.5,210 758.9,208 760.5,206 762,204 763.4,201.9 765,200 786,193.8 810,187.5 811,184.2 812.5,181 813.8,180.5 816.3,178.2 818.8,176 819.5,173.2 819.7,170.3 820,167.5 820.8,165 821,162.4 822.3,160.1 822.5,157.5 823.8,142.5 827.5,128.8 830,129.2 832.5,130 835.1,130.2 837.5,131 839,129.1 840.9,127.4 842.5,125.5 845,125.9 847.5,126.3 850,127 850.9,129.8 852.3,132.3 853.5,135 855,137.5 860,155 862.9,155.9 866,156.3 868.8,157.5 870.1,159.6 871.9,161.3 873.1,163.5 874.4,165.6 876,167.5 875,169.9 874.2,172.4 873.8,175 871.9,177.2 869.4,178.7 867.1,180.5 865,182.5 863.6,185.2 862,187.7 860,190 857.5,191.7 855.2,193.7 852.5,195 850.5,196.8 848.5,198.5 847,200.8 845,202.5 842.8,204.4 841.2,207 839,209 837,211 835,213 833.7,215 835,218.7 836.2,222.5 835,226.2 837.5,230 838.7,233.7 836.6,235 835,236.9 836.9,239.4 838.7,241 840,243.1 841.9,244.6 843.7,246.2 847.5,246.9 850.2,246 852.5,244.4 854,242 852.5,239.6 848.1,238.9 848.3,237.8 853,238.2 855.6,241.9 855,245 852.7,246.6 850,247.5 847.5,249.3 845,251.2 842.3,252.1 840,253.7 837.4,254.8 835,256.2 832.5,258.7 828.7,261.5 825.5,262.7 822.5,264.5 819.4,265.4 816.5,266.7 813.7,268.2 810.7,269.9 807.5,271.4 805,273.9 801.9,275.8 800,278.8 801.2,279.6 803.1,278.1 805.6,277.4 807.5,275.9 810.1,274.8 812.6,273.5 815,272.1 817.6,271.2 819.9,269.8 822.5,269 825.7,268.2 828.7,266.6 826.7,268.6 825.3,271 822.5,272.4 820,274.2 817.7,276.2 814.8,277.2 812.5,279.2 810.4,280.5 808.2,281.5 806.2,283 803,284.1 800,285.4 797.5,287 799.4,289.1 801.2,291.2 801.5,293.7 802.2,296.1 802.5,298.7 802.5,301.2 801.9,303.7 800.9,306.1 800.6,308.7 799.3,311.1 798.4,313.6 797.5,316.2 796.1,318.6 795,321.2 792.5,319.4 790,316.9 787.5,316.4 785,315.6 783,314.2 781.2,312.5 780,309.5 781.1,312.9 782.5,316.2 784.3,318.2 786.2,320 787.9,322.1 790,323.7 792.5,327.5 793.3,330.6 794.4,333.7 794.2,336.9 793.7,340 792.6,343.1 791.2,346.2 789.8,349.3 788.7,352.5 787.8,354.8 787.5,357.2 787,359.5 785,358 784.2,355.3 783.7,352.5 783.5,349.9 782.5,347.5 781.3,345.3 779.9,343.3 778.7,341.2 776.9,338.2 775.6,335 775.1,332.1 774.6,329.1 773.7,326.2 773.8,323.3 772.9,320.4 773.1,317.5 772.5,313.7 770,315 768.4,317.3 767.5,320 768.2,323.1 768.7,326.2 769.7,329.3 770,332.5 771.4,335.6 772.5,338.7 774,341.1 775,343.7 775.9,346.9 776.9,350 777.3,352.7 777.9,355.3 778.1,358 779.3,361.2 780,364.5 781.2,366.6 782.2,368.9 783.8,370.8 786,373 788.8,375 790.8,377.4 792.5,380 794.1,381.9 795.8,383.8 797.3,385.8 798.4,388.1 800,390 800.6,392.5 801.5,394.9 802,397.5 802.5,400 800.7,401.9 798.8,403.8 796.6,405.4 795,407.5 793.7,410.2 791.6,412.3 790.4,415.1 788.8,417.5 785.8,418.4 783,420.1 780,421 777.9,422.4 776.4,424.4 774.5,426 772.5,427.5 770.9,430.1 769.1,432.4 767.5,435 766,437.5 763,438.1 760,438.8 756,440 754.5,442.5 753.1,445.1 751.4,447.4 750,450 742.5,462.5 740.9,464.4 739.2,466.3 737.9,468.4 736.4,470.5 735,472.5 733,474.3 731.3,476.3 729.4,478.1 727.5,480 726,482 724.1,483.6 722.5,485.5 721,487.5 720.4,490.1 719.2,492.5 718.7,495.1 717.5,497.5 717.1,500.1 716.4,502.5 715.6,505 715,507.5 715.3,510.5 716.2,513.3 716.9,516.2 717.6,519.1 718.4,522 718.7,525 720,527.4 720.9,529.9 721.6,532.5 722.9,534.9 723.7,537.5 724.6,539.9 725.9,542.1 727.4,544.2 729.1,546.3 730,548.7 731.6,550.6 732.9,552.8 734.2,554.9 735.8,556.8 737.5,558.7 739.6,560.7 741.9,562.5 743.3,564.5 743.8,567 745,569.1 746.2,571.2 747.1,573.9 748.9,576.1 749.7,578.8 751.1,581.3 752.5,583.7 753.5,586.2 754.6,588.7 755.8,591.1 756.4,593.8 757.5,596.2 757.8,599 758.1,601.7 758.9,604.4 758.7,607.3 759.4,610 759.4,612.5 759.8,615 760,617.5 760,620 760,623.1 760,626.2 758.6,629 757.5,631.9 755.8,633.7 753.7,635 750.6,635.1 747.5,635.6 745.1,634.3 742.5,633.7 741,630.7 740,627.5 737.6,624.9 735,622.5 732.5,621.8 730.1,620.5 727.5,620 725.8,617.5 724.2,615 722.5,612.5 720.5,610.7 718.2,609.3 716.2,607.5 715.2,604.5 713.7,601.6 712.5,598.7 710.7,596.5 708.8,594.4 706.7,592.4 705,590 704.3,587.4 702.6,585.1 702,582.5 701,580 700.6,577.5 700,575 700.3,572.5 700.2,570 700.6,567.5 700,564.2 698.7,561.2 696.9,558.7 695,556.2 692.4,554.5 690,552.5 687.6,550.4 685,548.7 683.3,546.9 681.5,545.1 680,543.1 677.4,541 675,538.7 672.6,537.5 670,536.9 667.5,537.7 665,538.7 662.8,541.5 660,543.7 657.9,545.4 656,547.2 653.7,548.7 651.2,548.1 648.7,547.7 646.2,547.5 643.7,545 641.2,542.5 639.2,541 637,539.8 634.8,538.5 632.5,537.5 630,537.3 627.5,536.6 625,536.4 622.5,536.6 620,536.2 617.5,536.5 615,535.8 612.5,535.9 610,536 606.8,536.4 603.8,537.5 602.5,537.5 600.4,535.7 598.2,534.1 596,532.5 595.6,535 595,537.5 591.6,538 588.1,538 585.2,538 582.5,538.7 579.6,539.1 576.6,539.4 573.7,540 571.3,541.5 568.7,542.5 571.2,543.5 573.7,546.2 571.7,548 570,550 567.5,553.7 568.9,556.1 570,558.7 572.3,560.3 575,561.3 577.5,562.5 578.7,565 576.1,566 573.7,567.5 571.9,570.6 570.6,568.5 570,566 568.7,562.5 565.6,561.6 562.5,561.2 559.8,562.1 557.5,563.7 556.4,566 555,568.1 552.5,568.1 550,567.5 546.9,568.3 543.7,568.7 541.6,567.5 539.8,565.9 537.5,565 533.7,562.5 531.2,560.6 528.7,558.7 526.7,557 525,555 522.5,555.1 520,555.6 518.7,559.4 516.2,559 513.7,559 511.2,558.7 508.8,557.9 506.3,557.5 503.7,557.4 501.2,556.9 486.2,556.9 483.3,557.5 480.3,557.8 477.5,558.8 475,559.7 472.5,560.7 469.9,561.3 467.5,562.5 455,572.5 440,582.5 427.5,590 426.1,592.1 424.6,594.1 422.7,595.8 421.6,598.1 420,600 419.5,602.5 418.5,604.9 417.9,607.4 417.5,610 418.1,612.5 418.9,614.9 418.8,617.5 419.6,620 420,622.5 420.6,625.2 420.2,627.9 420.9,630.6 421.1,633.3 421,636 417.5,638.8 414.8,637.9 412.6,636.2 409.9,635.2 407.5,633.8 405,633.2 402.5,632.2 400.1,631.2 397.4,631 395,630 392.4,628.9 390.1,627.3 387.6,626 385,625 384,622.4 382.7,619.9 381.2,617.5 380,615 379,612.6 379,609.9 377.7,607.6 377.5,605 370,592.5 362.5,580 361.5,577.6 360.3,575.3 359.4,572.9 358.8,570.3 357.5,568 356.2,565.1 354.3,562.6 352.5,560 350.6,558.4 349.2,556.2 347.3,554.6 345.2,553.2 343.7,551.2 341.3,549.9 338.8,548.9 336.2,548 333.4,547.1 330.4,546.8 327.5,546.2 325.5,547.9 324,550 322.1,551.8 320.1,553.5 318,555 316.3,556.8 314.1,558.1 312.2,559.6 310.8,561.8 308.7,563.1 296.2,553.7 294.3,552.1 292.6,550.4 290.8,548.6 289.4,546.6 287.5,545 286.3,542.6 285.7,540 285,537.4 283.7,535 283.3,532.5 282.4,530 281.5,527.6 281.2,525 279.4,523.3 278,521.2 275.9,519.8 274.4,517.8 272.5,516.2 262.5,503.7 254.4,490.6 252.2,492.2 250,493.8 225,490 224.5,493 223.2,495.8 222.5,498.8 219.7,498.6 217,497.6 214.2,497.4 211.5,496.9 208.8,496 170,488.8 111,448.8 112.6,446.7 114.4,444.6 116,442.5 70,436 69.6,433.2 69.8,430.3 70,427.5 69,425 68.2,422.4 67.1,420 66,417.5 64.2,415.2 62.7,412.7 61.5,410 60,407.5 58.4,404.4 57.5,401 55.7,398.8 53.9,396.6 52.1,394.4 50,392.5 47.8,391.2 46.1,389.4 43.9,388.1 42,386.6 40,385 37.4,384.2 35,382.9 32.5,381.9 30,380.8 29,378.6 28.2,376.3 26.7,374.3 26,372 25.5,369.5 25.3,367 25.4,364.5 25.3,362 25,359.5 21,344.5 20.1,342.1 19.5,339.5 18.7,337 18.1,334.5 17.5,332 18.3,329.5 18.5,326.9 19.8,324.6 20,322 19.6,319.4 18.4,317.1 17.8,314.6 17.5,312 16,297 14.7,294.5 13.8,291.8 12.5,289.4 11,287 10.9,284.4 10.5,281.9 9.3,279.6 9.5,276.9 8.8,274.5 9.3,272 10,269.5 10.4,267 11.3,264.6 11.5,262 11.3,259.6 10.8,257.2 10.7,254.8 10.4,252.4 10,250 9.9,247.2 9.6,244.3 9.3,241.5 8.8,238.8 10.4,236.9 12.1,235 13.5,233 15,231 16.2,228.4 17.8,226 19.2,223.5 20.6,221 21.3,218.3 21.3,215.5 22,212.8 22.5,210 22.9,207.5 22.5,205 23.3,202.1 23.6,199.1 24.4,196.2 24.9,193.7 25,191.2 35,178.7 42.5,165 50,151.2 51.3,149 52.2,146.6 53.7,144.5 55.2,142.4 56.2,140 56.8,137.4 57.5,134.9 58.6,132.5 59.4,130 59.4,126.2 60.8,123.2 61.9,120 62.4,117.5 63.2,115 63.7,112.5 64.3,109.6 64.9,106.7 65,103.7 64.6,100.8 64.4,97.9 64.4,95 64.2,92.5 64,90 63.7,87.5ZM616.2,205.8 613.3,205.3 610.4,205.1 607.5,204.4 605,205.4 602.6,206.6 600,207.5 598,208.9 595.9,210 593.7,211.2 590,213.1 587.2,212.8 584.4,212.5 582.7,215.5 581.2,218.7 579.8,221.1 578.7,223.7 577.5,226.2 576.4,228.4 575,230.4 573.7,232.5 573.1,235.4 571.9,238.1 575.6,237.5 577.1,235.3 578.5,233.2 579.8,230.9 581.2,228.7 583.1,226.3 584.7,223.8 586.2,221.2 588.3,218.5 590,215.5 591.5,216 590.1,219.2 588.7,222.5 587.2,224.5 586.2,226.8 584.9,229 583.7,231.2 582.3,234.1 581.5,237.2 580,240 579.4,242.5 579.3,245 578.3,247.4 578.1,250 578.1,252.5 578,255 577.8,257.5 577.5,260 577.9,263.2 578.3,266.3 578.8,269.5 579,272.2 578.8,275 579.3,277.4 579.8,279.8 580.3,282.2 581,284.5 582,287 583.1,289.5 584,292 585,294.5 587.4,296.9 590,299 592.4,297.8 595.1,297.1 597.5,295.8 598.4,293 599,290.1 599.9,287.2 601,284.5 602.5,269.5 602.1,267.1 602,264.7 601.3,262.4 601,260 598.1,245 598.2,242.5 598.8,240 598.9,237.5 599.4,235 600.6,232.1 601.6,229.2 602.5,226.2 604.3,224.2 605.9,222.1 607.5,220 608,222.5 608.1,225 608.4,228 608.7,231 609.5,227.5 610,224 611.3,221.4 612.7,218.9 613.7,216.2 614.6,213.2 615,210 616.2,206.8Z" fill="none" stroke="#0c0d1c" stroke-width="1.5" stroke-linejoin="round"/>
<path d="M87.5,83.7 90,82.5 92,82.8 93.7,83.7 95.3,85 96.9,86.2 97.4,88.1 97.5,90 96.5,91.6 95.7,93.3 95,95 95.8,96.6 96.1,98.3 95.6,100 94.7,101.3 95.1,103 94.4,104.4 92.5,106.2 92.4,108 91,109.4 91.2,111.2 90.2,112.5 88.8,113.4 88.1,115 86.5,116.1 84.7,116.9 83.1,118.1 81.2,116.2 80.5,114.6 81,112.8 80.6,111.2 82,110.3 82.7,108.8 83.7,107.5 85.4,106.7 86.8,105.6 88.1,104.4 88.2,102.7 89.7,101.6 90,100 89.9,98.3 89.3,96.7 89.4,95 88.2,93.6 88.6,91.5 87.5,90 87.5,88.4 87.8,86.8 88,85.3Z" fill="#0c0d16" stroke="#0c0d16" stroke-width="0.8" stroke-linejoin="round"/>
<path d="M82.5,110.5 89.5,106 90.3,108.7 88.1,112.3 83.7,113.7Z" fill="#C8D0FC" stroke="#0c0d16" stroke-width="0.5" stroke-linejoin="round"/>
<ellipse cx="91.9" cy="80" rx="0.9" ry="0.9" fill="#0c0d16"/>
<path d="M62.5,113.5 64.5,114.5 63,115.5" fill="none" stroke="#0c0d16" stroke-width="1.2" stroke-linejoin="round" stroke-linecap="round"/>
<path d="M60.5,120 62.5,121.5 60.5,123" fill="none" stroke="#0c0d16" stroke-width="1.2" stroke-linejoin="round" stroke-linecap="round"/>
<path d="M58.5,128 60,127" fill="none" stroke="#0c0d16" stroke-width="1.5" stroke-linejoin="round" stroke-linecap="round"/>
<path d="M19,300 20.2,297 22,297.5 21.5,300 19.8,302 20.5,306 22.3,310.5" fill="none" stroke="#0c0d16" stroke-width="1.5" stroke-linejoin="round" stroke-linecap="round"/>
<path d="M25,389.3 26.5,390.1 28,390.6 30,390.2 31.4,391.3 33,392 34.5,392.4 36,392.2 37.4,393.1 38.9,393.4 40.5,393.6" fill="none" stroke="#0c0d16" stroke-width="1.7" stroke-linejoin="round" stroke-linecap="round"/>
<ellipse cx="34" cy="409" rx="1" ry="1.4" fill="#0c0d16"/>
<ellipse cx="44" cy="407.6" rx="0.8" ry="0.8" fill="#0c0d16"/>
<ellipse cx="53.5" cy="412.5" rx="1.3" ry="2.4" fill="#0c0d16" transform="rotate(-20 53.5 412.5)"/>
<ellipse cx="49" cy="421" rx="1.2" ry="2.8" fill="#0c0d16" transform="rotate(-15 49 421)"/>
<path d="M868,180 867.1,180.9 866.2,181.9 865,182.5 865.7,184.4 864.5,186 862.5,185.6 861,187 861.5,188.9 859.7,189.7 859,191 857.3,190.2 856,191.5 856.3,193.3 854.5,194.1 854,195.5 852.5,195.5 851,196 851.2,198 849.6,198.8 848.5,200 846.9,200.6 846,202 845.1,203.4 843.5,204.3 843,206" fill="none" stroke="#0c0d16" stroke-width="2.4" stroke-linejoin="round" stroke-linecap="round"/>
<path d="M866.5,181.5 866.2,182.7 864.8,183.1 865.6,185.2 862.5,184.2 863,186 861.4,186.4 860.2,187 861.4,189.5 860,190 860,191.5 859.6,192.7 858.5,193.3 857,193.5 857.1,195.4 854.9,194.5 854.7,196.1 853.5,196.5" fill="none" stroke="#0c0d16" stroke-width="2.2" stroke-linejoin="round" stroke-linecap="round"/>
<path d="M864,189 864.2,190.4 862.6,190.5 861.3,190.7 861.9,192.4 861,193 860.2,193.8 859.7,194.9 858.3,195.3 858,196.5 856.9,196.9 856.3,197.8 854.9,197.9 855,199.5" fill="none" stroke="#0c0d16" stroke-width="1.3" stroke-linejoin="round" stroke-linecap="round"/>
<ellipse cx="862.5" cy="192" rx="1.2" ry="1.2" fill="#0c0d16"/>
<ellipse cx="859.5" cy="196" rx="1.1" ry="1.1" fill="#0c0d16"/>
<ellipse cx="866.5" cy="186.5" rx="1.0" ry="1.0" fill="#0c0d16"/>
<ellipse cx="852" cy="200.5" rx="0.9" ry="0.9" fill="#0c0d16"/>
<ellipse cx="856.5" cy="199" rx="0.8" ry="0.8" fill="#0c0d16"/>
<ellipse cx="868.5" cy="183" rx="0.8" ry="0.8" fill="#0c0d16"/>
<ellipse cx="849" cy="203" rx="0.7" ry="0.7" fill="#0c0d16"/>
<ellipse cx="861" cy="199" rx="0.6" ry="0.6" fill="#0c0d16"/>
<path d="M847.8,238.9 852.3,239.2 855.4,241.8 855,245 850.5,247.3" fill="none" stroke="#0c0d16" stroke-width="1.7" stroke-linejoin="round" stroke-linecap="round"/>
<path d="M832.3,250 834.5,251.5 837,254.3 835,256.5 832.8,255Z" fill="#0c0d16" stroke="#0c0d16" stroke-width="0.8" stroke-linejoin="round"/>
<path d="M841,255.5 843.5,254.5 846,255.8" fill="none" stroke="#0c0d16" stroke-width="1.6" stroke-linejoin="round" stroke-linecap="round"/>
<ellipse cx="843.5" cy="257.3" rx="1.2" ry="0.8" fill="#0c0d16"/>
<path d="M851.5,253 854,252 857,253.2 857.5,254.5" fill="none" stroke="#0c0d16" stroke-width="1.5" stroke-linejoin="round" stroke-linecap="round"/>
<ellipse cx="833.5" cy="262.5" rx="0.7" ry="0.7" fill="#0c0d16"/>
<ellipse cx="797.3" cy="286.6" rx="1.4" ry="1.4" fill="#0c0d16"/>
<path d="M772.6,314.5 772.5,316.3 772.1,318.2 772,320 771.5,321.7 772.7,323 773,324.5 773.3,326 772.7,328 772.5,330 773.7,331.3 773.7,333 774.1,334.6 775,336 775,337.5 776.8,338.4 776.5,340 777.8,341.1 779.2,342.2 779.5,344 779.2,345.8 779.8,347.4 780.5,349 782.1,349.9 781.2,352.1 782.8,353 782,354.7 782.8,356.4 783.2,358" fill="none" stroke="#0c0d16" stroke-width="1.5" stroke-linejoin="round" stroke-linecap="round"/>
<path d="M769.5,316 769,317.7 768.2,319.3 768,321 768,322.5 769.1,323.9 769.6,325.4 769,327 769.6,328.4 770.1,329.9 769.6,331.6 770.5,333 770.8,334.6 771.6,336.1 772.3,337.5 773,339 773.6,340.8 775.2,342 775.5,344 776.1,345.5 777,346.8 776.2,348.7 777.3,350 778.4,351.2 777.3,352.9 778.9,354 778.2,355.7 778.8,357 779.5,358.3 779.8,359.7 779.5,361.4 781.4,362.3 781,364 782.4,364.8 781.9,366.9 783.2,367.8 784,369" fill="none" stroke="#0c0d16" stroke-width="1.4" stroke-linejoin="round" stroke-linecap="round"/>
<path d="M746.2,325 747.7,326 748.6,327.7 750,328.7 751.7,329.3 753.4,329.8 755.3,329.2 756.9,330 758.2,331 759.3,332.1 760,333.7 759.9,335.4 758.7,336.8 759.1,338.6 758.1,340 759.1,341.3 760.5,342.2 761.2,343.7 762.8,343.7 764.4,344.3 765.8,345.1 767.5,345 769.1,345.5 771,345.1 772.5,346.2 774,347.1 775.5,348 776.5,349.5" fill="none" stroke="#0c0d16" stroke-width="1.4" stroke-linejoin="round" stroke-linecap="round"/>
<path d="M764,351 765.4,350.9 766.4,352 767.7,352.3 769,352.5 770,353.6 771.6,353.5 772.9,354.1 774,355 774.8,356 775.9,356.7 777.1,357.1 778,358" fill="none" stroke="#0c0d16" stroke-width="1.2" stroke-linejoin="round" stroke-linecap="round"/>
<path d="M766,358 767,359 768.6,358.5 769.5,359.8 771,359.6 772,360.5 772.9,361.6 774.7,361.2 775.4,362.7 776.7,363.1 778,363.5" fill="none" stroke="#0c0d16" stroke-width="1.2" stroke-linejoin="round" stroke-linecap="round"/>
<path d="M768,366 769.2,366.2 770.3,366.6 771.5,366.9 772.7,367.3 773.9,367.6 775,368 776.2,368.4 777.4,368.2 778.6,368.7 779.9,368.3 781,369" fill="none" stroke="#0c0d16" stroke-width="1.1" stroke-linejoin="round" stroke-linecap="round"/>
<path d="M776,384 777.1,383.2 778.6,383.8 779.8,383.5 781,383 782.3,383.3 783.6,383.2 784.6,384.4 786,384.2 787.4,384.2 788.5,383.4 789.8,382.9 791,382.5" fill="none" stroke="#0c0d16" stroke-width="1.5" stroke-linejoin="round" stroke-linecap="round"/>
<path d="M779,379 782,380.5 784,378.5" fill="none" stroke="#0c0d16" stroke-width="1.2" stroke-linejoin="round" stroke-linecap="round"/>
<path d="M793.5,385 793.5,386.6 795.3,387.2 796.1,388.4 796,390 795.5,391.4 797.1,392.3 797.5,393.5 797,394.9 797.5,396 797.2,397.3 795.9,398.3 796.4,399.9 795.5,401 794.1,401.4 793.9,403 792.7,403.6 791.4,404.1 791,405.5 789.8,406 788.6,406.3 787.8,407.3 787.4,408.9 786,409 784.6,409.6 783.9,410.9 783,412" fill="none" stroke="#0c0d16" stroke-width="1.4" stroke-linejoin="round" stroke-linecap="round"/>
<path d="M774,397 775.1,397.9 776.3,398.4 777.6,398.7 779,398.5 780.2,397.8 781.5,398.4 782.7,398 784,398 785.3,398.7 786.9,398.9 788,400" fill="none" stroke="#0c0d16" stroke-width="1.4" stroke-linejoin="round" stroke-linecap="round"/>
<path d="M771,406 772.2,406.7 773.4,407.2 774.9,406.7 776,407.5 777,408.6 778.7,408.1 779.7,409.2 781,409.5 782.4,409.9 782.8,411.4 784,412" fill="none" stroke="#0c0d16" stroke-width="1.4" stroke-linejoin="round" stroke-linecap="round"/>
<path d="M789,390 792,392.5 790,395" fill="none" stroke="#0c0d16" stroke-width="1.2" stroke-linejoin="round" stroke-linecap="round"/>
<ellipse cx="753.5" cy="639.5" rx="1.6" ry="0.6" fill="#0c0d16" transform="rotate(-30 753.5 639.5)"/>
<ellipse cx="749.5" cy="642" rx="1.6" ry="0.6" fill="#0c0d16" transform="rotate(-30 749.5 642)"/>
<ellipse cx="745.5" cy="644.3" rx="1.5" ry="0.6" fill="#0c0d16" transform="rotate(-25 745.5 644.3)"/>
<ellipse cx="741.5" cy="645.8" rx="1.3" ry="0.6" fill="#0c0d16" transform="rotate(-20 741.5 645.8)"/>
<ellipse cx="731" cy="648.5" rx="1.2" ry="0.6" fill="#0c0d16" transform="rotate(-10 731 648.5)"/>
<ellipse cx="726" cy="650" rx="1.0" ry="0.5" fill="#0c0d16"/>
<ellipse cx="723.5" cy="650.6" rx="0.6" ry="0.5" fill="#0c0d16"/>
<ellipse cx="708.8" cy="651.2" rx="0.8" ry="0.6" fill="#0c0d16"/>
<path d="M732.5,647 736.5,643.6 739.6,643.8 738,646 734.5,648.2Z" fill="#929FFB" stroke="#0c0d16" stroke-width="0.9" stroke-linejoin="round"/>
<path d="M700.5,575.5 703,577.5 706,577 707.5,579.5 705,581 706,584.5 707.8,586" fill="none" stroke="#0c0d16" stroke-width="1.4" stroke-linejoin="round" stroke-linecap="round"/>
<path d="M713.5,598 715.5,600 716,604 718,608 717,610.5" fill="none" stroke="#0c0d16" stroke-width="1.5" stroke-linejoin="round" stroke-linecap="round"/>
<path d="M755,633 754.4,634.5 753.4,635.6 752,636.5 750.7,637 749.3,637 748,637.5 746.3,637.1 745,636" fill="none" stroke="#0c0d16" stroke-width="1.8" stroke-linejoin="round" stroke-linecap="round"/>
<path d="M744,560 744.8,565 747,571" fill="none" stroke="#0c0d16" stroke-width="0.9" stroke-linejoin="round" stroke-linecap="round"/>
<path d="M466,557 467.5,559 466,560.5 468.5,562.5 466.5,564.5" fill="none" stroke="#0c0d16" stroke-width="1.3" stroke-linejoin="round" stroke-linecap="round"/>
<path d="M431,586.5 433.5,585 436,585.5" fill="none" stroke="#0c0d16" stroke-width="1.2" stroke-linejoin="round" stroke-linecap="round"/>
<path d="M418,598 419.4,597.1 421,596.5 421.4,595.3 421.9,594.2 423,593.5 424.7,593.5 426,592.5 426.9,591.6 427.9,590.7 428.5,589.5 429.8,589.3 431,589" fill="none" stroke="#0c0d16" stroke-width="1.4" stroke-linejoin="round" stroke-linecap="round"/>
<path d="M416.5,607 418.5,605 417.5,602.5" fill="none" stroke="#0c0d16" stroke-width="1.3" stroke-linejoin="round" stroke-linecap="round"/>
<path d="M420.8,601 419,610 421.3,622 422.5,635" fill="none" stroke="#0c0d16" stroke-width="0.8" stroke-linejoin="round" stroke-linecap="round"/>
<path d="M452,573 455.5,571 458,569.5" fill="none" stroke="#0c0d16" stroke-width="1.1" stroke-linejoin="round" stroke-linecap="round"/>
<path d="M537,565 538.6,565.3 539.7,566.5 541.3,566.7 542.1,568.5 543.7,568.7 545.2,567.9 546.9,568.2 548.6,568.6 550,567.5 551.7,567.5 553.2,568.7 555,568.1 556.2,566.8 556.7,565.2 557.5,563.7 558.9,563.3 560.1,562.6 561.1,561.6 562.5,561.2 563.9,562.4 565.6,561.7 567,563 568.7,562.5 568.6,564.1 570.6,564.9 570.7,566.4 570.9,567.9 570.8,569.5 571.9,570.6 572.3,568.8 573.7,567.5 575,567.1 576.1,566 577.7,566.1 578.7,565 578.8,563.4 577.5,562.5 576.5,561.4 574.8,561.7 574,560.2 572.4,560.1 571.5,558.8 570,558.7" fill="none" stroke="#0c0d16" stroke-width="1.5" stroke-linejoin="round" stroke-linecap="round"/>
<path d="M519,559.4 519.8,558.3 519.2,556.8 520,555.6 521.3,555.7 522.5,555.3 523.8,555.6 525,555 526,555.9 526.6,557.1 528,557.5 528.7,558.7" fill="none" stroke="#0c0d16" stroke-width="1.3" stroke-linejoin="round" stroke-linecap="round"/>
<path d="M573.5,546.5 572.5,547.3 571.4,547.9 570.9,549.2 570,550 569,551.1 567.9,552.2 567.5,553.7 568.1,555.1 568.6,556.7 569.5,558" fill="none" stroke="#0c0d16" stroke-width="1.5" stroke-linejoin="round" stroke-linecap="round"/>
<path d="M497,558 501,559.5 505,558.5" fill="none" stroke="#0c0d16" stroke-width="1.2" stroke-linejoin="round" stroke-linecap="round"/>
<path d="M523,560.5 524.2,561.4 525.8,561.2 527,562 528.3,562.6 529.7,563 531,563.5" fill="none" stroke="#0c0d16" stroke-width="1.3" stroke-linejoin="round" stroke-linecap="round"/>
<path d="M466,562 468,564" fill="none" stroke="#0c0d16" stroke-width="1.2" stroke-linejoin="round" stroke-linecap="round"/>
<path d="M565.3,547.2 568.8,544.6 572,546.4 570.6,550 566.5,550.6Z" fill="#fff" stroke="#0c0d16" stroke-width="1.0" stroke-linejoin="round"/>
<path d="M574,545 578,544.3" fill="none" stroke="#0c0d16" stroke-width="0.9" stroke-linejoin="round" stroke-linecap="round"/>
<path d="M582,542.8 586,541.8" fill="none" stroke="#0c0d16" stroke-width="0.9" stroke-linejoin="round" stroke-linecap="round"/>
<path d="M596,537 599,538.3" fill="none" stroke="#0c0d16" stroke-width="1.0" stroke-linejoin="round" stroke-linecap="round"/>
<ellipse cx="604.5" cy="211" rx="0.9" ry="0.9" fill="#0c0d16"/>
<ellipse cx="606.8" cy="213.2" rx="0.8" ry="0.8" fill="#0c0d16"/>
<ellipse cx="603" cy="218.5" rx="0.9" ry="0.9" fill="#0c0d16"/>
<ellipse cx="601.2" cy="226" rx="0.7" ry="0.7" fill="#0c0d16"/>
<ellipse cx="604.3" cy="223.5" rx="0.8" ry="0.8" fill="#0c0d16"/>
<ellipse cx="606" cy="209.5" rx="0.6" ry="0.6" fill="#0c0d16"/>
<path d="M608.2,224.5 608.6,230.5" fill="none" stroke="#0c0d16" stroke-width="1.6" stroke-linejoin="round" stroke-linecap="round"/>
<path d="M605.8,219 606.3,223" fill="none" stroke="#0c0d16" stroke-width="1.2" stroke-linejoin="round" stroke-linecap="round"/>
<path d="M529,191.5 531.5,189.8 534,190.8 533,193.6 530.5,194Z" fill="#0c0d16" stroke="#0c0d16" stroke-width="0.8" stroke-linejoin="round"/>
<path d="M619.5,205.5 623,205 625.5,206.5 624,208.5 620.5,208Z" fill="#0c0d16" stroke="#0c0d16" stroke-width="0.8" stroke-linejoin="round"/>
<path d="M630.5,201.8 634,200.8 636.8,202.3 635.5,204.4 631.5,204.2Z" fill="#0c0d16" stroke="#0c0d16" stroke-width="0.8" stroke-linejoin="round"/>
<path d="M584.5,212.5 585.7,211.7 587,211 588.2,212.1 589.5,213 590.7,212.5 591.5,211.5" fill="none" stroke="#0c0d16" stroke-width="1.5" stroke-linejoin="round" stroke-linecap="round"/>
<path d="M586.5,215.5 588.5,214.5" fill="none" stroke="#0c0d16" stroke-width="1.3" stroke-linejoin="round" stroke-linecap="round"/>
<path d="M549,172.3 555,168 562,164.3 562.6,165.4 556,169.6 550,173.1Z" fill="#0c0d16" stroke="#0c0d16" stroke-width="0.8" stroke-linejoin="round"/>
<ellipse cx="657.5" cy="291.3" rx="0.9" ry="0.9" fill="#0c0d16"/>
<ellipse cx="655.8" cy="292.6" rx="0.7" ry="0.7" fill="#0c0d16"/>
<path d="M651.5,283 653.5,280.5 652.5,278" fill="none" stroke="#0c0d16" stroke-width="1.0" stroke-linejoin="round" stroke-linecap="round"/>
</svg>
<div class="t" id="t1" style="left:376.6px;top:35px;letter-spacing:0.6px">2016 Presidential to 2018 Best</div>
<div class="t" id="t2" style="left:316.5px;top:74.3px">Statewide Democrat Swing, by County</div>
<div class="t" id="hd" style="left:23.4px;top:632.9px;font-size:30px;letter-spacing:0.68px">@BruneElections</div>
<div id="lt" style="position:absolute;left:889px;top:268.7px;font-size:23.5px;letter-spacing:0.45px;line-height:1;white-space:nowrap;color:#111">Swing</div>
<div class="sw" style="top:313.2px;background:#D98FD0"></div><div class="lb" style="top:312.4px">No Swing</div><div class="sw" style="top:338.4px;background:#C8D0FC"></div><div class="lb" style="top:337.6px">D 0 to 2%</div><div class="sw" style="top:363.7px;background:#ADB8FC"></div><div class="lb" style="top:362.9px">D 2 to 5%</div><div class="sw" style="top:388.9px;background:#929FFB"></div><div class="lb" style="top:388.1px">D 5 to 10%</div><div class="sw" style="top:414.2px;background:#7787F8"></div><div class="lb" style="top:413.4px">D 10 to 20%</div><div class="sw" style="top:439.4px;background:#5C6FF6"></div><div class="lb" style="top:438.6px">D 20 to 30%</div><div class="sw" style="top:464.7px;background:#3F55F3"></div><div class="lb" style="top:463.9px">D 30% to 40%</div><div class="sw" style="top:489.9px;background:#1F3BF0"></div><div class="lb" style="top:489.1px">D &gt;40%</div><div class="sw" style="top:515.2px;background:#FDD6D6"></div><div class="lb" style="top:514.4px">R 0 to 2%</div><div class="sw" style="top:540.5px;background:#F8BFC0"></div><div class="lb" style="top:539.7px">R 2 to 5%</div><div class="sw" style="top:565.7px;background:#F2A5A8"></div><div class="lb" style="top:564.9px">R 5 to 10%</div><div class="sw" style="top:591.0px;background:#EE8B8E"></div><div class="lb" style="top:590.2px">R 10 to 20%</div><div class="sw" style="top:616.2px;background:#E76F73"></div><div class="lb" style="top:615.4px">R 20 to 30%</div><div class="sw" style="top:641.5px;background:#E35256"></div><div class="lb" style="top:640.7px">R 30 to 40%</div><div class="sw" style="top:666.7px;background:#DB3236"></div><div class="lb" style="top:665.9px">R &gt;40%</div>
</div></body></html>
